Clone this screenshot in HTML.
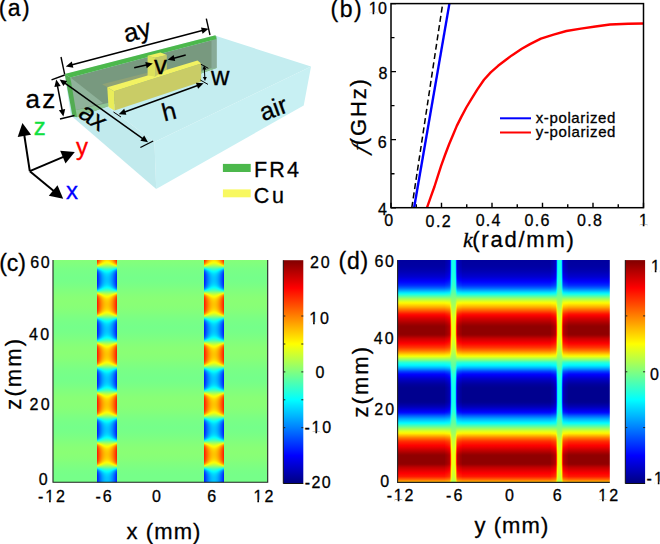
<!DOCTYPE html><html><head><meta charset="utf-8"><style>
html,body{margin:0;padding:0;background:#fff;}
svg{display:block;}
text{font-family:"Liberation Sans",sans-serif;stroke-width:0.3px;}
</style></head><body>
<svg width="660" height="544" viewBox="0 0 660 544">
<defs>
<linearGradient id="cb" x1="0" y1="0" x2="0" y2="1"><stop offset="0.000" stop-color="#800000"/><stop offset="0.025" stop-color="#990000"/><stop offset="0.050" stop-color="#b30000"/><stop offset="0.075" stop-color="#cc0000"/><stop offset="0.100" stop-color="#e50000"/><stop offset="0.125" stop-color="#ff0000"/><stop offset="0.150" stop-color="#ff1a00"/><stop offset="0.175" stop-color="#ff3300"/><stop offset="0.200" stop-color="#ff4c00"/><stop offset="0.225" stop-color="#ff6600"/><stop offset="0.250" stop-color="#ff8000"/><stop offset="0.275" stop-color="#ff9900"/><stop offset="0.300" stop-color="#ffb300"/><stop offset="0.325" stop-color="#ffcc00"/><stop offset="0.350" stop-color="#ffe500"/><stop offset="0.375" stop-color="#ffff00"/><stop offset="0.400" stop-color="#e5ff1a"/><stop offset="0.425" stop-color="#ccff33"/><stop offset="0.450" stop-color="#b3ff4c"/><stop offset="0.475" stop-color="#99ff66"/><stop offset="0.500" stop-color="#80ff80"/><stop offset="0.525" stop-color="#66ff99"/><stop offset="0.550" stop-color="#4cffb3"/><stop offset="0.575" stop-color="#33ffcc"/><stop offset="0.600" stop-color="#1affe5"/><stop offset="0.625" stop-color="#00ffff"/><stop offset="0.650" stop-color="#00e5ff"/><stop offset="0.675" stop-color="#00ccff"/><stop offset="0.700" stop-color="#00b3ff"/><stop offset="0.725" stop-color="#0099ff"/><stop offset="0.750" stop-color="#0080ff"/><stop offset="0.775" stop-color="#0066ff"/><stop offset="0.800" stop-color="#004cff"/><stop offset="0.825" stop-color="#0033ff"/><stop offset="0.850" stop-color="#001aff"/><stop offset="0.875" stop-color="#0000ff"/><stop offset="0.900" stop-color="#0000e5"/><stop offset="0.925" stop-color="#0000cc"/><stop offset="0.950" stop-color="#0000b3"/><stop offset="0.975" stop-color="#000099"/><stop offset="1.000" stop-color="#000080"/></linearGradient>
<linearGradient id="dband" x1="0" y1="0" x2="0" y2="1"><stop offset="0.0000" stop-color="#00009e"/><stop offset="0.0067" stop-color="#00009f"/><stop offset="0.0133" stop-color="#0000a1"/><stop offset="0.0200" stop-color="#0000a2"/><stop offset="0.0267" stop-color="#0000a3"/><stop offset="0.0333" stop-color="#0000a7"/><stop offset="0.0400" stop-color="#0000ab"/><stop offset="0.0467" stop-color="#0000af"/><stop offset="0.0533" stop-color="#0000b5"/><stop offset="0.0600" stop-color="#0000bd"/><stop offset="0.0667" stop-color="#0000c5"/><stop offset="0.0733" stop-color="#0000cd"/><stop offset="0.0800" stop-color="#0000d9"/><stop offset="0.0867" stop-color="#0000e8"/><stop offset="0.0933" stop-color="#0000f7"/><stop offset="0.1000" stop-color="#0007ff"/><stop offset="0.1067" stop-color="#0018ff"/><stop offset="0.1133" stop-color="#0029ff"/><stop offset="0.1200" stop-color="#0046ff"/><stop offset="0.1267" stop-color="#0066ff"/><stop offset="0.1333" stop-color="#008fff"/><stop offset="0.1400" stop-color="#00b9ff"/><stop offset="0.1467" stop-color="#00e4ff"/><stop offset="0.1533" stop-color="#11ffee"/><stop offset="0.1600" stop-color="#3fffc0"/><stop offset="0.1667" stop-color="#6eff91"/><stop offset="0.1733" stop-color="#99ff66"/><stop offset="0.1800" stop-color="#c0ff3f"/><stop offset="0.1867" stop-color="#e2ff1d"/><stop offset="0.1933" stop-color="#fffa00"/><stop offset="0.2000" stop-color="#ffde00"/><stop offset="0.2067" stop-color="#ffc200"/><stop offset="0.2133" stop-color="#ffa400"/><stop offset="0.2200" stop-color="#ff8200"/><stop offset="0.2267" stop-color="#ff6100"/><stop offset="0.2333" stop-color="#ff4000"/><stop offset="0.2400" stop-color="#ff1f00"/><stop offset="0.2467" stop-color="#ff0500"/><stop offset="0.2533" stop-color="#f10000"/><stop offset="0.2600" stop-color="#de0000"/><stop offset="0.2667" stop-color="#ce0000"/><stop offset="0.2733" stop-color="#bf0000"/><stop offset="0.2800" stop-color="#b00000"/><stop offset="0.2867" stop-color="#a30000"/><stop offset="0.2933" stop-color="#960000"/><stop offset="0.3000" stop-color="#8f0000"/><stop offset="0.3067" stop-color="#8f0000"/><stop offset="0.3133" stop-color="#8f0000"/><stop offset="0.3200" stop-color="#8f0000"/><stop offset="0.3267" stop-color="#8f0000"/><stop offset="0.3333" stop-color="#8f0000"/><stop offset="0.3400" stop-color="#9d0000"/><stop offset="0.3467" stop-color="#b30000"/><stop offset="0.3533" stop-color="#c90000"/><stop offset="0.3600" stop-color="#d90000"/><stop offset="0.3667" stop-color="#ea0000"/><stop offset="0.3733" stop-color="#fa0000"/><stop offset="0.3800" stop-color="#ff0e00"/><stop offset="0.3867" stop-color="#ff2200"/><stop offset="0.3933" stop-color="#ff3600"/><stop offset="0.4000" stop-color="#ff5200"/><stop offset="0.4067" stop-color="#ff6f00"/><stop offset="0.4133" stop-color="#ff9300"/><stop offset="0.4200" stop-color="#ffb800"/><stop offset="0.4267" stop-color="#ffe100"/><stop offset="0.4333" stop-color="#f2ff0d"/><stop offset="0.4400" stop-color="#c6ff39"/><stop offset="0.4467" stop-color="#99ff66"/><stop offset="0.4533" stop-color="#64ff9b"/><stop offset="0.4600" stop-color="#2effd1"/><stop offset="0.4667" stop-color="#11ffee"/><stop offset="0.4733" stop-color="#00f4ff"/><stop offset="0.4800" stop-color="#00d2ff"/><stop offset="0.4867" stop-color="#00aaff"/><stop offset="0.4933" stop-color="#007cff"/><stop offset="0.5000" stop-color="#0049ff"/><stop offset="0.5067" stop-color="#0026ff"/><stop offset="0.5133" stop-color="#0006ff"/><stop offset="0.5200" stop-color="#0000f2"/><stop offset="0.5267" stop-color="#0000df"/><stop offset="0.5333" stop-color="#0000cc"/><stop offset="0.5400" stop-color="#0000be"/><stop offset="0.5467" stop-color="#0000b2"/><stop offset="0.5533" stop-color="#0000a6"/><stop offset="0.5600" stop-color="#00009c"/><stop offset="0.5667" stop-color="#000096"/><stop offset="0.5733" stop-color="#000091"/><stop offset="0.5800" stop-color="#00008f"/><stop offset="0.5867" stop-color="#00008f"/><stop offset="0.5933" stop-color="#00008f"/><stop offset="0.6000" stop-color="#00008f"/><stop offset="0.6067" stop-color="#00008f"/><stop offset="0.6133" stop-color="#00008f"/><stop offset="0.6200" stop-color="#00008f"/><stop offset="0.6267" stop-color="#00008f"/><stop offset="0.6333" stop-color="#00008f"/><stop offset="0.6400" stop-color="#000093"/><stop offset="0.6467" stop-color="#00009e"/><stop offset="0.6533" stop-color="#0000aa"/><stop offset="0.6600" stop-color="#0000b8"/><stop offset="0.6667" stop-color="#0000cb"/><stop offset="0.6733" stop-color="#0000df"/><stop offset="0.6800" stop-color="#0000f3"/><stop offset="0.6867" stop-color="#000bff"/><stop offset="0.6933" stop-color="#0031ff"/><stop offset="0.7000" stop-color="#005bff"/><stop offset="0.7067" stop-color="#0080ff"/><stop offset="0.7133" stop-color="#00a5ff"/><stop offset="0.7200" stop-color="#00c4ff"/><stop offset="0.7267" stop-color="#00e1ff"/><stop offset="0.7333" stop-color="#00ffff"/><stop offset="0.7400" stop-color="#2affd5"/><stop offset="0.7467" stop-color="#54ffab"/><stop offset="0.7533" stop-color="#7eff81"/><stop offset="0.7600" stop-color="#a6ff59"/><stop offset="0.7667" stop-color="#ceff31"/><stop offset="0.7733" stop-color="#eeff11"/><stop offset="0.7800" stop-color="#ffef00"/><stop offset="0.7867" stop-color="#ffc800"/><stop offset="0.7933" stop-color="#ffa000"/><stop offset="0.8000" stop-color="#ff7800"/><stop offset="0.8067" stop-color="#ff5800"/><stop offset="0.8133" stop-color="#ff3700"/><stop offset="0.8200" stop-color="#ff2200"/><stop offset="0.8267" stop-color="#ff1200"/><stop offset="0.8333" stop-color="#ff0100"/><stop offset="0.8400" stop-color="#f00000"/><stop offset="0.8467" stop-color="#de0000"/><stop offset="0.8533" stop-color="#cb0000"/><stop offset="0.8600" stop-color="#ba0000"/><stop offset="0.8667" stop-color="#a90000"/><stop offset="0.8733" stop-color="#980000"/><stop offset="0.8800" stop-color="#8f0000"/><stop offset="0.8867" stop-color="#8f0000"/><stop offset="0.8933" stop-color="#8f0000"/><stop offset="0.9000" stop-color="#8f0000"/><stop offset="0.9067" stop-color="#8f0000"/><stop offset="0.9133" stop-color="#8f0000"/><stop offset="0.9200" stop-color="#980000"/><stop offset="0.9267" stop-color="#af0000"/><stop offset="0.9333" stop-color="#c30000"/><stop offset="0.9400" stop-color="#d20000"/><stop offset="0.9467" stop-color="#e20000"/><stop offset="0.9533" stop-color="#f10000"/><stop offset="0.9600" stop-color="#fe0000"/><stop offset="0.9667" stop-color="#ff0c00"/><stop offset="0.9733" stop-color="#ff1900"/><stop offset="0.9800" stop-color="#ff3c00"/><stop offset="0.9867" stop-color="#ff6300"/><stop offset="0.9933" stop-color="#ff9800"/><stop offset="1.0000" stop-color="#ffc700"/></linearGradient>
<linearGradient id="ds0" x1="0" y1="0" x2="0" y2="1"><stop offset="0.0000" stop-color="#0000a8"/><stop offset="0.0067" stop-color="#0000a9"/><stop offset="0.0133" stop-color="#0000aa"/><stop offset="0.0200" stop-color="#0000ac"/><stop offset="0.0267" stop-color="#0000ad"/><stop offset="0.0333" stop-color="#0000b1"/><stop offset="0.0400" stop-color="#0000b5"/><stop offset="0.0467" stop-color="#0000b9"/><stop offset="0.0533" stop-color="#0000be"/><stop offset="0.0600" stop-color="#0000c6"/><stop offset="0.0667" stop-color="#0000ce"/><stop offset="0.0733" stop-color="#0000d6"/><stop offset="0.0800" stop-color="#0000e2"/><stop offset="0.0867" stop-color="#0000f0"/><stop offset="0.0933" stop-color="#0000ff"/><stop offset="0.1000" stop-color="#000eff"/><stop offset="0.1067" stop-color="#001fff"/><stop offset="0.1133" stop-color="#0030ff"/><stop offset="0.1200" stop-color="#004cff"/><stop offset="0.1267" stop-color="#006cff"/><stop offset="0.1333" stop-color="#0093ff"/><stop offset="0.1400" stop-color="#00bdff"/><stop offset="0.1467" stop-color="#00e7ff"/><stop offset="0.1533" stop-color="#13ffec"/><stop offset="0.1600" stop-color="#41ffbe"/><stop offset="0.1667" stop-color="#6fff90"/><stop offset="0.1733" stop-color="#98ff67"/><stop offset="0.1800" stop-color="#bfff40"/><stop offset="0.1867" stop-color="#e0ff1f"/><stop offset="0.1933" stop-color="#fffd00"/><stop offset="0.2000" stop-color="#ffe100"/><stop offset="0.2067" stop-color="#ffc600"/><stop offset="0.2133" stop-color="#ffa800"/><stop offset="0.2200" stop-color="#ff8700"/><stop offset="0.2267" stop-color="#ff6600"/><stop offset="0.2333" stop-color="#ff4600"/><stop offset="0.2400" stop-color="#ff2600"/><stop offset="0.2467" stop-color="#ff0d00"/><stop offset="0.2533" stop-color="#f90000"/><stop offset="0.2600" stop-color="#e60000"/><stop offset="0.2667" stop-color="#d70000"/><stop offset="0.2733" stop-color="#c80000"/><stop offset="0.2800" stop-color="#b90000"/><stop offset="0.2867" stop-color="#ac0000"/><stop offset="0.2933" stop-color="#a00000"/><stop offset="0.3000" stop-color="#990000"/><stop offset="0.3067" stop-color="#990000"/><stop offset="0.3133" stop-color="#990000"/><stop offset="0.3200" stop-color="#990000"/><stop offset="0.3267" stop-color="#990000"/><stop offset="0.3333" stop-color="#990000"/><stop offset="0.3400" stop-color="#a60000"/><stop offset="0.3467" stop-color="#bc0000"/><stop offset="0.3533" stop-color="#d20000"/><stop offset="0.3600" stop-color="#e20000"/><stop offset="0.3667" stop-color="#f20000"/><stop offset="0.3733" stop-color="#ff0300"/><stop offset="0.3800" stop-color="#ff1500"/><stop offset="0.3867" stop-color="#ff2900"/><stop offset="0.3933" stop-color="#ff3d00"/><stop offset="0.4000" stop-color="#ff5800"/><stop offset="0.4067" stop-color="#ff7400"/><stop offset="0.4133" stop-color="#ff9800"/><stop offset="0.4200" stop-color="#ffbc00"/><stop offset="0.4267" stop-color="#ffe400"/><stop offset="0.4333" stop-color="#f0ff0f"/><stop offset="0.4400" stop-color="#c4ff3b"/><stop offset="0.4467" stop-color="#98ff67"/><stop offset="0.4533" stop-color="#64ff9b"/><stop offset="0.4600" stop-color="#2fffd0"/><stop offset="0.4667" stop-color="#13ffec"/><stop offset="0.4733" stop-color="#00f6ff"/><stop offset="0.4800" stop-color="#00d5ff"/><stop offset="0.4867" stop-color="#00afff"/><stop offset="0.4933" stop-color="#0081ff"/><stop offset="0.5000" stop-color="#004fff"/><stop offset="0.5067" stop-color="#002dff"/><stop offset="0.5133" stop-color="#000dff"/><stop offset="0.5200" stop-color="#0000fa"/><stop offset="0.5267" stop-color="#0000e7"/><stop offset="0.5333" stop-color="#0000d5"/><stop offset="0.5400" stop-color="#0000c7"/><stop offset="0.5467" stop-color="#0000bb"/><stop offset="0.5533" stop-color="#0000af"/><stop offset="0.5600" stop-color="#0000a6"/><stop offset="0.5667" stop-color="#0000a0"/><stop offset="0.5733" stop-color="#00009b"/><stop offset="0.5800" stop-color="#000099"/><stop offset="0.5867" stop-color="#000099"/><stop offset="0.5933" stop-color="#000099"/><stop offset="0.6000" stop-color="#000099"/><stop offset="0.6067" stop-color="#000099"/><stop offset="0.6133" stop-color="#000099"/><stop offset="0.6200" stop-color="#000099"/><stop offset="0.6267" stop-color="#000099"/><stop offset="0.6333" stop-color="#000099"/><stop offset="0.6400" stop-color="#00009d"/><stop offset="0.6467" stop-color="#0000a8"/><stop offset="0.6533" stop-color="#0000b3"/><stop offset="0.6600" stop-color="#0000c1"/><stop offset="0.6667" stop-color="#0000d4"/><stop offset="0.6733" stop-color="#0000e7"/><stop offset="0.6800" stop-color="#0000fb"/><stop offset="0.6867" stop-color="#0012ff"/><stop offset="0.6933" stop-color="#0038ff"/><stop offset="0.7000" stop-color="#0061ff"/><stop offset="0.7067" stop-color="#0085ff"/><stop offset="0.7133" stop-color="#00a9ff"/><stop offset="0.7200" stop-color="#00c8ff"/><stop offset="0.7267" stop-color="#00e4ff"/><stop offset="0.7333" stop-color="#03fffc"/><stop offset="0.7400" stop-color="#2cffd3"/><stop offset="0.7467" stop-color="#55ffaa"/><stop offset="0.7533" stop-color="#7eff81"/><stop offset="0.7600" stop-color="#a6ff59"/><stop offset="0.7667" stop-color="#ccff33"/><stop offset="0.7733" stop-color="#ecff13"/><stop offset="0.7800" stop-color="#fff200"/><stop offset="0.7867" stop-color="#ffcc00"/><stop offset="0.7933" stop-color="#ffa400"/><stop offset="0.8000" stop-color="#ff7e00"/><stop offset="0.8067" stop-color="#ff5e00"/><stop offset="0.8133" stop-color="#ff3e00"/><stop offset="0.8200" stop-color="#ff2900"/><stop offset="0.8267" stop-color="#ff1900"/><stop offset="0.8333" stop-color="#ff0900"/><stop offset="0.8400" stop-color="#f80000"/><stop offset="0.8467" stop-color="#e60000"/><stop offset="0.8533" stop-color="#d40000"/><stop offset="0.8600" stop-color="#c30000"/><stop offset="0.8667" stop-color="#b20000"/><stop offset="0.8733" stop-color="#a10000"/><stop offset="0.8800" stop-color="#990000"/><stop offset="0.8867" stop-color="#990000"/><stop offset="0.8933" stop-color="#990000"/><stop offset="0.9000" stop-color="#990000"/><stop offset="0.9067" stop-color="#990000"/><stop offset="0.9133" stop-color="#990000"/><stop offset="0.9200" stop-color="#a20000"/><stop offset="0.9267" stop-color="#b80000"/><stop offset="0.9333" stop-color="#cc0000"/><stop offset="0.9400" stop-color="#db0000"/><stop offset="0.9467" stop-color="#ea0000"/><stop offset="0.9533" stop-color="#f90000"/><stop offset="0.9600" stop-color="#ff0700"/><stop offset="0.9667" stop-color="#ff1400"/><stop offset="0.9733" stop-color="#ff2000"/><stop offset="0.9800" stop-color="#ff4200"/><stop offset="0.9867" stop-color="#ff6800"/><stop offset="0.9933" stop-color="#ff9c00"/><stop offset="1.0000" stop-color="#ffcb00"/></linearGradient>
<linearGradient id="ds1" x1="0" y1="0" x2="0" y2="1"><stop offset="0.0000" stop-color="#0000ad"/><stop offset="0.0067" stop-color="#0000ae"/><stop offset="0.0133" stop-color="#0000af"/><stop offset="0.0200" stop-color="#0000b1"/><stop offset="0.0267" stop-color="#0000b2"/><stop offset="0.0333" stop-color="#0000b6"/><stop offset="0.0400" stop-color="#0000ba"/><stop offset="0.0467" stop-color="#0000be"/><stop offset="0.0533" stop-color="#0000c3"/><stop offset="0.0600" stop-color="#0000cb"/><stop offset="0.0667" stop-color="#0000d3"/><stop offset="0.0733" stop-color="#0000db"/><stop offset="0.0800" stop-color="#0000e6"/><stop offset="0.0867" stop-color="#0000f4"/><stop offset="0.0933" stop-color="#0004ff"/><stop offset="0.1000" stop-color="#0012ff"/><stop offset="0.1067" stop-color="#0023ff"/><stop offset="0.1133" stop-color="#0034ff"/><stop offset="0.1200" stop-color="#004fff"/><stop offset="0.1267" stop-color="#006fff"/><stop offset="0.1333" stop-color="#0096ff"/><stop offset="0.1400" stop-color="#00bfff"/><stop offset="0.1467" stop-color="#00e8ff"/><stop offset="0.1533" stop-color="#14ffeb"/><stop offset="0.1600" stop-color="#41ffbe"/><stop offset="0.1667" stop-color="#6fff90"/><stop offset="0.1733" stop-color="#98ff67"/><stop offset="0.1800" stop-color="#beff41"/><stop offset="0.1867" stop-color="#dfff20"/><stop offset="0.1933" stop-color="#fffe00"/><stop offset="0.2000" stop-color="#ffe300"/><stop offset="0.2067" stop-color="#ffc800"/><stop offset="0.2133" stop-color="#ffab00"/><stop offset="0.2200" stop-color="#ff8a00"/><stop offset="0.2267" stop-color="#ff6900"/><stop offset="0.2333" stop-color="#ff4a00"/><stop offset="0.2400" stop-color="#ff2a00"/><stop offset="0.2467" stop-color="#ff1100"/><stop offset="0.2533" stop-color="#fd0000"/><stop offset="0.2600" stop-color="#ea0000"/><stop offset="0.2667" stop-color="#db0000"/><stop offset="0.2733" stop-color="#cd0000"/><stop offset="0.2800" stop-color="#be0000"/><stop offset="0.2867" stop-color="#b10000"/><stop offset="0.2933" stop-color="#a50000"/><stop offset="0.3000" stop-color="#9e0000"/><stop offset="0.3067" stop-color="#9e0000"/><stop offset="0.3133" stop-color="#9e0000"/><stop offset="0.3200" stop-color="#9e0000"/><stop offset="0.3267" stop-color="#9e0000"/><stop offset="0.3333" stop-color="#9e0000"/><stop offset="0.3400" stop-color="#ab0000"/><stop offset="0.3467" stop-color="#c10000"/><stop offset="0.3533" stop-color="#d60000"/><stop offset="0.3600" stop-color="#e60000"/><stop offset="0.3667" stop-color="#f60000"/><stop offset="0.3733" stop-color="#ff0700"/><stop offset="0.3800" stop-color="#ff1900"/><stop offset="0.3867" stop-color="#ff2d00"/><stop offset="0.3933" stop-color="#ff4100"/><stop offset="0.4000" stop-color="#ff5b00"/><stop offset="0.4067" stop-color="#ff7700"/><stop offset="0.4133" stop-color="#ff9b00"/><stop offset="0.4200" stop-color="#ffbe00"/><stop offset="0.4267" stop-color="#ffe600"/><stop offset="0.4333" stop-color="#eeff11"/><stop offset="0.4400" stop-color="#c3ff3c"/><stop offset="0.4467" stop-color="#98ff67"/><stop offset="0.4533" stop-color="#65ff9a"/><stop offset="0.4600" stop-color="#30ffcf"/><stop offset="0.4667" stop-color="#15ffea"/><stop offset="0.4733" stop-color="#00f8ff"/><stop offset="0.4800" stop-color="#00d7ff"/><stop offset="0.4867" stop-color="#00b1ff"/><stop offset="0.4933" stop-color="#0083ff"/><stop offset="0.5000" stop-color="#0053ff"/><stop offset="0.5067" stop-color="#0031ff"/><stop offset="0.5133" stop-color="#0011ff"/><stop offset="0.5200" stop-color="#0000fe"/><stop offset="0.5267" stop-color="#0000eb"/><stop offset="0.5333" stop-color="#0000d9"/><stop offset="0.5400" stop-color="#0000cc"/><stop offset="0.5467" stop-color="#0000c0"/><stop offset="0.5533" stop-color="#0000b4"/><stop offset="0.5600" stop-color="#0000ab"/><stop offset="0.5667" stop-color="#0000a5"/><stop offset="0.5733" stop-color="#0000a0"/><stop offset="0.5800" stop-color="#00009e"/><stop offset="0.5867" stop-color="#00009e"/><stop offset="0.5933" stop-color="#00009e"/><stop offset="0.6000" stop-color="#00009e"/><stop offset="0.6067" stop-color="#00009e"/><stop offset="0.6133" stop-color="#00009e"/><stop offset="0.6200" stop-color="#00009e"/><stop offset="0.6267" stop-color="#00009e"/><stop offset="0.6333" stop-color="#00009e"/><stop offset="0.6400" stop-color="#0000a2"/><stop offset="0.6467" stop-color="#0000ad"/><stop offset="0.6533" stop-color="#0000b8"/><stop offset="0.6600" stop-color="#0000c6"/><stop offset="0.6667" stop-color="#0000d9"/><stop offset="0.6733" stop-color="#0000ec"/><stop offset="0.6800" stop-color="#0000ff"/><stop offset="0.6867" stop-color="#0016ff"/><stop offset="0.6933" stop-color="#003cff"/><stop offset="0.7000" stop-color="#0064ff"/><stop offset="0.7067" stop-color="#0088ff"/><stop offset="0.7133" stop-color="#00abff"/><stop offset="0.7200" stop-color="#00caff"/><stop offset="0.7267" stop-color="#00e6ff"/><stop offset="0.7333" stop-color="#04fffb"/><stop offset="0.7400" stop-color="#2dffd2"/><stop offset="0.7467" stop-color="#56ffa9"/><stop offset="0.7533" stop-color="#7eff81"/><stop offset="0.7600" stop-color="#a5ff5a"/><stop offset="0.7667" stop-color="#cbff34"/><stop offset="0.7733" stop-color="#ebff14"/><stop offset="0.7800" stop-color="#fff300"/><stop offset="0.7867" stop-color="#ffce00"/><stop offset="0.7933" stop-color="#ffa600"/><stop offset="0.8000" stop-color="#ff8100"/><stop offset="0.8067" stop-color="#ff6100"/><stop offset="0.8133" stop-color="#ff4100"/><stop offset="0.8200" stop-color="#ff2d00"/><stop offset="0.8267" stop-color="#ff1d00"/><stop offset="0.8333" stop-color="#ff0d00"/><stop offset="0.8400" stop-color="#fc0000"/><stop offset="0.8467" stop-color="#ea0000"/><stop offset="0.8533" stop-color="#d90000"/><stop offset="0.8600" stop-color="#c80000"/><stop offset="0.8667" stop-color="#b70000"/><stop offset="0.8733" stop-color="#a70000"/><stop offset="0.8800" stop-color="#9e0000"/><stop offset="0.8867" stop-color="#9e0000"/><stop offset="0.8933" stop-color="#9e0000"/><stop offset="0.9000" stop-color="#9e0000"/><stop offset="0.9067" stop-color="#9e0000"/><stop offset="0.9133" stop-color="#9e0000"/><stop offset="0.9200" stop-color="#a70000"/><stop offset="0.9267" stop-color="#bd0000"/><stop offset="0.9333" stop-color="#d00000"/><stop offset="0.9400" stop-color="#df0000"/><stop offset="0.9467" stop-color="#ee0000"/><stop offset="0.9533" stop-color="#fd0000"/><stop offset="0.9600" stop-color="#ff0b00"/><stop offset="0.9667" stop-color="#ff1700"/><stop offset="0.9733" stop-color="#ff2400"/><stop offset="0.9800" stop-color="#ff4600"/><stop offset="0.9867" stop-color="#ff6b00"/><stop offset="0.9933" stop-color="#ff9f00"/><stop offset="1.0000" stop-color="#ffcd00"/></linearGradient>
<linearGradient id="ds2" x1="0" y1="0" x2="0" y2="1"><stop offset="0.0000" stop-color="#0000b3"/><stop offset="0.0067" stop-color="#0000b4"/><stop offset="0.0133" stop-color="#0000b6"/><stop offset="0.0200" stop-color="#0000b7"/><stop offset="0.0267" stop-color="#0000b8"/><stop offset="0.0333" stop-color="#0000bc"/><stop offset="0.0400" stop-color="#0000c0"/><stop offset="0.0467" stop-color="#0000c4"/><stop offset="0.0533" stop-color="#0000c9"/><stop offset="0.0600" stop-color="#0000d1"/><stop offset="0.0667" stop-color="#0000d8"/><stop offset="0.0733" stop-color="#0000e0"/><stop offset="0.0800" stop-color="#0000ec"/><stop offset="0.0867" stop-color="#0000fa"/><stop offset="0.0933" stop-color="#0009ff"/><stop offset="0.1000" stop-color="#0017ff"/><stop offset="0.1067" stop-color="#0027ff"/><stop offset="0.1133" stop-color="#0038ff"/><stop offset="0.1200" stop-color="#0053ff"/><stop offset="0.1267" stop-color="#0072ff"/><stop offset="0.1333" stop-color="#0099ff"/><stop offset="0.1400" stop-color="#00c1ff"/><stop offset="0.1467" stop-color="#00eaff"/><stop offset="0.1533" stop-color="#16ffe9"/><stop offset="0.1600" stop-color="#42ffbd"/><stop offset="0.1667" stop-color="#6fff90"/><stop offset="0.1733" stop-color="#97ff68"/><stop offset="0.1800" stop-color="#bdff42"/><stop offset="0.1867" stop-color="#deff21"/><stop offset="0.1933" stop-color="#feff01"/><stop offset="0.2000" stop-color="#ffe500"/><stop offset="0.2067" stop-color="#ffcb00"/><stop offset="0.2133" stop-color="#ffae00"/><stop offset="0.2200" stop-color="#ff8d00"/><stop offset="0.2267" stop-color="#ff6d00"/><stop offset="0.2333" stop-color="#ff4e00"/><stop offset="0.2400" stop-color="#ff2f00"/><stop offset="0.2467" stop-color="#ff1600"/><stop offset="0.2533" stop-color="#ff0300"/><stop offset="0.2600" stop-color="#f00000"/><stop offset="0.2667" stop-color="#e10000"/><stop offset="0.2733" stop-color="#d30000"/><stop offset="0.2800" stop-color="#c40000"/><stop offset="0.2867" stop-color="#b80000"/><stop offset="0.2933" stop-color="#ab0000"/><stop offset="0.3000" stop-color="#a50000"/><stop offset="0.3067" stop-color="#a50000"/><stop offset="0.3133" stop-color="#a50000"/><stop offset="0.3200" stop-color="#a50000"/><stop offset="0.3267" stop-color="#a50000"/><stop offset="0.3333" stop-color="#a50000"/><stop offset="0.3400" stop-color="#b20000"/><stop offset="0.3467" stop-color="#c70000"/><stop offset="0.3533" stop-color="#dc0000"/><stop offset="0.3600" stop-color="#ec0000"/><stop offset="0.3667" stop-color="#fc0000"/><stop offset="0.3733" stop-color="#ff0d00"/><stop offset="0.3800" stop-color="#ff1e00"/><stop offset="0.3867" stop-color="#ff3100"/><stop offset="0.3933" stop-color="#ff4500"/><stop offset="0.4000" stop-color="#ff5f00"/><stop offset="0.4067" stop-color="#ff7b00"/><stop offset="0.4133" stop-color="#ff9e00"/><stop offset="0.4200" stop-color="#ffc100"/><stop offset="0.4267" stop-color="#ffe800"/><stop offset="0.4333" stop-color="#edff12"/><stop offset="0.4400" stop-color="#c2ff3d"/><stop offset="0.4467" stop-color="#98ff67"/><stop offset="0.4533" stop-color="#65ff9a"/><stop offset="0.4600" stop-color="#31ffce"/><stop offset="0.4667" stop-color="#16ffe9"/><stop offset="0.4733" stop-color="#00faff"/><stop offset="0.4800" stop-color="#00d9ff"/><stop offset="0.4867" stop-color="#00b4ff"/><stop offset="0.4933" stop-color="#0087ff"/><stop offset="0.5000" stop-color="#0057ff"/><stop offset="0.5067" stop-color="#0035ff"/><stop offset="0.5133" stop-color="#0016ff"/><stop offset="0.5200" stop-color="#0004ff"/><stop offset="0.5267" stop-color="#0000f1"/><stop offset="0.5333" stop-color="#0000df"/><stop offset="0.5400" stop-color="#0000d2"/><stop offset="0.5467" stop-color="#0000c6"/><stop offset="0.5533" stop-color="#0000bb"/><stop offset="0.5600" stop-color="#0000b1"/><stop offset="0.5667" stop-color="#0000ac"/><stop offset="0.5733" stop-color="#0000a6"/><stop offset="0.5800" stop-color="#0000a5"/><stop offset="0.5867" stop-color="#0000a5"/><stop offset="0.5933" stop-color="#0000a5"/><stop offset="0.6000" stop-color="#0000a5"/><stop offset="0.6067" stop-color="#0000a5"/><stop offset="0.6133" stop-color="#0000a5"/><stop offset="0.6200" stop-color="#0000a5"/><stop offset="0.6267" stop-color="#0000a5"/><stop offset="0.6333" stop-color="#0000a5"/><stop offset="0.6400" stop-color="#0000a9"/><stop offset="0.6467" stop-color="#0000b4"/><stop offset="0.6533" stop-color="#0000bf"/><stop offset="0.6600" stop-color="#0000cc"/><stop offset="0.6667" stop-color="#0000df"/><stop offset="0.6733" stop-color="#0000f1"/><stop offset="0.6800" stop-color="#0006ff"/><stop offset="0.6867" stop-color="#001bff"/><stop offset="0.6933" stop-color="#0040ff"/><stop offset="0.7000" stop-color="#0068ff"/><stop offset="0.7067" stop-color="#008bff"/><stop offset="0.7133" stop-color="#00aeff"/><stop offset="0.7200" stop-color="#00cdff"/><stop offset="0.7267" stop-color="#00e8ff"/><stop offset="0.7333" stop-color="#06fff9"/><stop offset="0.7400" stop-color="#2effd1"/><stop offset="0.7467" stop-color="#56ffa9"/><stop offset="0.7533" stop-color="#7eff81"/><stop offset="0.7600" stop-color="#a5ff5a"/><stop offset="0.7667" stop-color="#caff35"/><stop offset="0.7733" stop-color="#e9ff16"/><stop offset="0.7800" stop-color="#fff500"/><stop offset="0.7867" stop-color="#ffd000"/><stop offset="0.7933" stop-color="#ffa900"/><stop offset="0.8000" stop-color="#ff8400"/><stop offset="0.8067" stop-color="#ff6500"/><stop offset="0.8133" stop-color="#ff4600"/><stop offset="0.8200" stop-color="#ff3100"/><stop offset="0.8267" stop-color="#ff2200"/><stop offset="0.8333" stop-color="#ff1200"/><stop offset="0.8400" stop-color="#ff0200"/><stop offset="0.8467" stop-color="#f00000"/><stop offset="0.8533" stop-color="#df0000"/><stop offset="0.8600" stop-color="#ce0000"/><stop offset="0.8667" stop-color="#bd0000"/><stop offset="0.8733" stop-color="#ad0000"/><stop offset="0.8800" stop-color="#a50000"/><stop offset="0.8867" stop-color="#a50000"/><stop offset="0.8933" stop-color="#a50000"/><stop offset="0.9000" stop-color="#a50000"/><stop offset="0.9067" stop-color="#a50000"/><stop offset="0.9133" stop-color="#a50000"/><stop offset="0.9200" stop-color="#ae0000"/><stop offset="0.9267" stop-color="#c30000"/><stop offset="0.9333" stop-color="#d60000"/><stop offset="0.9400" stop-color="#e50000"/><stop offset="0.9467" stop-color="#f40000"/><stop offset="0.9533" stop-color="#ff0300"/><stop offset="0.9600" stop-color="#ff1000"/><stop offset="0.9667" stop-color="#ff1c00"/><stop offset="0.9733" stop-color="#ff2900"/><stop offset="0.9800" stop-color="#ff4a00"/><stop offset="0.9867" stop-color="#ff6f00"/><stop offset="0.9933" stop-color="#ffa200"/><stop offset="1.0000" stop-color="#ffcf00"/></linearGradient>
<linearGradient id="ds3" x1="0" y1="0" x2="0" y2="1"><stop offset="0.0000" stop-color="#0000bb"/><stop offset="0.0067" stop-color="#0000bc"/><stop offset="0.0133" stop-color="#0000bd"/><stop offset="0.0200" stop-color="#0000be"/><stop offset="0.0267" stop-color="#0000c0"/><stop offset="0.0333" stop-color="#0000c3"/><stop offset="0.0400" stop-color="#0000c7"/><stop offset="0.0467" stop-color="#0000cb"/><stop offset="0.0533" stop-color="#0000d0"/><stop offset="0.0600" stop-color="#0000d8"/><stop offset="0.0667" stop-color="#0000df"/><stop offset="0.0733" stop-color="#0000e7"/><stop offset="0.0800" stop-color="#0000f2"/><stop offset="0.0867" stop-color="#0001ff"/><stop offset="0.0933" stop-color="#000fff"/><stop offset="0.1000" stop-color="#001dff"/><stop offset="0.1067" stop-color="#002dff"/><stop offset="0.1133" stop-color="#003eff"/><stop offset="0.1200" stop-color="#0058ff"/><stop offset="0.1267" stop-color="#0077ff"/><stop offset="0.1333" stop-color="#009dff"/><stop offset="0.1400" stop-color="#00c4ff"/><stop offset="0.1467" stop-color="#00edff"/><stop offset="0.1533" stop-color="#17ffe8"/><stop offset="0.1600" stop-color="#43ffbc"/><stop offset="0.1667" stop-color="#70ff8f"/><stop offset="0.1733" stop-color="#97ff68"/><stop offset="0.1800" stop-color="#bcff43"/><stop offset="0.1867" stop-color="#ddff22"/><stop offset="0.1933" stop-color="#fcff03"/><stop offset="0.2000" stop-color="#ffe800"/><stop offset="0.2067" stop-color="#ffce00"/><stop offset="0.2133" stop-color="#ffb100"/><stop offset="0.2200" stop-color="#ff9100"/><stop offset="0.2267" stop-color="#ff7200"/><stop offset="0.2333" stop-color="#ff5300"/><stop offset="0.2400" stop-color="#ff3400"/><stop offset="0.2467" stop-color="#ff1c00"/><stop offset="0.2533" stop-color="#ff0a00"/><stop offset="0.2600" stop-color="#f70000"/><stop offset="0.2667" stop-color="#e80000"/><stop offset="0.2733" stop-color="#da0000"/><stop offset="0.2800" stop-color="#cc0000"/><stop offset="0.2867" stop-color="#bf0000"/><stop offset="0.2933" stop-color="#b30000"/><stop offset="0.3000" stop-color="#ac0000"/><stop offset="0.3067" stop-color="#ac0000"/><stop offset="0.3133" stop-color="#ac0000"/><stop offset="0.3200" stop-color="#ac0000"/><stop offset="0.3267" stop-color="#ac0000"/><stop offset="0.3333" stop-color="#ac0000"/><stop offset="0.3400" stop-color="#b90000"/><stop offset="0.3467" stop-color="#cf0000"/><stop offset="0.3533" stop-color="#e30000"/><stop offset="0.3600" stop-color="#f30000"/><stop offset="0.3667" stop-color="#ff0300"/><stop offset="0.3733" stop-color="#ff1300"/><stop offset="0.3800" stop-color="#ff2400"/><stop offset="0.3867" stop-color="#ff3700"/><stop offset="0.3933" stop-color="#ff4a00"/><stop offset="0.4000" stop-color="#ff6400"/><stop offset="0.4067" stop-color="#ff7f00"/><stop offset="0.4133" stop-color="#ffa200"/><stop offset="0.4200" stop-color="#ffc400"/><stop offset="0.4267" stop-color="#ffea00"/><stop offset="0.4333" stop-color="#ebff14"/><stop offset="0.4400" stop-color="#c1ff3e"/><stop offset="0.4467" stop-color="#97ff68"/><stop offset="0.4533" stop-color="#65ff9a"/><stop offset="0.4600" stop-color="#33ffcc"/><stop offset="0.4667" stop-color="#18ffe7"/><stop offset="0.4733" stop-color="#00fcff"/><stop offset="0.4800" stop-color="#00dcff"/><stop offset="0.4867" stop-color="#00b7ff"/><stop offset="0.4933" stop-color="#008bff"/><stop offset="0.5000" stop-color="#005cff"/><stop offset="0.5067" stop-color="#003bff"/><stop offset="0.5133" stop-color="#001cff"/><stop offset="0.5200" stop-color="#000aff"/><stop offset="0.5267" stop-color="#0000f8"/><stop offset="0.5333" stop-color="#0000e6"/><stop offset="0.5400" stop-color="#0000d9"/><stop offset="0.5467" stop-color="#0000cd"/><stop offset="0.5533" stop-color="#0000c2"/><stop offset="0.5600" stop-color="#0000b9"/><stop offset="0.5667" stop-color="#0000b4"/><stop offset="0.5733" stop-color="#0000ae"/><stop offset="0.5800" stop-color="#0000ac"/><stop offset="0.5867" stop-color="#0000ac"/><stop offset="0.5933" stop-color="#0000ac"/><stop offset="0.6000" stop-color="#0000ac"/><stop offset="0.6067" stop-color="#0000ac"/><stop offset="0.6133" stop-color="#0000ac"/><stop offset="0.6200" stop-color="#0000ac"/><stop offset="0.6267" stop-color="#0000ac"/><stop offset="0.6333" stop-color="#0000ac"/><stop offset="0.6400" stop-color="#0000b0"/><stop offset="0.6467" stop-color="#0000bb"/><stop offset="0.6533" stop-color="#0000c6"/><stop offset="0.6600" stop-color="#0000d3"/><stop offset="0.6667" stop-color="#0000e5"/><stop offset="0.6733" stop-color="#0000f8"/><stop offset="0.6800" stop-color="#000cff"/><stop offset="0.6867" stop-color="#0021ff"/><stop offset="0.6933" stop-color="#0045ff"/><stop offset="0.7000" stop-color="#006dff"/><stop offset="0.7067" stop-color="#008fff"/><stop offset="0.7133" stop-color="#00b2ff"/><stop offset="0.7200" stop-color="#00d0ff"/><stop offset="0.7267" stop-color="#00eaff"/><stop offset="0.7333" stop-color="#08fff7"/><stop offset="0.7400" stop-color="#2fffd0"/><stop offset="0.7467" stop-color="#57ffa8"/><stop offset="0.7533" stop-color="#7eff81"/><stop offset="0.7600" stop-color="#a4ff5b"/><stop offset="0.7667" stop-color="#c9ff36"/><stop offset="0.7733" stop-color="#e8ff17"/><stop offset="0.7800" stop-color="#fff800"/><stop offset="0.7867" stop-color="#ffd300"/><stop offset="0.7933" stop-color="#ffad00"/><stop offset="0.8000" stop-color="#ff8800"/><stop offset="0.8067" stop-color="#ff6900"/><stop offset="0.8133" stop-color="#ff4b00"/><stop offset="0.8200" stop-color="#ff3700"/><stop offset="0.8267" stop-color="#ff2700"/><stop offset="0.8333" stop-color="#ff1800"/><stop offset="0.8400" stop-color="#ff0800"/><stop offset="0.8467" stop-color="#f60000"/><stop offset="0.8533" stop-color="#e60000"/><stop offset="0.8600" stop-color="#d50000"/><stop offset="0.8667" stop-color="#c50000"/><stop offset="0.8733" stop-color="#b50000"/><stop offset="0.8800" stop-color="#ac0000"/><stop offset="0.8867" stop-color="#ac0000"/><stop offset="0.8933" stop-color="#ac0000"/><stop offset="0.9000" stop-color="#ac0000"/><stop offset="0.9067" stop-color="#ac0000"/><stop offset="0.9133" stop-color="#ac0000"/><stop offset="0.9200" stop-color="#b50000"/><stop offset="0.9267" stop-color="#cb0000"/><stop offset="0.9333" stop-color="#dd0000"/><stop offset="0.9400" stop-color="#ec0000"/><stop offset="0.9467" stop-color="#fa0000"/><stop offset="0.9533" stop-color="#ff0a00"/><stop offset="0.9600" stop-color="#ff1600"/><stop offset="0.9667" stop-color="#ff2200"/><stop offset="0.9733" stop-color="#ff2f00"/><stop offset="0.9800" stop-color="#ff4f00"/><stop offset="0.9867" stop-color="#ff7400"/><stop offset="0.9933" stop-color="#ffa500"/><stop offset="1.0000" stop-color="#ffd200"/></linearGradient>
<linearGradient id="ds4" x1="0" y1="0" x2="0" y2="1"><stop offset="0.0000" stop-color="#0000c5"/><stop offset="0.0067" stop-color="#0000c6"/><stop offset="0.0133" stop-color="#0000c8"/><stop offset="0.0200" stop-color="#0000c9"/><stop offset="0.0267" stop-color="#0000ca"/><stop offset="0.0333" stop-color="#0000ce"/><stop offset="0.0400" stop-color="#0000d1"/><stop offset="0.0467" stop-color="#0000d5"/><stop offset="0.0533" stop-color="#0000da"/><stop offset="0.0600" stop-color="#0000e1"/><stop offset="0.0667" stop-color="#0000e9"/><stop offset="0.0733" stop-color="#0000f1"/><stop offset="0.0800" stop-color="#0000fb"/><stop offset="0.0867" stop-color="#000aff"/><stop offset="0.0933" stop-color="#0018ff"/><stop offset="0.1000" stop-color="#0025ff"/><stop offset="0.1067" stop-color="#0035ff"/><stop offset="0.1133" stop-color="#0045ff"/><stop offset="0.1200" stop-color="#005fff"/><stop offset="0.1267" stop-color="#007dff"/><stop offset="0.1333" stop-color="#00a2ff"/><stop offset="0.1400" stop-color="#00c9ff"/><stop offset="0.1467" stop-color="#00f0ff"/><stop offset="0.1533" stop-color="#1affe5"/><stop offset="0.1600" stop-color="#44ffbb"/><stop offset="0.1667" stop-color="#70ff8f"/><stop offset="0.1733" stop-color="#97ff68"/><stop offset="0.1800" stop-color="#bbff44"/><stop offset="0.1867" stop-color="#daff25"/><stop offset="0.1933" stop-color="#f9ff06"/><stop offset="0.2000" stop-color="#ffeb00"/><stop offset="0.2067" stop-color="#ffd200"/><stop offset="0.2133" stop-color="#ffb600"/><stop offset="0.2200" stop-color="#ff9700"/><stop offset="0.2267" stop-color="#ff7800"/><stop offset="0.2333" stop-color="#ff5a00"/><stop offset="0.2400" stop-color="#ff3c00"/><stop offset="0.2467" stop-color="#ff2400"/><stop offset="0.2533" stop-color="#ff1200"/><stop offset="0.2600" stop-color="#ff0100"/><stop offset="0.2667" stop-color="#f10000"/><stop offset="0.2733" stop-color="#e30000"/><stop offset="0.2800" stop-color="#d60000"/><stop offset="0.2867" stop-color="#ca0000"/><stop offset="0.2933" stop-color="#bd0000"/><stop offset="0.3000" stop-color="#b70000"/><stop offset="0.3067" stop-color="#b70000"/><stop offset="0.3133" stop-color="#b70000"/><stop offset="0.3200" stop-color="#b70000"/><stop offset="0.3267" stop-color="#b70000"/><stop offset="0.3333" stop-color="#b70000"/><stop offset="0.3400" stop-color="#c40000"/><stop offset="0.3467" stop-color="#d90000"/><stop offset="0.3533" stop-color="#ed0000"/><stop offset="0.3600" stop-color="#fc0000"/><stop offset="0.3667" stop-color="#ff0c00"/><stop offset="0.3733" stop-color="#ff1b00"/><stop offset="0.3800" stop-color="#ff2c00"/><stop offset="0.3867" stop-color="#ff3e00"/><stop offset="0.3933" stop-color="#ff5100"/><stop offset="0.4000" stop-color="#ff6a00"/><stop offset="0.4067" stop-color="#ff8500"/><stop offset="0.4133" stop-color="#ffa700"/><stop offset="0.4200" stop-color="#ffc800"/><stop offset="0.4267" stop-color="#ffee00"/><stop offset="0.4333" stop-color="#e9ff16"/><stop offset="0.4400" stop-color="#c0ff3f"/><stop offset="0.4467" stop-color="#97ff68"/><stop offset="0.4533" stop-color="#66ff99"/><stop offset="0.4600" stop-color="#34ffcb"/><stop offset="0.4667" stop-color="#1affe5"/><stop offset="0.4733" stop-color="#00ffff"/><stop offset="0.4800" stop-color="#00e0ff"/><stop offset="0.4867" stop-color="#00bcff"/><stop offset="0.4933" stop-color="#0091ff"/><stop offset="0.5000" stop-color="#0062ff"/><stop offset="0.5067" stop-color="#0042ff"/><stop offset="0.5133" stop-color="#0025ff"/><stop offset="0.5200" stop-color="#0013ff"/><stop offset="0.5267" stop-color="#0002ff"/><stop offset="0.5333" stop-color="#0000ef"/><stop offset="0.5400" stop-color="#0000e3"/><stop offset="0.5467" stop-color="#0000d7"/><stop offset="0.5533" stop-color="#0000cc"/><stop offset="0.5600" stop-color="#0000c3"/><stop offset="0.5667" stop-color="#0000be"/><stop offset="0.5733" stop-color="#0000b9"/><stop offset="0.5800" stop-color="#0000b7"/><stop offset="0.5867" stop-color="#0000b7"/><stop offset="0.5933" stop-color="#0000b7"/><stop offset="0.6000" stop-color="#0000b7"/><stop offset="0.6067" stop-color="#0000b7"/><stop offset="0.6133" stop-color="#0000b7"/><stop offset="0.6200" stop-color="#0000b7"/><stop offset="0.6267" stop-color="#0000b7"/><stop offset="0.6333" stop-color="#0000b7"/><stop offset="0.6400" stop-color="#0000bb"/><stop offset="0.6467" stop-color="#0000c6"/><stop offset="0.6533" stop-color="#0000d0"/><stop offset="0.6600" stop-color="#0000dd"/><stop offset="0.6667" stop-color="#0000ef"/><stop offset="0.6733" stop-color="#0002ff"/><stop offset="0.6800" stop-color="#0014ff"/><stop offset="0.6867" stop-color="#0029ff"/><stop offset="0.6933" stop-color="#004dff"/><stop offset="0.7000" stop-color="#0073ff"/><stop offset="0.7067" stop-color="#0095ff"/><stop offset="0.7133" stop-color="#00b7ff"/><stop offset="0.7200" stop-color="#00d4ff"/><stop offset="0.7267" stop-color="#00eeff"/><stop offset="0.7333" stop-color="#0bfff4"/><stop offset="0.7400" stop-color="#31ffce"/><stop offset="0.7467" stop-color="#58ffa7"/><stop offset="0.7533" stop-color="#7eff81"/><stop offset="0.7600" stop-color="#a3ff5c"/><stop offset="0.7667" stop-color="#c7ff38"/><stop offset="0.7733" stop-color="#e5ff1a"/><stop offset="0.7800" stop-color="#fffb00"/><stop offset="0.7867" stop-color="#ffd700"/><stop offset="0.7933" stop-color="#ffb200"/><stop offset="0.8000" stop-color="#ff8e00"/><stop offset="0.8067" stop-color="#ff7000"/><stop offset="0.8133" stop-color="#ff5200"/><stop offset="0.8200" stop-color="#ff3e00"/><stop offset="0.8267" stop-color="#ff2f00"/><stop offset="0.8333" stop-color="#ff2000"/><stop offset="0.8400" stop-color="#ff1100"/><stop offset="0.8467" stop-color="#ff0000"/><stop offset="0.8533" stop-color="#ef0000"/><stop offset="0.8600" stop-color="#df0000"/><stop offset="0.8667" stop-color="#cf0000"/><stop offset="0.8733" stop-color="#bf0000"/><stop offset="0.8800" stop-color="#b70000"/><stop offset="0.8867" stop-color="#b70000"/><stop offset="0.8933" stop-color="#b70000"/><stop offset="0.9000" stop-color="#b70000"/><stop offset="0.9067" stop-color="#b70000"/><stop offset="0.9133" stop-color="#b70000"/><stop offset="0.9200" stop-color="#c00000"/><stop offset="0.9267" stop-color="#d50000"/><stop offset="0.9333" stop-color="#e70000"/><stop offset="0.9400" stop-color="#f50000"/><stop offset="0.9467" stop-color="#ff0400"/><stop offset="0.9533" stop-color="#ff1200"/><stop offset="0.9600" stop-color="#ff1e00"/><stop offset="0.9667" stop-color="#ff2a00"/><stop offset="0.9733" stop-color="#ff3600"/><stop offset="0.9800" stop-color="#ff5600"/><stop offset="0.9867" stop-color="#ff7a00"/><stop offset="0.9933" stop-color="#ffaa00"/><stop offset="1.0000" stop-color="#ffd600"/></linearGradient>
<linearGradient id="ds5" x1="0" y1="0" x2="0" y2="1"><stop offset="0.0000" stop-color="#0031ff"/><stop offset="0.0067" stop-color="#0031ff"/><stop offset="0.0133" stop-color="#0032ff"/><stop offset="0.0200" stop-color="#0033ff"/><stop offset="0.0267" stop-color="#0034ff"/><stop offset="0.0333" stop-color="#0037ff"/><stop offset="0.0400" stop-color="#003aff"/><stop offset="0.0467" stop-color="#003dff"/><stop offset="0.0533" stop-color="#0040ff"/><stop offset="0.0600" stop-color="#0046ff"/><stop offset="0.0667" stop-color="#004cff"/><stop offset="0.0733" stop-color="#0051ff"/><stop offset="0.0800" stop-color="#005aff"/><stop offset="0.0867" stop-color="#0064ff"/><stop offset="0.0933" stop-color="#006eff"/><stop offset="0.1000" stop-color="#0079ff"/><stop offset="0.1067" stop-color="#0084ff"/><stop offset="0.1133" stop-color="#0091ff"/><stop offset="0.1200" stop-color="#00a5ff"/><stop offset="0.1267" stop-color="#00bbff"/><stop offset="0.1333" stop-color="#00d7ff"/><stop offset="0.1400" stop-color="#00f5ff"/><stop offset="0.1467" stop-color="#14ffeb"/><stop offset="0.1533" stop-color="#32ffcd"/><stop offset="0.1600" stop-color="#53ffac"/><stop offset="0.1667" stop-color="#74ff8b"/><stop offset="0.1733" stop-color="#91ff6e"/><stop offset="0.1800" stop-color="#acff53"/><stop offset="0.1867" stop-color="#c4ff3b"/><stop offset="0.1933" stop-color="#dcff23"/><stop offset="0.2000" stop-color="#efff10"/><stop offset="0.2067" stop-color="#fffb00"/><stop offset="0.2133" stop-color="#ffe600"/><stop offset="0.2200" stop-color="#ffcf00"/><stop offset="0.2267" stop-color="#ffb700"/><stop offset="0.2333" stop-color="#ffa100"/><stop offset="0.2400" stop-color="#ff8a00"/><stop offset="0.2467" stop-color="#ff7800"/><stop offset="0.2533" stop-color="#ff6a00"/><stop offset="0.2600" stop-color="#ff5d00"/><stop offset="0.2667" stop-color="#ff5200"/><stop offset="0.2733" stop-color="#ff4700"/><stop offset="0.2800" stop-color="#ff3d00"/><stop offset="0.2867" stop-color="#ff3400"/><stop offset="0.2933" stop-color="#ff2b00"/><stop offset="0.3000" stop-color="#ff2600"/><stop offset="0.3067" stop-color="#ff2600"/><stop offset="0.3133" stop-color="#ff2600"/><stop offset="0.3200" stop-color="#ff2600"/><stop offset="0.3267" stop-color="#ff2600"/><stop offset="0.3333" stop-color="#ff2600"/><stop offset="0.3400" stop-color="#ff3000"/><stop offset="0.3467" stop-color="#ff3f00"/><stop offset="0.3533" stop-color="#ff4e00"/><stop offset="0.3600" stop-color="#ff5a00"/><stop offset="0.3667" stop-color="#ff6500"/><stop offset="0.3733" stop-color="#ff7100"/><stop offset="0.3800" stop-color="#ff7d00"/><stop offset="0.3867" stop-color="#ff8c00"/><stop offset="0.3933" stop-color="#ff9a00"/><stop offset="0.4000" stop-color="#ffad00"/><stop offset="0.4067" stop-color="#ffc100"/><stop offset="0.4133" stop-color="#ffdb00"/><stop offset="0.4200" stop-color="#fff400"/><stop offset="0.4267" stop-color="#edff12"/><stop offset="0.4333" stop-color="#cfff30"/><stop offset="0.4400" stop-color="#b0ff4f"/><stop offset="0.4467" stop-color="#91ff6e"/><stop offset="0.4533" stop-color="#6cff93"/><stop offset="0.4600" stop-color="#47ffb8"/><stop offset="0.4667" stop-color="#33ffcc"/><stop offset="0.4733" stop-color="#1fffe0"/><stop offset="0.4800" stop-color="#07fff8"/><stop offset="0.4867" stop-color="#00ebff"/><stop offset="0.4933" stop-color="#00caff"/><stop offset="0.5000" stop-color="#00a7ff"/><stop offset="0.5067" stop-color="#008fff"/><stop offset="0.5133" stop-color="#0078ff"/><stop offset="0.5200" stop-color="#006bff"/><stop offset="0.5267" stop-color="#005eff"/><stop offset="0.5333" stop-color="#0050ff"/><stop offset="0.5400" stop-color="#0047ff"/><stop offset="0.5467" stop-color="#003eff"/><stop offset="0.5533" stop-color="#0036ff"/><stop offset="0.5600" stop-color="#002fff"/><stop offset="0.5667" stop-color="#002bff"/><stop offset="0.5733" stop-color="#0027ff"/><stop offset="0.5800" stop-color="#0026ff"/><stop offset="0.5867" stop-color="#0026ff"/><stop offset="0.5933" stop-color="#0026ff"/><stop offset="0.6000" stop-color="#0026ff"/><stop offset="0.6067" stop-color="#0026ff"/><stop offset="0.6133" stop-color="#0026ff"/><stop offset="0.6200" stop-color="#0026ff"/><stop offset="0.6267" stop-color="#0026ff"/><stop offset="0.6333" stop-color="#0026ff"/><stop offset="0.6400" stop-color="#0029ff"/><stop offset="0.6467" stop-color="#0031ff"/><stop offset="0.6533" stop-color="#0039ff"/><stop offset="0.6600" stop-color="#0042ff"/><stop offset="0.6667" stop-color="#0050ff"/><stop offset="0.6733" stop-color="#005eff"/><stop offset="0.6800" stop-color="#006cff"/><stop offset="0.6867" stop-color="#007cff"/><stop offset="0.6933" stop-color="#0097ff"/><stop offset="0.7000" stop-color="#00b4ff"/><stop offset="0.7067" stop-color="#00cdff"/><stop offset="0.7133" stop-color="#00e7ff"/><stop offset="0.7200" stop-color="#00fdff"/><stop offset="0.7267" stop-color="#12ffed"/><stop offset="0.7333" stop-color="#27ffd8"/><stop offset="0.7400" stop-color="#44ffbb"/><stop offset="0.7467" stop-color="#61ff9e"/><stop offset="0.7533" stop-color="#7eff81"/><stop offset="0.7600" stop-color="#9bff64"/><stop offset="0.7667" stop-color="#b6ff49"/><stop offset="0.7733" stop-color="#cdff32"/><stop offset="0.7800" stop-color="#e4ff1b"/><stop offset="0.7867" stop-color="#feff01"/><stop offset="0.7933" stop-color="#ffe300"/><stop offset="0.8000" stop-color="#ffc800"/><stop offset="0.8067" stop-color="#ffb100"/><stop offset="0.8133" stop-color="#ff9a00"/><stop offset="0.8200" stop-color="#ff8c00"/><stop offset="0.8267" stop-color="#ff8000"/><stop offset="0.8333" stop-color="#ff7500"/><stop offset="0.8400" stop-color="#ff6900"/><stop offset="0.8467" stop-color="#ff5d00"/><stop offset="0.8533" stop-color="#ff5000"/><stop offset="0.8600" stop-color="#ff4400"/><stop offset="0.8667" stop-color="#ff3800"/><stop offset="0.8733" stop-color="#ff2c00"/><stop offset="0.8800" stop-color="#ff2600"/><stop offset="0.8867" stop-color="#ff2600"/><stop offset="0.8933" stop-color="#ff2600"/><stop offset="0.9000" stop-color="#ff2600"/><stop offset="0.9067" stop-color="#ff2600"/><stop offset="0.9133" stop-color="#ff2600"/><stop offset="0.9200" stop-color="#ff2c00"/><stop offset="0.9267" stop-color="#ff3c00"/><stop offset="0.9333" stop-color="#ff4a00"/><stop offset="0.9400" stop-color="#ff5500"/><stop offset="0.9467" stop-color="#ff6000"/><stop offset="0.9533" stop-color="#ff6a00"/><stop offset="0.9600" stop-color="#ff7300"/><stop offset="0.9667" stop-color="#ff7c00"/><stop offset="0.9733" stop-color="#ff8600"/><stop offset="0.9800" stop-color="#ff9e00"/><stop offset="0.9867" stop-color="#ffb900"/><stop offset="0.9933" stop-color="#ffde00"/><stop offset="1.0000" stop-color="#ffff00"/></linearGradient>
<linearGradient id="ds6" x1="0" y1="0" x2="0" y2="1"><stop offset="0.0000" stop-color="#00e6ff"/><stop offset="0.0067" stop-color="#00e7ff"/><stop offset="0.0133" stop-color="#00e7ff"/><stop offset="0.0200" stop-color="#00e8ff"/><stop offset="0.0267" stop-color="#00e8ff"/><stop offset="0.0333" stop-color="#00e9ff"/><stop offset="0.0400" stop-color="#00ebff"/><stop offset="0.0467" stop-color="#00ecff"/><stop offset="0.0533" stop-color="#00eeff"/><stop offset="0.0600" stop-color="#00f0ff"/><stop offset="0.0667" stop-color="#00f3ff"/><stop offset="0.0733" stop-color="#00f5ff"/><stop offset="0.0800" stop-color="#00f9ff"/><stop offset="0.0867" stop-color="#00feff"/><stop offset="0.0933" stop-color="#04fffb"/><stop offset="0.1000" stop-color="#08fff7"/><stop offset="0.1067" stop-color="#0efff1"/><stop offset="0.1133" stop-color="#13ffec"/><stop offset="0.1200" stop-color="#1cffe3"/><stop offset="0.1267" stop-color="#27ffd8"/><stop offset="0.1333" stop-color="#33ffcc"/><stop offset="0.1400" stop-color="#41ffbe"/><stop offset="0.1467" stop-color="#4effb1"/><stop offset="0.1533" stop-color="#5cffa3"/><stop offset="0.1600" stop-color="#6bff94"/><stop offset="0.1667" stop-color="#7aff85"/><stop offset="0.1733" stop-color="#87ff78"/><stop offset="0.1800" stop-color="#94ff6b"/><stop offset="0.1867" stop-color="#9fff60"/><stop offset="0.1933" stop-color="#aaff55"/><stop offset="0.2000" stop-color="#b2ff4d"/><stop offset="0.2067" stop-color="#bbff44"/><stop offset="0.2133" stop-color="#c5ff3a"/><stop offset="0.2200" stop-color="#cfff30"/><stop offset="0.2267" stop-color="#daff25"/><stop offset="0.2333" stop-color="#e5ff1a"/><stop offset="0.2400" stop-color="#efff10"/><stop offset="0.2467" stop-color="#f7ff08"/><stop offset="0.2533" stop-color="#fdff02"/><stop offset="0.2600" stop-color="#fffb00"/><stop offset="0.2667" stop-color="#fff600"/><stop offset="0.2733" stop-color="#fff100"/><stop offset="0.2800" stop-color="#ffec00"/><stop offset="0.2867" stop-color="#ffe800"/><stop offset="0.2933" stop-color="#ffe400"/><stop offset="0.3000" stop-color="#ffe200"/><stop offset="0.3067" stop-color="#ffe200"/><stop offset="0.3133" stop-color="#ffe200"/><stop offset="0.3200" stop-color="#ffe200"/><stop offset="0.3267" stop-color="#ffe200"/><stop offset="0.3333" stop-color="#ffe200"/><stop offset="0.3400" stop-color="#ffe600"/><stop offset="0.3467" stop-color="#ffed00"/><stop offset="0.3533" stop-color="#fff400"/><stop offset="0.3600" stop-color="#fff900"/><stop offset="0.3667" stop-color="#fffe00"/><stop offset="0.3733" stop-color="#faff05"/><stop offset="0.3800" stop-color="#f5ff0a"/><stop offset="0.3867" stop-color="#eeff11"/><stop offset="0.3933" stop-color="#e8ff17"/><stop offset="0.4000" stop-color="#dfff20"/><stop offset="0.4067" stop-color="#d6ff29"/><stop offset="0.4133" stop-color="#caff35"/><stop offset="0.4200" stop-color="#beff41"/><stop offset="0.4267" stop-color="#b1ff4e"/><stop offset="0.4333" stop-color="#a4ff5b"/><stop offset="0.4400" stop-color="#96ff69"/><stop offset="0.4467" stop-color="#88ff77"/><stop offset="0.4533" stop-color="#77ff88"/><stop offset="0.4600" stop-color="#66ff99"/><stop offset="0.4667" stop-color="#5dffa2"/><stop offset="0.4733" stop-color="#53ffac"/><stop offset="0.4800" stop-color="#49ffb6"/><stop offset="0.4867" stop-color="#3cffc3"/><stop offset="0.4933" stop-color="#2dffd2"/><stop offset="0.5000" stop-color="#1dffe2"/><stop offset="0.5067" stop-color="#12ffed"/><stop offset="0.5133" stop-color="#08fff7"/><stop offset="0.5200" stop-color="#02fffd"/><stop offset="0.5267" stop-color="#00fbff"/><stop offset="0.5333" stop-color="#00f5ff"/><stop offset="0.5400" stop-color="#00f1ff"/><stop offset="0.5467" stop-color="#00edff"/><stop offset="0.5533" stop-color="#00e9ff"/><stop offset="0.5600" stop-color="#00e6ff"/><stop offset="0.5667" stop-color="#00e4ff"/><stop offset="0.5733" stop-color="#00e2ff"/><stop offset="0.5800" stop-color="#00e2ff"/><stop offset="0.5867" stop-color="#00e2ff"/><stop offset="0.5933" stop-color="#00e2ff"/><stop offset="0.6000" stop-color="#00e2ff"/><stop offset="0.6067" stop-color="#00e2ff"/><stop offset="0.6133" stop-color="#00e2ff"/><stop offset="0.6200" stop-color="#00e2ff"/><stop offset="0.6267" stop-color="#00e2ff"/><stop offset="0.6333" stop-color="#00e2ff"/><stop offset="0.6400" stop-color="#00e3ff"/><stop offset="0.6467" stop-color="#00e7ff"/><stop offset="0.6533" stop-color="#00eaff"/><stop offset="0.6600" stop-color="#00efff"/><stop offset="0.6667" stop-color="#00f5ff"/><stop offset="0.6733" stop-color="#00fbff"/><stop offset="0.6800" stop-color="#02fffd"/><stop offset="0.6867" stop-color="#0afff5"/><stop offset="0.6933" stop-color="#16ffe9"/><stop offset="0.7000" stop-color="#23ffdc"/><stop offset="0.7067" stop-color="#2fffd0"/><stop offset="0.7133" stop-color="#3affc5"/><stop offset="0.7200" stop-color="#44ffbb"/><stop offset="0.7267" stop-color="#4effb1"/><stop offset="0.7333" stop-color="#57ffa8"/><stop offset="0.7400" stop-color="#65ff9a"/><stop offset="0.7467" stop-color="#72ff8d"/><stop offset="0.7533" stop-color="#7fff80"/><stop offset="0.7600" stop-color="#8cff73"/><stop offset="0.7667" stop-color="#98ff67"/><stop offset="0.7733" stop-color="#a3ff5c"/><stop offset="0.7800" stop-color="#adff52"/><stop offset="0.7867" stop-color="#b9ff46"/><stop offset="0.7933" stop-color="#c6ff39"/><stop offset="0.8000" stop-color="#d3ff2c"/><stop offset="0.8067" stop-color="#ddff22"/><stop offset="0.8133" stop-color="#e7ff18"/><stop offset="0.8200" stop-color="#eeff11"/><stop offset="0.8267" stop-color="#f3ff0c"/><stop offset="0.8333" stop-color="#f8ff07"/><stop offset="0.8400" stop-color="#feff01"/><stop offset="0.8467" stop-color="#fffb00"/><stop offset="0.8533" stop-color="#fff500"/><stop offset="0.8600" stop-color="#ffef00"/><stop offset="0.8667" stop-color="#ffea00"/><stop offset="0.8733" stop-color="#ffe400"/><stop offset="0.8800" stop-color="#ffe200"/><stop offset="0.8867" stop-color="#ffe200"/><stop offset="0.8933" stop-color="#ffe200"/><stop offset="0.9000" stop-color="#ffe200"/><stop offset="0.9067" stop-color="#ffe200"/><stop offset="0.9133" stop-color="#ffe200"/><stop offset="0.9200" stop-color="#ffe500"/><stop offset="0.9267" stop-color="#ffec00"/><stop offset="0.9333" stop-color="#fff200"/><stop offset="0.9400" stop-color="#fff700"/><stop offset="0.9467" stop-color="#fffc00"/><stop offset="0.9533" stop-color="#fdff02"/><stop offset="0.9600" stop-color="#f9ff06"/><stop offset="0.9667" stop-color="#f5ff0a"/><stop offset="0.9733" stop-color="#f1ff0e"/><stop offset="0.9800" stop-color="#e6ff19"/><stop offset="0.9867" stop-color="#daff25"/><stop offset="0.9933" stop-color="#c9ff36"/><stop offset="1.0000" stop-color="#baff45"/></linearGradient>
<linearGradient id="ds7" x1="0" y1="0" x2="0" y2="1"><stop offset="0.0000" stop-color="#14ffeb"/><stop offset="0.0067" stop-color="#15ffea"/><stop offset="0.0133" stop-color="#15ffea"/><stop offset="0.0200" stop-color="#15ffea"/><stop offset="0.0267" stop-color="#16ffe9"/><stop offset="0.0333" stop-color="#17ffe8"/><stop offset="0.0400" stop-color="#17ffe8"/><stop offset="0.0467" stop-color="#18ffe7"/><stop offset="0.0533" stop-color="#19ffe6"/><stop offset="0.0600" stop-color="#1bffe4"/><stop offset="0.0667" stop-color="#1dffe2"/><stop offset="0.0733" stop-color="#1fffe0"/><stop offset="0.0800" stop-color="#22ffdd"/><stop offset="0.0867" stop-color="#25ffda"/><stop offset="0.0933" stop-color="#28ffd7"/><stop offset="0.1000" stop-color="#2cffd3"/><stop offset="0.1067" stop-color="#2fffd0"/><stop offset="0.1133" stop-color="#33ffcc"/><stop offset="0.1200" stop-color="#3affc5"/><stop offset="0.1267" stop-color="#41ffbe"/><stop offset="0.1333" stop-color="#4affb5"/><stop offset="0.1400" stop-color="#53ffac"/><stop offset="0.1467" stop-color="#5dffa2"/><stop offset="0.1533" stop-color="#67ff98"/><stop offset="0.1600" stop-color="#71ff8e"/><stop offset="0.1667" stop-color="#7cff83"/><stop offset="0.1733" stop-color="#85ff7a"/><stop offset="0.1800" stop-color="#8eff71"/><stop offset="0.1867" stop-color="#96ff69"/><stop offset="0.1933" stop-color="#9dff62"/><stop offset="0.2000" stop-color="#a3ff5c"/><stop offset="0.2067" stop-color="#aaff55"/><stop offset="0.2133" stop-color="#b0ff4f"/><stop offset="0.2200" stop-color="#b8ff47"/><stop offset="0.2267" stop-color="#bfff40"/><stop offset="0.2333" stop-color="#c7ff38"/><stop offset="0.2400" stop-color="#ceff31"/><stop offset="0.2467" stop-color="#d4ff2b"/><stop offset="0.2533" stop-color="#d8ff27"/><stop offset="0.2600" stop-color="#dcff23"/><stop offset="0.2667" stop-color="#e0ff1f"/><stop offset="0.2733" stop-color="#e3ff1c"/><stop offset="0.2800" stop-color="#e7ff18"/><stop offset="0.2867" stop-color="#e9ff16"/><stop offset="0.2933" stop-color="#ecff13"/><stop offset="0.3000" stop-color="#eeff11"/><stop offset="0.3067" stop-color="#eeff11"/><stop offset="0.3133" stop-color="#eeff11"/><stop offset="0.3200" stop-color="#eeff11"/><stop offset="0.3267" stop-color="#eeff11"/><stop offset="0.3333" stop-color="#eeff11"/><stop offset="0.3400" stop-color="#ebff14"/><stop offset="0.3467" stop-color="#e6ff19"/><stop offset="0.3533" stop-color="#e1ff1e"/><stop offset="0.3600" stop-color="#ddff22"/><stop offset="0.3667" stop-color="#daff25"/><stop offset="0.3733" stop-color="#d6ff29"/><stop offset="0.3800" stop-color="#d2ff2d"/><stop offset="0.3867" stop-color="#cdff32"/><stop offset="0.3933" stop-color="#c9ff36"/><stop offset="0.4000" stop-color="#c3ff3c"/><stop offset="0.4067" stop-color="#bcff43"/><stop offset="0.4133" stop-color="#b4ff4b"/><stop offset="0.4200" stop-color="#acff53"/><stop offset="0.4267" stop-color="#a3ff5c"/><stop offset="0.4333" stop-color="#99ff66"/><stop offset="0.4400" stop-color="#8fff70"/><stop offset="0.4467" stop-color="#85ff7a"/><stop offset="0.4533" stop-color="#79ff86"/><stop offset="0.4600" stop-color="#6dff92"/><stop offset="0.4667" stop-color="#67ff98"/><stop offset="0.4733" stop-color="#60ff9f"/><stop offset="0.4800" stop-color="#59ffa6"/><stop offset="0.4867" stop-color="#50ffaf"/><stop offset="0.4933" stop-color="#46ffb9"/><stop offset="0.5000" stop-color="#3affc5"/><stop offset="0.5067" stop-color="#33ffcc"/><stop offset="0.5133" stop-color="#2bffd4"/><stop offset="0.5200" stop-color="#27ffd8"/><stop offset="0.5267" stop-color="#23ffdc"/><stop offset="0.5333" stop-color="#1fffe0"/><stop offset="0.5400" stop-color="#1cffe3"/><stop offset="0.5467" stop-color="#19ffe6"/><stop offset="0.5533" stop-color="#16ffe9"/><stop offset="0.5600" stop-color="#14ffeb"/><stop offset="0.5667" stop-color="#13ffec"/><stop offset="0.5733" stop-color="#11ffee"/><stop offset="0.5800" stop-color="#11ffee"/><stop offset="0.5867" stop-color="#11ffee"/><stop offset="0.5933" stop-color="#11ffee"/><stop offset="0.6000" stop-color="#11ffee"/><stop offset="0.6067" stop-color="#11ffee"/><stop offset="0.6133" stop-color="#11ffee"/><stop offset="0.6200" stop-color="#11ffee"/><stop offset="0.6267" stop-color="#11ffee"/><stop offset="0.6333" stop-color="#11ffee"/><stop offset="0.6400" stop-color="#12ffed"/><stop offset="0.6467" stop-color="#15ffea"/><stop offset="0.6533" stop-color="#17ffe8"/><stop offset="0.6600" stop-color="#1affe5"/><stop offset="0.6667" stop-color="#1fffe0"/><stop offset="0.6733" stop-color="#23ffdc"/><stop offset="0.6800" stop-color="#27ffd8"/><stop offset="0.6867" stop-color="#2dffd2"/><stop offset="0.6933" stop-color="#35ffca"/><stop offset="0.7000" stop-color="#3effc1"/><stop offset="0.7067" stop-color="#47ffb8"/><stop offset="0.7133" stop-color="#4fffb0"/><stop offset="0.7200" stop-color="#56ffa9"/><stop offset="0.7267" stop-color="#5cffa3"/><stop offset="0.7333" stop-color="#63ff9c"/><stop offset="0.7400" stop-color="#6dff92"/><stop offset="0.7467" stop-color="#76ff89"/><stop offset="0.7533" stop-color="#7fff80"/><stop offset="0.7600" stop-color="#88ff77"/><stop offset="0.7667" stop-color="#91ff6e"/><stop offset="0.7733" stop-color="#98ff67"/><stop offset="0.7800" stop-color="#a0ff5f"/><stop offset="0.7867" stop-color="#a8ff57"/><stop offset="0.7933" stop-color="#b1ff4e"/><stop offset="0.8000" stop-color="#baff45"/><stop offset="0.8067" stop-color="#c1ff3e"/><stop offset="0.8133" stop-color="#c9ff36"/><stop offset="0.8200" stop-color="#cdff32"/><stop offset="0.8267" stop-color="#d1ff2e"/><stop offset="0.8333" stop-color="#d5ff2a"/><stop offset="0.8400" stop-color="#d8ff27"/><stop offset="0.8467" stop-color="#dcff23"/><stop offset="0.8533" stop-color="#e0ff1f"/><stop offset="0.8600" stop-color="#e4ff1b"/><stop offset="0.8667" stop-color="#e8ff17"/><stop offset="0.8733" stop-color="#ecff13"/><stop offset="0.8800" stop-color="#eeff11"/><stop offset="0.8867" stop-color="#eeff11"/><stop offset="0.8933" stop-color="#eeff11"/><stop offset="0.9000" stop-color="#eeff11"/><stop offset="0.9067" stop-color="#eeff11"/><stop offset="0.9133" stop-color="#eeff11"/><stop offset="0.9200" stop-color="#ecff13"/><stop offset="0.9267" stop-color="#e7ff18"/><stop offset="0.9333" stop-color="#e2ff1d"/><stop offset="0.9400" stop-color="#dfff20"/><stop offset="0.9467" stop-color="#dbff24"/><stop offset="0.9533" stop-color="#d8ff27"/><stop offset="0.9600" stop-color="#d5ff2a"/><stop offset="0.9667" stop-color="#d2ff2d"/><stop offset="0.9733" stop-color="#cfff30"/><stop offset="0.9800" stop-color="#c8ff37"/><stop offset="0.9867" stop-color="#bfff40"/><stop offset="0.9933" stop-color="#b3ff4c"/><stop offset="1.0000" stop-color="#a8ff57"/></linearGradient>
<linearGradient id="ds8" x1="0" y1="0" x2="0" y2="1"><stop offset="0.0000" stop-color="#16ffe9"/><stop offset="0.0067" stop-color="#16ffe9"/><stop offset="0.0133" stop-color="#17ffe8"/><stop offset="0.0200" stop-color="#17ffe8"/><stop offset="0.0267" stop-color="#17ffe8"/><stop offset="0.0333" stop-color="#18ffe7"/><stop offset="0.0400" stop-color="#19ffe6"/><stop offset="0.0467" stop-color="#1affe5"/><stop offset="0.0533" stop-color="#1bffe4"/><stop offset="0.0600" stop-color="#1dffe2"/><stop offset="0.0667" stop-color="#1fffe0"/><stop offset="0.0733" stop-color="#20ffdf"/><stop offset="0.0800" stop-color="#23ffdc"/><stop offset="0.0867" stop-color="#26ffd9"/><stop offset="0.0933" stop-color="#2affd5"/><stop offset="0.1000" stop-color="#2dffd2"/><stop offset="0.1067" stop-color="#31ffce"/><stop offset="0.1133" stop-color="#34ffcb"/><stop offset="0.1200" stop-color="#3bffc4"/><stop offset="0.1267" stop-color="#42ffbd"/><stop offset="0.1333" stop-color="#4bffb4"/><stop offset="0.1400" stop-color="#54ffab"/><stop offset="0.1467" stop-color="#5dffa2"/><stop offset="0.1533" stop-color="#67ff98"/><stop offset="0.1600" stop-color="#71ff8e"/><stop offset="0.1667" stop-color="#7cff83"/><stop offset="0.1733" stop-color="#85ff7a"/><stop offset="0.1800" stop-color="#8eff71"/><stop offset="0.1867" stop-color="#95ff6a"/><stop offset="0.1933" stop-color="#9dff62"/><stop offset="0.2000" stop-color="#a3ff5c"/><stop offset="0.2067" stop-color="#a9ff56"/><stop offset="0.2133" stop-color="#b0ff4f"/><stop offset="0.2200" stop-color="#b7ff48"/><stop offset="0.2267" stop-color="#beff41"/><stop offset="0.2333" stop-color="#c6ff39"/><stop offset="0.2400" stop-color="#cdff32"/><stop offset="0.2467" stop-color="#d2ff2d"/><stop offset="0.2533" stop-color="#d7ff28"/><stop offset="0.2600" stop-color="#dbff24"/><stop offset="0.2667" stop-color="#deff21"/><stop offset="0.2733" stop-color="#e2ff1d"/><stop offset="0.2800" stop-color="#e5ff1a"/><stop offset="0.2867" stop-color="#e8ff17"/><stop offset="0.2933" stop-color="#ebff14"/><stop offset="0.3000" stop-color="#ecff13"/><stop offset="0.3067" stop-color="#ecff13"/><stop offset="0.3133" stop-color="#ecff13"/><stop offset="0.3200" stop-color="#ecff13"/><stop offset="0.3267" stop-color="#ecff13"/><stop offset="0.3333" stop-color="#ecff13"/><stop offset="0.3400" stop-color="#e9ff16"/><stop offset="0.3467" stop-color="#e4ff1b"/><stop offset="0.3533" stop-color="#e0ff1f"/><stop offset="0.3600" stop-color="#dcff23"/><stop offset="0.3667" stop-color="#d8ff27"/><stop offset="0.3733" stop-color="#d5ff2a"/><stop offset="0.3800" stop-color="#d1ff2e"/><stop offset="0.3867" stop-color="#ccff33"/><stop offset="0.3933" stop-color="#c8ff37"/><stop offset="0.4000" stop-color="#c2ff3d"/><stop offset="0.4067" stop-color="#bbff44"/><stop offset="0.4133" stop-color="#b3ff4c"/><stop offset="0.4200" stop-color="#abff54"/><stop offset="0.4267" stop-color="#a2ff5d"/><stop offset="0.4333" stop-color="#99ff66"/><stop offset="0.4400" stop-color="#8fff70"/><stop offset="0.4467" stop-color="#85ff7a"/><stop offset="0.4533" stop-color="#79ff86"/><stop offset="0.4600" stop-color="#6eff91"/><stop offset="0.4667" stop-color="#67ff98"/><stop offset="0.4733" stop-color="#61ff9e"/><stop offset="0.4800" stop-color="#59ffa6"/><stop offset="0.4867" stop-color="#51ffae"/><stop offset="0.4933" stop-color="#47ffb8"/><stop offset="0.5000" stop-color="#3bffc4"/><stop offset="0.5067" stop-color="#34ffcb"/><stop offset="0.5133" stop-color="#2dffd2"/><stop offset="0.5200" stop-color="#28ffd7"/><stop offset="0.5267" stop-color="#24ffdb"/><stop offset="0.5333" stop-color="#20ffdf"/><stop offset="0.5400" stop-color="#1dffe2"/><stop offset="0.5467" stop-color="#1affe5"/><stop offset="0.5533" stop-color="#18ffe7"/><stop offset="0.5600" stop-color="#16ffe9"/><stop offset="0.5667" stop-color="#14ffeb"/><stop offset="0.5733" stop-color="#13ffec"/><stop offset="0.5800" stop-color="#13ffec"/><stop offset="0.5867" stop-color="#13ffec"/><stop offset="0.5933" stop-color="#13ffec"/><stop offset="0.6000" stop-color="#13ffec"/><stop offset="0.6067" stop-color="#13ffec"/><stop offset="0.6133" stop-color="#13ffec"/><stop offset="0.6200" stop-color="#13ffec"/><stop offset="0.6267" stop-color="#13ffec"/><stop offset="0.6333" stop-color="#13ffec"/><stop offset="0.6400" stop-color="#14ffeb"/><stop offset="0.6467" stop-color="#16ffe9"/><stop offset="0.6533" stop-color="#19ffe6"/><stop offset="0.6600" stop-color="#1cffe3"/><stop offset="0.6667" stop-color="#20ffdf"/><stop offset="0.6733" stop-color="#24ffdb"/><stop offset="0.6800" stop-color="#29ffd6"/><stop offset="0.6867" stop-color="#2effd1"/><stop offset="0.6933" stop-color="#36ffc9"/><stop offset="0.7000" stop-color="#3fffc0"/><stop offset="0.7067" stop-color="#47ffb8"/><stop offset="0.7133" stop-color="#50ffaf"/><stop offset="0.7200" stop-color="#57ffa8"/><stop offset="0.7267" stop-color="#5dffa2"/><stop offset="0.7333" stop-color="#64ff9b"/><stop offset="0.7400" stop-color="#6dff92"/><stop offset="0.7467" stop-color="#76ff89"/><stop offset="0.7533" stop-color="#7fff80"/><stop offset="0.7600" stop-color="#88ff77"/><stop offset="0.7667" stop-color="#91ff6e"/><stop offset="0.7733" stop-color="#98ff67"/><stop offset="0.7800" stop-color="#9fff60"/><stop offset="0.7867" stop-color="#a8ff57"/><stop offset="0.7933" stop-color="#b1ff4e"/><stop offset="0.8000" stop-color="#b9ff46"/><stop offset="0.8067" stop-color="#c0ff3f"/><stop offset="0.8133" stop-color="#c8ff37"/><stop offset="0.8200" stop-color="#ccff33"/><stop offset="0.8267" stop-color="#d0ff2f"/><stop offset="0.8333" stop-color="#d3ff2c"/><stop offset="0.8400" stop-color="#d7ff28"/><stop offset="0.8467" stop-color="#dbff24"/><stop offset="0.8533" stop-color="#dfff20"/><stop offset="0.8600" stop-color="#e3ff1c"/><stop offset="0.8667" stop-color="#e7ff18"/><stop offset="0.8733" stop-color="#eaff15"/><stop offset="0.8800" stop-color="#ecff13"/><stop offset="0.8867" stop-color="#ecff13"/><stop offset="0.8933" stop-color="#ecff13"/><stop offset="0.9000" stop-color="#ecff13"/><stop offset="0.9067" stop-color="#ecff13"/><stop offset="0.9133" stop-color="#ecff13"/><stop offset="0.9200" stop-color="#eaff15"/><stop offset="0.9267" stop-color="#e5ff1a"/><stop offset="0.9333" stop-color="#e1ff1e"/><stop offset="0.9400" stop-color="#deff21"/><stop offset="0.9467" stop-color="#daff25"/><stop offset="0.9533" stop-color="#d7ff28"/><stop offset="0.9600" stop-color="#d4ff2b"/><stop offset="0.9667" stop-color="#d1ff2e"/><stop offset="0.9733" stop-color="#ceff31"/><stop offset="0.9800" stop-color="#c7ff38"/><stop offset="0.9867" stop-color="#beff41"/><stop offset="0.9933" stop-color="#b2ff4d"/><stop offset="1.0000" stop-color="#a8ff57"/></linearGradient>
<linearGradient id="ds9" x1="0" y1="0" x2="0" y2="1"><stop offset="0.0000" stop-color="#14ffeb"/><stop offset="0.0067" stop-color="#15ffea"/><stop offset="0.0133" stop-color="#15ffea"/><stop offset="0.0200" stop-color="#15ffea"/><stop offset="0.0267" stop-color="#16ffe9"/><stop offset="0.0333" stop-color="#17ffe8"/><stop offset="0.0400" stop-color="#17ffe8"/><stop offset="0.0467" stop-color="#18ffe7"/><stop offset="0.0533" stop-color="#19ffe6"/><stop offset="0.0600" stop-color="#1bffe4"/><stop offset="0.0667" stop-color="#1dffe2"/><stop offset="0.0733" stop-color="#1fffe0"/><stop offset="0.0800" stop-color="#22ffdd"/><stop offset="0.0867" stop-color="#25ffda"/><stop offset="0.0933" stop-color="#28ffd7"/><stop offset="0.1000" stop-color="#2cffd3"/><stop offset="0.1067" stop-color="#2fffd0"/><stop offset="0.1133" stop-color="#33ffcc"/><stop offset="0.1200" stop-color="#3affc5"/><stop offset="0.1267" stop-color="#41ffbe"/><stop offset="0.1333" stop-color="#4affb5"/><stop offset="0.1400" stop-color="#53ffac"/><stop offset="0.1467" stop-color="#5dffa2"/><stop offset="0.1533" stop-color="#67ff98"/><stop offset="0.1600" stop-color="#71ff8e"/><stop offset="0.1667" stop-color="#7cff83"/><stop offset="0.1733" stop-color="#85ff7a"/><stop offset="0.1800" stop-color="#8eff71"/><stop offset="0.1867" stop-color="#96ff69"/><stop offset="0.1933" stop-color="#9dff62"/><stop offset="0.2000" stop-color="#a3ff5c"/><stop offset="0.2067" stop-color="#aaff55"/><stop offset="0.2133" stop-color="#b0ff4f"/><stop offset="0.2200" stop-color="#b8ff47"/><stop offset="0.2267" stop-color="#bfff40"/><stop offset="0.2333" stop-color="#c7ff38"/><stop offset="0.2400" stop-color="#ceff31"/><stop offset="0.2467" stop-color="#d4ff2b"/><stop offset="0.2533" stop-color="#d8ff27"/><stop offset="0.2600" stop-color="#dcff23"/><stop offset="0.2667" stop-color="#e0ff1f"/><stop offset="0.2733" stop-color="#e3ff1c"/><stop offset="0.2800" stop-color="#e7ff18"/><stop offset="0.2867" stop-color="#e9ff16"/><stop offset="0.2933" stop-color="#ecff13"/><stop offset="0.3000" stop-color="#eeff11"/><stop offset="0.3067" stop-color="#eeff11"/><stop offset="0.3133" stop-color="#eeff11"/><stop offset="0.3200" stop-color="#eeff11"/><stop offset="0.3267" stop-color="#eeff11"/><stop offset="0.3333" stop-color="#eeff11"/><stop offset="0.3400" stop-color="#ebff14"/><stop offset="0.3467" stop-color="#e6ff19"/><stop offset="0.3533" stop-color="#e1ff1e"/><stop offset="0.3600" stop-color="#ddff22"/><stop offset="0.3667" stop-color="#daff25"/><stop offset="0.3733" stop-color="#d6ff29"/><stop offset="0.3800" stop-color="#d2ff2d"/><stop offset="0.3867" stop-color="#cdff32"/><stop offset="0.3933" stop-color="#c9ff36"/><stop offset="0.4000" stop-color="#c3ff3c"/><stop offset="0.4067" stop-color="#bcff43"/><stop offset="0.4133" stop-color="#b4ff4b"/><stop offset="0.4200" stop-color="#acff53"/><stop offset="0.4267" stop-color="#a3ff5c"/><stop offset="0.4333" stop-color="#99ff66"/><stop offset="0.4400" stop-color="#8fff70"/><stop offset="0.4467" stop-color="#85ff7a"/><stop offset="0.4533" stop-color="#79ff86"/><stop offset="0.4600" stop-color="#6dff92"/><stop offset="0.4667" stop-color="#67ff98"/><stop offset="0.4733" stop-color="#60ff9f"/><stop offset="0.4800" stop-color="#59ffa6"/><stop offset="0.4867" stop-color="#50ffaf"/><stop offset="0.4933" stop-color="#46ffb9"/><stop offset="0.5000" stop-color="#3affc5"/><stop offset="0.5067" stop-color="#33ffcc"/><stop offset="0.5133" stop-color="#2bffd4"/><stop offset="0.5200" stop-color="#27ffd8"/><stop offset="0.5267" stop-color="#23ffdc"/><stop offset="0.5333" stop-color="#1fffe0"/><stop offset="0.5400" stop-color="#1cffe3"/><stop offset="0.5467" stop-color="#19ffe6"/><stop offset="0.5533" stop-color="#16ffe9"/><stop offset="0.5600" stop-color="#14ffeb"/><stop offset="0.5667" stop-color="#13ffec"/><stop offset="0.5733" stop-color="#11ffee"/><stop offset="0.5800" stop-color="#11ffee"/><stop offset="0.5867" stop-color="#11ffee"/><stop offset="0.5933" stop-color="#11ffee"/><stop offset="0.6000" stop-color="#11ffee"/><stop offset="0.6067" stop-color="#11ffee"/><stop offset="0.6133" stop-color="#11ffee"/><stop offset="0.6200" stop-color="#11ffee"/><stop offset="0.6267" stop-color="#11ffee"/><stop offset="0.6333" stop-color="#11ffee"/><stop offset="0.6400" stop-color="#12ffed"/><stop offset="0.6467" stop-color="#15ffea"/><stop offset="0.6533" stop-color="#17ffe8"/><stop offset="0.6600" stop-color="#1affe5"/><stop offset="0.6667" stop-color="#1fffe0"/><stop offset="0.6733" stop-color="#23ffdc"/><stop offset="0.6800" stop-color="#27ffd8"/><stop offset="0.6867" stop-color="#2dffd2"/><stop offset="0.6933" stop-color="#35ffca"/><stop offset="0.7000" stop-color="#3effc1"/><stop offset="0.7067" stop-color="#47ffb8"/><stop offset="0.7133" stop-color="#4fffb0"/><stop offset="0.7200" stop-color="#56ffa9"/><stop offset="0.7267" stop-color="#5cffa3"/><stop offset="0.7333" stop-color="#63ff9c"/><stop offset="0.7400" stop-color="#6dff92"/><stop offset="0.7467" stop-color="#76ff89"/><stop offset="0.7533" stop-color="#7fff80"/><stop offset="0.7600" stop-color="#88ff77"/><stop offset="0.7667" stop-color="#91ff6e"/><stop offset="0.7733" stop-color="#98ff67"/><stop offset="0.7800" stop-color="#a0ff5f"/><stop offset="0.7867" stop-color="#a8ff57"/><stop offset="0.7933" stop-color="#b1ff4e"/><stop offset="0.8000" stop-color="#baff45"/><stop offset="0.8067" stop-color="#c1ff3e"/><stop offset="0.8133" stop-color="#c9ff36"/><stop offset="0.8200" stop-color="#cdff32"/><stop offset="0.8267" stop-color="#d1ff2e"/><stop offset="0.8333" stop-color="#d5ff2a"/><stop offset="0.8400" stop-color="#d8ff27"/><stop offset="0.8467" stop-color="#dcff23"/><stop offset="0.8533" stop-color="#e0ff1f"/><stop offset="0.8600" stop-color="#e4ff1b"/><stop offset="0.8667" stop-color="#e8ff17"/><stop offset="0.8733" stop-color="#ecff13"/><stop offset="0.8800" stop-color="#eeff11"/><stop offset="0.8867" stop-color="#eeff11"/><stop offset="0.8933" stop-color="#eeff11"/><stop offset="0.9000" stop-color="#eeff11"/><stop offset="0.9067" stop-color="#eeff11"/><stop offset="0.9133" stop-color="#eeff11"/><stop offset="0.9200" stop-color="#ecff13"/><stop offset="0.9267" stop-color="#e7ff18"/><stop offset="0.9333" stop-color="#e2ff1d"/><stop offset="0.9400" stop-color="#dfff20"/><stop offset="0.9467" stop-color="#dbff24"/><stop offset="0.9533" stop-color="#d8ff27"/><stop offset="0.9600" stop-color="#d5ff2a"/><stop offset="0.9667" stop-color="#d2ff2d"/><stop offset="0.9733" stop-color="#cfff30"/><stop offset="0.9800" stop-color="#c8ff37"/><stop offset="0.9867" stop-color="#bfff40"/><stop offset="0.9933" stop-color="#b3ff4c"/><stop offset="1.0000" stop-color="#a8ff57"/></linearGradient>
<linearGradient id="ds10" x1="0" y1="0" x2="0" y2="1"><stop offset="0.0000" stop-color="#00e6ff"/><stop offset="0.0067" stop-color="#00e7ff"/><stop offset="0.0133" stop-color="#00e7ff"/><stop offset="0.0200" stop-color="#00e8ff"/><stop offset="0.0267" stop-color="#00e8ff"/><stop offset="0.0333" stop-color="#00e9ff"/><stop offset="0.0400" stop-color="#00ebff"/><stop offset="0.0467" stop-color="#00ecff"/><stop offset="0.0533" stop-color="#00eeff"/><stop offset="0.0600" stop-color="#00f0ff"/><stop offset="0.0667" stop-color="#00f3ff"/><stop offset="0.0733" stop-color="#00f5ff"/><stop offset="0.0800" stop-color="#00f9ff"/><stop offset="0.0867" stop-color="#00feff"/><stop offset="0.0933" stop-color="#04fffb"/><stop offset="0.1000" stop-color="#08fff7"/><stop offset="0.1067" stop-color="#0efff1"/><stop offset="0.1133" stop-color="#13ffec"/><stop offset="0.1200" stop-color="#1cffe3"/><stop offset="0.1267" stop-color="#27ffd8"/><stop offset="0.1333" stop-color="#33ffcc"/><stop offset="0.1400" stop-color="#41ffbe"/><stop offset="0.1467" stop-color="#4effb1"/><stop offset="0.1533" stop-color="#5cffa3"/><stop offset="0.1600" stop-color="#6bff94"/><stop offset="0.1667" stop-color="#7aff85"/><stop offset="0.1733" stop-color="#87ff78"/><stop offset="0.1800" stop-color="#94ff6b"/><stop offset="0.1867" stop-color="#9fff60"/><stop offset="0.1933" stop-color="#aaff55"/><stop offset="0.2000" stop-color="#b2ff4d"/><stop offset="0.2067" stop-color="#bbff44"/><stop offset="0.2133" stop-color="#c5ff3a"/><stop offset="0.2200" stop-color="#cfff30"/><stop offset="0.2267" stop-color="#daff25"/><stop offset="0.2333" stop-color="#e5ff1a"/><stop offset="0.2400" stop-color="#efff10"/><stop offset="0.2467" stop-color="#f7ff08"/><stop offset="0.2533" stop-color="#fdff02"/><stop offset="0.2600" stop-color="#fffb00"/><stop offset="0.2667" stop-color="#fff600"/><stop offset="0.2733" stop-color="#fff100"/><stop offset="0.2800" stop-color="#ffec00"/><stop offset="0.2867" stop-color="#ffe800"/><stop offset="0.2933" stop-color="#ffe400"/><stop offset="0.3000" stop-color="#ffe200"/><stop offset="0.3067" stop-color="#ffe200"/><stop offset="0.3133" stop-color="#ffe200"/><stop offset="0.3200" stop-color="#ffe200"/><stop offset="0.3267" stop-color="#ffe200"/><stop offset="0.3333" stop-color="#ffe200"/><stop offset="0.3400" stop-color="#ffe600"/><stop offset="0.3467" stop-color="#ffed00"/><stop offset="0.3533" stop-color="#fff400"/><stop offset="0.3600" stop-color="#fff900"/><stop offset="0.3667" stop-color="#fffe00"/><stop offset="0.3733" stop-color="#faff05"/><stop offset="0.3800" stop-color="#f5ff0a"/><stop offset="0.3867" stop-color="#eeff11"/><stop offset="0.3933" stop-color="#e8ff17"/><stop offset="0.4000" stop-color="#dfff20"/><stop offset="0.4067" stop-color="#d6ff29"/><stop offset="0.4133" stop-color="#caff35"/><stop offset="0.4200" stop-color="#beff41"/><stop offset="0.4267" stop-color="#b1ff4e"/><stop offset="0.4333" stop-color="#a4ff5b"/><stop offset="0.4400" stop-color="#96ff69"/><stop offset="0.4467" stop-color="#88ff77"/><stop offset="0.4533" stop-color="#77ff88"/><stop offset="0.4600" stop-color="#66ff99"/><stop offset="0.4667" stop-color="#5dffa2"/><stop offset="0.4733" stop-color="#53ffac"/><stop offset="0.4800" stop-color="#49ffb6"/><stop offset="0.4867" stop-color="#3cffc3"/><stop offset="0.4933" stop-color="#2dffd2"/><stop offset="0.5000" stop-color="#1dffe2"/><stop offset="0.5067" stop-color="#12ffed"/><stop offset="0.5133" stop-color="#08fff7"/><stop offset="0.5200" stop-color="#02fffd"/><stop offset="0.5267" stop-color="#00fbff"/><stop offset="0.5333" stop-color="#00f5ff"/><stop offset="0.5400" stop-color="#00f1ff"/><stop offset="0.5467" stop-color="#00edff"/><stop offset="0.5533" stop-color="#00e9ff"/><stop offset="0.5600" stop-color="#00e6ff"/><stop offset="0.5667" stop-color="#00e4ff"/><stop offset="0.5733" stop-color="#00e2ff"/><stop offset="0.5800" stop-color="#00e2ff"/><stop offset="0.5867" stop-color="#00e2ff"/><stop offset="0.5933" stop-color="#00e2ff"/><stop offset="0.6000" stop-color="#00e2ff"/><stop offset="0.6067" stop-color="#00e2ff"/><stop offset="0.6133" stop-color="#00e2ff"/><stop offset="0.6200" stop-color="#00e2ff"/><stop offset="0.6267" stop-color="#00e2ff"/><stop offset="0.6333" stop-color="#00e2ff"/><stop offset="0.6400" stop-color="#00e3ff"/><stop offset="0.6467" stop-color="#00e7ff"/><stop offset="0.6533" stop-color="#00eaff"/><stop offset="0.6600" stop-color="#00efff"/><stop offset="0.6667" stop-color="#00f5ff"/><stop offset="0.6733" stop-color="#00fbff"/><stop offset="0.6800" stop-color="#02fffd"/><stop offset="0.6867" stop-color="#0afff5"/><stop offset="0.6933" stop-color="#16ffe9"/><stop offset="0.7000" stop-color="#23ffdc"/><stop offset="0.7067" stop-color="#2fffd0"/><stop offset="0.7133" stop-color="#3affc5"/><stop offset="0.7200" stop-color="#44ffbb"/><stop offset="0.7267" stop-color="#4effb1"/><stop offset="0.7333" stop-color="#57ffa8"/><stop offset="0.7400" stop-color="#65ff9a"/><stop offset="0.7467" stop-color="#72ff8d"/><stop offset="0.7533" stop-color="#7fff80"/><stop offset="0.7600" stop-color="#8cff73"/><stop offset="0.7667" stop-color="#98ff67"/><stop offset="0.7733" stop-color="#a3ff5c"/><stop offset="0.7800" stop-color="#adff52"/><stop offset="0.7867" stop-color="#b9ff46"/><stop offset="0.7933" stop-color="#c6ff39"/><stop offset="0.8000" stop-color="#d3ff2c"/><stop offset="0.8067" stop-color="#ddff22"/><stop offset="0.8133" stop-color="#e7ff18"/><stop offset="0.8200" stop-color="#eeff11"/><stop offset="0.8267" stop-color="#f3ff0c"/><stop offset="0.8333" stop-color="#f8ff07"/><stop offset="0.8400" stop-color="#feff01"/><stop offset="0.8467" stop-color="#fffb00"/><stop offset="0.8533" stop-color="#fff500"/><stop offset="0.8600" stop-color="#ffef00"/><stop offset="0.8667" stop-color="#ffea00"/><stop offset="0.8733" stop-color="#ffe400"/><stop offset="0.8800" stop-color="#ffe200"/><stop offset="0.8867" stop-color="#ffe200"/><stop offset="0.8933" stop-color="#ffe200"/><stop offset="0.9000" stop-color="#ffe200"/><stop offset="0.9067" stop-color="#ffe200"/><stop offset="0.9133" stop-color="#ffe200"/><stop offset="0.9200" stop-color="#ffe500"/><stop offset="0.9267" stop-color="#ffec00"/><stop offset="0.9333" stop-color="#fff200"/><stop offset="0.9400" stop-color="#fff700"/><stop offset="0.9467" stop-color="#fffc00"/><stop offset="0.9533" stop-color="#fdff02"/><stop offset="0.9600" stop-color="#f9ff06"/><stop offset="0.9667" stop-color="#f5ff0a"/><stop offset="0.9733" stop-color="#f1ff0e"/><stop offset="0.9800" stop-color="#e6ff19"/><stop offset="0.9867" stop-color="#daff25"/><stop offset="0.9933" stop-color="#c9ff36"/><stop offset="1.0000" stop-color="#baff45"/></linearGradient>
<linearGradient id="ds11" x1="0" y1="0" x2="0" y2="1"><stop offset="0.0000" stop-color="#0031ff"/><stop offset="0.0067" stop-color="#0031ff"/><stop offset="0.0133" stop-color="#0032ff"/><stop offset="0.0200" stop-color="#0033ff"/><stop offset="0.0267" stop-color="#0034ff"/><stop offset="0.0333" stop-color="#0037ff"/><stop offset="0.0400" stop-color="#003aff"/><stop offset="0.0467" stop-color="#003dff"/><stop offset="0.0533" stop-color="#0040ff"/><stop offset="0.0600" stop-color="#0046ff"/><stop offset="0.0667" stop-color="#004cff"/><stop offset="0.0733" stop-color="#0051ff"/><stop offset="0.0800" stop-color="#005aff"/><stop offset="0.0867" stop-color="#0064ff"/><stop offset="0.0933" stop-color="#006eff"/><stop offset="0.1000" stop-color="#0079ff"/><stop offset="0.1067" stop-color="#0084ff"/><stop offset="0.1133" stop-color="#0091ff"/><stop offset="0.1200" stop-color="#00a5ff"/><stop offset="0.1267" stop-color="#00bbff"/><stop offset="0.1333" stop-color="#00d7ff"/><stop offset="0.1400" stop-color="#00f5ff"/><stop offset="0.1467" stop-color="#14ffeb"/><stop offset="0.1533" stop-color="#32ffcd"/><stop offset="0.1600" stop-color="#53ffac"/><stop offset="0.1667" stop-color="#74ff8b"/><stop offset="0.1733" stop-color="#91ff6e"/><stop offset="0.1800" stop-color="#acff53"/><stop offset="0.1867" stop-color="#c4ff3b"/><stop offset="0.1933" stop-color="#dcff23"/><stop offset="0.2000" stop-color="#efff10"/><stop offset="0.2067" stop-color="#fffb00"/><stop offset="0.2133" stop-color="#ffe600"/><stop offset="0.2200" stop-color="#ffcf00"/><stop offset="0.2267" stop-color="#ffb700"/><stop offset="0.2333" stop-color="#ffa100"/><stop offset="0.2400" stop-color="#ff8a00"/><stop offset="0.2467" stop-color="#ff7800"/><stop offset="0.2533" stop-color="#ff6a00"/><stop offset="0.2600" stop-color="#ff5d00"/><stop offset="0.2667" stop-color="#ff5200"/><stop offset="0.2733" stop-color="#ff4700"/><stop offset="0.2800" stop-color="#ff3d00"/><stop offset="0.2867" stop-color="#ff3400"/><stop offset="0.2933" stop-color="#ff2b00"/><stop offset="0.3000" stop-color="#ff2600"/><stop offset="0.3067" stop-color="#ff2600"/><stop offset="0.3133" stop-color="#ff2600"/><stop offset="0.3200" stop-color="#ff2600"/><stop offset="0.3267" stop-color="#ff2600"/><stop offset="0.3333" stop-color="#ff2600"/><stop offset="0.3400" stop-color="#ff3000"/><stop offset="0.3467" stop-color="#ff3f00"/><stop offset="0.3533" stop-color="#ff4e00"/><stop offset="0.3600" stop-color="#ff5a00"/><stop offset="0.3667" stop-color="#ff6500"/><stop offset="0.3733" stop-color="#ff7100"/><stop offset="0.3800" stop-color="#ff7d00"/><stop offset="0.3867" stop-color="#ff8c00"/><stop offset="0.3933" stop-color="#ff9a00"/><stop offset="0.4000" stop-color="#ffad00"/><stop offset="0.4067" stop-color="#ffc100"/><stop offset="0.4133" stop-color="#ffdb00"/><stop offset="0.4200" stop-color="#fff400"/><stop offset="0.4267" stop-color="#edff12"/><stop offset="0.4333" stop-color="#cfff30"/><stop offset="0.4400" stop-color="#b0ff4f"/><stop offset="0.4467" stop-color="#91ff6e"/><stop offset="0.4533" stop-color="#6cff93"/><stop offset="0.4600" stop-color="#47ffb8"/><stop offset="0.4667" stop-color="#33ffcc"/><stop offset="0.4733" stop-color="#1fffe0"/><stop offset="0.4800" stop-color="#07fff8"/><stop offset="0.4867" stop-color="#00ebff"/><stop offset="0.4933" stop-color="#00caff"/><stop offset="0.5000" stop-color="#00a7ff"/><stop offset="0.5067" stop-color="#008fff"/><stop offset="0.5133" stop-color="#0078ff"/><stop offset="0.5200" stop-color="#006bff"/><stop offset="0.5267" stop-color="#005eff"/><stop offset="0.5333" stop-color="#0050ff"/><stop offset="0.5400" stop-color="#0047ff"/><stop offset="0.5467" stop-color="#003eff"/><stop offset="0.5533" stop-color="#0036ff"/><stop offset="0.5600" stop-color="#002fff"/><stop offset="0.5667" stop-color="#002bff"/><stop offset="0.5733" stop-color="#0027ff"/><stop offset="0.5800" stop-color="#0026ff"/><stop offset="0.5867" stop-color="#0026ff"/><stop offset="0.5933" stop-color="#0026ff"/><stop offset="0.6000" stop-color="#0026ff"/><stop offset="0.6067" stop-color="#0026ff"/><stop offset="0.6133" stop-color="#0026ff"/><stop offset="0.6200" stop-color="#0026ff"/><stop offset="0.6267" stop-color="#0026ff"/><stop offset="0.6333" stop-color="#0026ff"/><stop offset="0.6400" stop-color="#0029ff"/><stop offset="0.6467" stop-color="#0031ff"/><stop offset="0.6533" stop-color="#0039ff"/><stop offset="0.6600" stop-color="#0042ff"/><stop offset="0.6667" stop-color="#0050ff"/><stop offset="0.6733" stop-color="#005eff"/><stop offset="0.6800" stop-color="#006cff"/><stop offset="0.6867" stop-color="#007cff"/><stop offset="0.6933" stop-color="#0097ff"/><stop offset="0.7000" stop-color="#00b4ff"/><stop offset="0.7067" stop-color="#00cdff"/><stop offset="0.7133" stop-color="#00e7ff"/><stop offset="0.7200" stop-color="#00fdff"/><stop offset="0.7267" stop-color="#12ffed"/><stop offset="0.7333" stop-color="#27ffd8"/><stop offset="0.7400" stop-color="#44ffbb"/><stop offset="0.7467" stop-color="#61ff9e"/><stop offset="0.7533" stop-color="#7eff81"/><stop offset="0.7600" stop-color="#9bff64"/><stop offset="0.7667" stop-color="#b6ff49"/><stop offset="0.7733" stop-color="#cdff32"/><stop offset="0.7800" stop-color="#e4ff1b"/><stop offset="0.7867" stop-color="#feff01"/><stop offset="0.7933" stop-color="#ffe300"/><stop offset="0.8000" stop-color="#ffc800"/><stop offset="0.8067" stop-color="#ffb100"/><stop offset="0.8133" stop-color="#ff9a00"/><stop offset="0.8200" stop-color="#ff8c00"/><stop offset="0.8267" stop-color="#ff8000"/><stop offset="0.8333" stop-color="#ff7500"/><stop offset="0.8400" stop-color="#ff6900"/><stop offset="0.8467" stop-color="#ff5d00"/><stop offset="0.8533" stop-color="#ff5000"/><stop offset="0.8600" stop-color="#ff4400"/><stop offset="0.8667" stop-color="#ff3800"/><stop offset="0.8733" stop-color="#ff2c00"/><stop offset="0.8800" stop-color="#ff2600"/><stop offset="0.8867" stop-color="#ff2600"/><stop offset="0.8933" stop-color="#ff2600"/><stop offset="0.9000" stop-color="#ff2600"/><stop offset="0.9067" stop-color="#ff2600"/><stop offset="0.9133" stop-color="#ff2600"/><stop offset="0.9200" stop-color="#ff2c00"/><stop offset="0.9267" stop-color="#ff3c00"/><stop offset="0.9333" stop-color="#ff4a00"/><stop offset="0.9400" stop-color="#ff5500"/><stop offset="0.9467" stop-color="#ff6000"/><stop offset="0.9533" stop-color="#ff6a00"/><stop offset="0.9600" stop-color="#ff7300"/><stop offset="0.9667" stop-color="#ff7c00"/><stop offset="0.9733" stop-color="#ff8600"/><stop offset="0.9800" stop-color="#ff9e00"/><stop offset="0.9867" stop-color="#ffb900"/><stop offset="0.9933" stop-color="#ffde00"/><stop offset="1.0000" stop-color="#ffff00"/></linearGradient>
<linearGradient id="ds12" x1="0" y1="0" x2="0" y2="1"><stop offset="0.0000" stop-color="#0000c5"/><stop offset="0.0067" stop-color="#0000c6"/><stop offset="0.0133" stop-color="#0000c8"/><stop offset="0.0200" stop-color="#0000c9"/><stop offset="0.0267" stop-color="#0000ca"/><stop offset="0.0333" stop-color="#0000ce"/><stop offset="0.0400" stop-color="#0000d1"/><stop offset="0.0467" stop-color="#0000d5"/><stop offset="0.0533" stop-color="#0000da"/><stop offset="0.0600" stop-color="#0000e1"/><stop offset="0.0667" stop-color="#0000e9"/><stop offset="0.0733" stop-color="#0000f1"/><stop offset="0.0800" stop-color="#0000fb"/><stop offset="0.0867" stop-color="#000aff"/><stop offset="0.0933" stop-color="#0018ff"/><stop offset="0.1000" stop-color="#0025ff"/><stop offset="0.1067" stop-color="#0035ff"/><stop offset="0.1133" stop-color="#0045ff"/><stop offset="0.1200" stop-color="#005fff"/><stop offset="0.1267" stop-color="#007dff"/><stop offset="0.1333" stop-color="#00a2ff"/><stop offset="0.1400" stop-color="#00c9ff"/><stop offset="0.1467" stop-color="#00f0ff"/><stop offset="0.1533" stop-color="#1affe5"/><stop offset="0.1600" stop-color="#44ffbb"/><stop offset="0.1667" stop-color="#70ff8f"/><stop offset="0.1733" stop-color="#97ff68"/><stop offset="0.1800" stop-color="#bbff44"/><stop offset="0.1867" stop-color="#daff25"/><stop offset="0.1933" stop-color="#f9ff06"/><stop offset="0.2000" stop-color="#ffeb00"/><stop offset="0.2067" stop-color="#ffd200"/><stop offset="0.2133" stop-color="#ffb600"/><stop offset="0.2200" stop-color="#ff9700"/><stop offset="0.2267" stop-color="#ff7800"/><stop offset="0.2333" stop-color="#ff5a00"/><stop offset="0.2400" stop-color="#ff3c00"/><stop offset="0.2467" stop-color="#ff2400"/><stop offset="0.2533" stop-color="#ff1200"/><stop offset="0.2600" stop-color="#ff0100"/><stop offset="0.2667" stop-color="#f10000"/><stop offset="0.2733" stop-color="#e30000"/><stop offset="0.2800" stop-color="#d60000"/><stop offset="0.2867" stop-color="#ca0000"/><stop offset="0.2933" stop-color="#bd0000"/><stop offset="0.3000" stop-color="#b70000"/><stop offset="0.3067" stop-color="#b70000"/><stop offset="0.3133" stop-color="#b70000"/><stop offset="0.3200" stop-color="#b70000"/><stop offset="0.3267" stop-color="#b70000"/><stop offset="0.3333" stop-color="#b70000"/><stop offset="0.3400" stop-color="#c40000"/><stop offset="0.3467" stop-color="#d90000"/><stop offset="0.3533" stop-color="#ed0000"/><stop offset="0.3600" stop-color="#fc0000"/><stop offset="0.3667" stop-color="#ff0c00"/><stop offset="0.3733" stop-color="#ff1b00"/><stop offset="0.3800" stop-color="#ff2c00"/><stop offset="0.3867" stop-color="#ff3e00"/><stop offset="0.3933" stop-color="#ff5100"/><stop offset="0.4000" stop-color="#ff6a00"/><stop offset="0.4067" stop-color="#ff8500"/><stop offset="0.4133" stop-color="#ffa700"/><stop offset="0.4200" stop-color="#ffc800"/><stop offset="0.4267" stop-color="#ffee00"/><stop offset="0.4333" stop-color="#e9ff16"/><stop offset="0.4400" stop-color="#c0ff3f"/><stop offset="0.4467" stop-color="#97ff68"/><stop offset="0.4533" stop-color="#66ff99"/><stop offset="0.4600" stop-color="#34ffcb"/><stop offset="0.4667" stop-color="#1affe5"/><stop offset="0.4733" stop-color="#00ffff"/><stop offset="0.4800" stop-color="#00e0ff"/><stop offset="0.4867" stop-color="#00bcff"/><stop offset="0.4933" stop-color="#0091ff"/><stop offset="0.5000" stop-color="#0062ff"/><stop offset="0.5067" stop-color="#0042ff"/><stop offset="0.5133" stop-color="#0025ff"/><stop offset="0.5200" stop-color="#0013ff"/><stop offset="0.5267" stop-color="#0002ff"/><stop offset="0.5333" stop-color="#0000ef"/><stop offset="0.5400" stop-color="#0000e3"/><stop offset="0.5467" stop-color="#0000d7"/><stop offset="0.5533" stop-color="#0000cc"/><stop offset="0.5600" stop-color="#0000c3"/><stop offset="0.5667" stop-color="#0000be"/><stop offset="0.5733" stop-color="#0000b9"/><stop offset="0.5800" stop-color="#0000b7"/><stop offset="0.5867" stop-color="#0000b7"/><stop offset="0.5933" stop-color="#0000b7"/><stop offset="0.6000" stop-color="#0000b7"/><stop offset="0.6067" stop-color="#0000b7"/><stop offset="0.6133" stop-color="#0000b7"/><stop offset="0.6200" stop-color="#0000b7"/><stop offset="0.6267" stop-color="#0000b7"/><stop offset="0.6333" stop-color="#0000b7"/><stop offset="0.6400" stop-color="#0000bb"/><stop offset="0.6467" stop-color="#0000c6"/><stop offset="0.6533" stop-color="#0000d0"/><stop offset="0.6600" stop-color="#0000dd"/><stop offset="0.6667" stop-color="#0000ef"/><stop offset="0.6733" stop-color="#0002ff"/><stop offset="0.6800" stop-color="#0014ff"/><stop offset="0.6867" stop-color="#0029ff"/><stop offset="0.6933" stop-color="#004dff"/><stop offset="0.7000" stop-color="#0073ff"/><stop offset="0.7067" stop-color="#0095ff"/><stop offset="0.7133" stop-color="#00b7ff"/><stop offset="0.7200" stop-color="#00d4ff"/><stop offset="0.7267" stop-color="#00eeff"/><stop offset="0.7333" stop-color="#0bfff4"/><stop offset="0.7400" stop-color="#31ffce"/><stop offset="0.7467" stop-color="#58ffa7"/><stop offset="0.7533" stop-color="#7eff81"/><stop offset="0.7600" stop-color="#a3ff5c"/><stop offset="0.7667" stop-color="#c7ff38"/><stop offset="0.7733" stop-color="#e5ff1a"/><stop offset="0.7800" stop-color="#fffb00"/><stop offset="0.7867" stop-color="#ffd700"/><stop offset="0.7933" stop-color="#ffb200"/><stop offset="0.8000" stop-color="#ff8e00"/><stop offset="0.8067" stop-color="#ff7000"/><stop offset="0.8133" stop-color="#ff5200"/><stop offset="0.8200" stop-color="#ff3e00"/><stop offset="0.8267" stop-color="#ff2f00"/><stop offset="0.8333" stop-color="#ff2000"/><stop offset="0.8400" stop-color="#ff1100"/><stop offset="0.8467" stop-color="#ff0000"/><stop offset="0.8533" stop-color="#ef0000"/><stop offset="0.8600" stop-color="#df0000"/><stop offset="0.8667" stop-color="#cf0000"/><stop offset="0.8733" stop-color="#bf0000"/><stop offset="0.8800" stop-color="#b70000"/><stop offset="0.8867" stop-color="#b70000"/><stop offset="0.8933" stop-color="#b70000"/><stop offset="0.9000" stop-color="#b70000"/><stop offset="0.9067" stop-color="#b70000"/><stop offset="0.9133" stop-color="#b70000"/><stop offset="0.9200" stop-color="#c00000"/><stop offset="0.9267" stop-color="#d50000"/><stop offset="0.9333" stop-color="#e70000"/><stop offset="0.9400" stop-color="#f50000"/><stop offset="0.9467" stop-color="#ff0400"/><stop offset="0.9533" stop-color="#ff1200"/><stop offset="0.9600" stop-color="#ff1e00"/><stop offset="0.9667" stop-color="#ff2a00"/><stop offset="0.9733" stop-color="#ff3600"/><stop offset="0.9800" stop-color="#ff5600"/><stop offset="0.9867" stop-color="#ff7a00"/><stop offset="0.9933" stop-color="#ffaa00"/><stop offset="1.0000" stop-color="#ffd600"/></linearGradient>
<linearGradient id="ds13" x1="0" y1="0" x2="0" y2="1"><stop offset="0.0000" stop-color="#0000bb"/><stop offset="0.0067" stop-color="#0000bc"/><stop offset="0.0133" stop-color="#0000bd"/><stop offset="0.0200" stop-color="#0000be"/><stop offset="0.0267" stop-color="#0000c0"/><stop offset="0.0333" stop-color="#0000c3"/><stop offset="0.0400" stop-color="#0000c7"/><stop offset="0.0467" stop-color="#0000cb"/><stop offset="0.0533" stop-color="#0000d0"/><stop offset="0.0600" stop-color="#0000d8"/><stop offset="0.0667" stop-color="#0000df"/><stop offset="0.0733" stop-color="#0000e7"/><stop offset="0.0800" stop-color="#0000f2"/><stop offset="0.0867" stop-color="#0001ff"/><stop offset="0.0933" stop-color="#000fff"/><stop offset="0.1000" stop-color="#001dff"/><stop offset="0.1067" stop-color="#002dff"/><stop offset="0.1133" stop-color="#003eff"/><stop offset="0.1200" stop-color="#0058ff"/><stop offset="0.1267" stop-color="#0077ff"/><stop offset="0.1333" stop-color="#009dff"/><stop offset="0.1400" stop-color="#00c4ff"/><stop offset="0.1467" stop-color="#00edff"/><stop offset="0.1533" stop-color="#17ffe8"/><stop offset="0.1600" stop-color="#43ffbc"/><stop offset="0.1667" stop-color="#70ff8f"/><stop offset="0.1733" stop-color="#97ff68"/><stop offset="0.1800" stop-color="#bcff43"/><stop offset="0.1867" stop-color="#ddff22"/><stop offset="0.1933" stop-color="#fcff03"/><stop offset="0.2000" stop-color="#ffe800"/><stop offset="0.2067" stop-color="#ffce00"/><stop offset="0.2133" stop-color="#ffb100"/><stop offset="0.2200" stop-color="#ff9100"/><stop offset="0.2267" stop-color="#ff7200"/><stop offset="0.2333" stop-color="#ff5300"/><stop offset="0.2400" stop-color="#ff3400"/><stop offset="0.2467" stop-color="#ff1c00"/><stop offset="0.2533" stop-color="#ff0a00"/><stop offset="0.2600" stop-color="#f70000"/><stop offset="0.2667" stop-color="#e80000"/><stop offset="0.2733" stop-color="#da0000"/><stop offset="0.2800" stop-color="#cc0000"/><stop offset="0.2867" stop-color="#bf0000"/><stop offset="0.2933" stop-color="#b30000"/><stop offset="0.3000" stop-color="#ac0000"/><stop offset="0.3067" stop-color="#ac0000"/><stop offset="0.3133" stop-color="#ac0000"/><stop offset="0.3200" stop-color="#ac0000"/><stop offset="0.3267" stop-color="#ac0000"/><stop offset="0.3333" stop-color="#ac0000"/><stop offset="0.3400" stop-color="#b90000"/><stop offset="0.3467" stop-color="#cf0000"/><stop offset="0.3533" stop-color="#e30000"/><stop offset="0.3600" stop-color="#f30000"/><stop offset="0.3667" stop-color="#ff0300"/><stop offset="0.3733" stop-color="#ff1300"/><stop offset="0.3800" stop-color="#ff2400"/><stop offset="0.3867" stop-color="#ff3700"/><stop offset="0.3933" stop-color="#ff4a00"/><stop offset="0.4000" stop-color="#ff6400"/><stop offset="0.4067" stop-color="#ff7f00"/><stop offset="0.4133" stop-color="#ffa200"/><stop offset="0.4200" stop-color="#ffc400"/><stop offset="0.4267" stop-color="#ffea00"/><stop offset="0.4333" stop-color="#ebff14"/><stop offset="0.4400" stop-color="#c1ff3e"/><stop offset="0.4467" stop-color="#97ff68"/><stop offset="0.4533" stop-color="#65ff9a"/><stop offset="0.4600" stop-color="#33ffcc"/><stop offset="0.4667" stop-color="#18ffe7"/><stop offset="0.4733" stop-color="#00fcff"/><stop offset="0.4800" stop-color="#00dcff"/><stop offset="0.4867" stop-color="#00b7ff"/><stop offset="0.4933" stop-color="#008bff"/><stop offset="0.5000" stop-color="#005cff"/><stop offset="0.5067" stop-color="#003bff"/><stop offset="0.5133" stop-color="#001cff"/><stop offset="0.5200" stop-color="#000aff"/><stop offset="0.5267" stop-color="#0000f8"/><stop offset="0.5333" stop-color="#0000e6"/><stop offset="0.5400" stop-color="#0000d9"/><stop offset="0.5467" stop-color="#0000cd"/><stop offset="0.5533" stop-color="#0000c2"/><stop offset="0.5600" stop-color="#0000b9"/><stop offset="0.5667" stop-color="#0000b4"/><stop offset="0.5733" stop-color="#0000ae"/><stop offset="0.5800" stop-color="#0000ac"/><stop offset="0.5867" stop-color="#0000ac"/><stop offset="0.5933" stop-color="#0000ac"/><stop offset="0.6000" stop-color="#0000ac"/><stop offset="0.6067" stop-color="#0000ac"/><stop offset="0.6133" stop-color="#0000ac"/><stop offset="0.6200" stop-color="#0000ac"/><stop offset="0.6267" stop-color="#0000ac"/><stop offset="0.6333" stop-color="#0000ac"/><stop offset="0.6400" stop-color="#0000b0"/><stop offset="0.6467" stop-color="#0000bb"/><stop offset="0.6533" stop-color="#0000c6"/><stop offset="0.6600" stop-color="#0000d3"/><stop offset="0.6667" stop-color="#0000e5"/><stop offset="0.6733" stop-color="#0000f8"/><stop offset="0.6800" stop-color="#000cff"/><stop offset="0.6867" stop-color="#0021ff"/><stop offset="0.6933" stop-color="#0045ff"/><stop offset="0.7000" stop-color="#006dff"/><stop offset="0.7067" stop-color="#008fff"/><stop offset="0.7133" stop-color="#00b2ff"/><stop offset="0.7200" stop-color="#00d0ff"/><stop offset="0.7267" stop-color="#00eaff"/><stop offset="0.7333" stop-color="#08fff7"/><stop offset="0.7400" stop-color="#2fffd0"/><stop offset="0.7467" stop-color="#57ffa8"/><stop offset="0.7533" stop-color="#7eff81"/><stop offset="0.7600" stop-color="#a4ff5b"/><stop offset="0.7667" stop-color="#c9ff36"/><stop offset="0.7733" stop-color="#e8ff17"/><stop offset="0.7800" stop-color="#fff800"/><stop offset="0.7867" stop-color="#ffd300"/><stop offset="0.7933" stop-color="#ffad00"/><stop offset="0.8000" stop-color="#ff8800"/><stop offset="0.8067" stop-color="#ff6900"/><stop offset="0.8133" stop-color="#ff4b00"/><stop offset="0.8200" stop-color="#ff3700"/><stop offset="0.8267" stop-color="#ff2700"/><stop offset="0.8333" stop-color="#ff1800"/><stop offset="0.8400" stop-color="#ff0800"/><stop offset="0.8467" stop-color="#f60000"/><stop offset="0.8533" stop-color="#e60000"/><stop offset="0.8600" stop-color="#d50000"/><stop offset="0.8667" stop-color="#c50000"/><stop offset="0.8733" stop-color="#b50000"/><stop offset="0.8800" stop-color="#ac0000"/><stop offset="0.8867" stop-color="#ac0000"/><stop offset="0.8933" stop-color="#ac0000"/><stop offset="0.9000" stop-color="#ac0000"/><stop offset="0.9067" stop-color="#ac0000"/><stop offset="0.9133" stop-color="#ac0000"/><stop offset="0.9200" stop-color="#b50000"/><stop offset="0.9267" stop-color="#cb0000"/><stop offset="0.9333" stop-color="#dd0000"/><stop offset="0.9400" stop-color="#ec0000"/><stop offset="0.9467" stop-color="#fa0000"/><stop offset="0.9533" stop-color="#ff0a00"/><stop offset="0.9600" stop-color="#ff1600"/><stop offset="0.9667" stop-color="#ff2200"/><stop offset="0.9733" stop-color="#ff2f00"/><stop offset="0.9800" stop-color="#ff4f00"/><stop offset="0.9867" stop-color="#ff7400"/><stop offset="0.9933" stop-color="#ffa500"/><stop offset="1.0000" stop-color="#ffd200"/></linearGradient>
<linearGradient id="ds14" x1="0" y1="0" x2="0" y2="1"><stop offset="0.0000" stop-color="#0000b3"/><stop offset="0.0067" stop-color="#0000b4"/><stop offset="0.0133" stop-color="#0000b6"/><stop offset="0.0200" stop-color="#0000b7"/><stop offset="0.0267" stop-color="#0000b8"/><stop offset="0.0333" stop-color="#0000bc"/><stop offset="0.0400" stop-color="#0000c0"/><stop offset="0.0467" stop-color="#0000c4"/><stop offset="0.0533" stop-color="#0000c9"/><stop offset="0.0600" stop-color="#0000d1"/><stop offset="0.0667" stop-color="#0000d8"/><stop offset="0.0733" stop-color="#0000e0"/><stop offset="0.0800" stop-color="#0000ec"/><stop offset="0.0867" stop-color="#0000fa"/><stop offset="0.0933" stop-color="#0009ff"/><stop offset="0.1000" stop-color="#0017ff"/><stop offset="0.1067" stop-color="#0027ff"/><stop offset="0.1133" stop-color="#0038ff"/><stop offset="0.1200" stop-color="#0053ff"/><stop offset="0.1267" stop-color="#0072ff"/><stop offset="0.1333" stop-color="#0099ff"/><stop offset="0.1400" stop-color="#00c1ff"/><stop offset="0.1467" stop-color="#00eaff"/><stop offset="0.1533" stop-color="#16ffe9"/><stop offset="0.1600" stop-color="#42ffbd"/><stop offset="0.1667" stop-color="#6fff90"/><stop offset="0.1733" stop-color="#97ff68"/><stop offset="0.1800" stop-color="#bdff42"/><stop offset="0.1867" stop-color="#deff21"/><stop offset="0.1933" stop-color="#feff01"/><stop offset="0.2000" stop-color="#ffe500"/><stop offset="0.2067" stop-color="#ffcb00"/><stop offset="0.2133" stop-color="#ffae00"/><stop offset="0.2200" stop-color="#ff8d00"/><stop offset="0.2267" stop-color="#ff6d00"/><stop offset="0.2333" stop-color="#ff4e00"/><stop offset="0.2400" stop-color="#ff2f00"/><stop offset="0.2467" stop-color="#ff1600"/><stop offset="0.2533" stop-color="#ff0300"/><stop offset="0.2600" stop-color="#f00000"/><stop offset="0.2667" stop-color="#e10000"/><stop offset="0.2733" stop-color="#d30000"/><stop offset="0.2800" stop-color="#c40000"/><stop offset="0.2867" stop-color="#b80000"/><stop offset="0.2933" stop-color="#ab0000"/><stop offset="0.3000" stop-color="#a50000"/><stop offset="0.3067" stop-color="#a50000"/><stop offset="0.3133" stop-color="#a50000"/><stop offset="0.3200" stop-color="#a50000"/><stop offset="0.3267" stop-color="#a50000"/><stop offset="0.3333" stop-color="#a50000"/><stop offset="0.3400" stop-color="#b20000"/><stop offset="0.3467" stop-color="#c70000"/><stop offset="0.3533" stop-color="#dc0000"/><stop offset="0.3600" stop-color="#ec0000"/><stop offset="0.3667" stop-color="#fc0000"/><stop offset="0.3733" stop-color="#ff0d00"/><stop offset="0.3800" stop-color="#ff1e00"/><stop offset="0.3867" stop-color="#ff3100"/><stop offset="0.3933" stop-color="#ff4500"/><stop offset="0.4000" stop-color="#ff5f00"/><stop offset="0.4067" stop-color="#ff7b00"/><stop offset="0.4133" stop-color="#ff9e00"/><stop offset="0.4200" stop-color="#ffc100"/><stop offset="0.4267" stop-color="#ffe800"/><stop offset="0.4333" stop-color="#edff12"/><stop offset="0.4400" stop-color="#c2ff3d"/><stop offset="0.4467" stop-color="#98ff67"/><stop offset="0.4533" stop-color="#65ff9a"/><stop offset="0.4600" stop-color="#31ffce"/><stop offset="0.4667" stop-color="#16ffe9"/><stop offset="0.4733" stop-color="#00faff"/><stop offset="0.4800" stop-color="#00d9ff"/><stop offset="0.4867" stop-color="#00b4ff"/><stop offset="0.4933" stop-color="#0087ff"/><stop offset="0.5000" stop-color="#0057ff"/><stop offset="0.5067" stop-color="#0035ff"/><stop offset="0.5133" stop-color="#0016ff"/><stop offset="0.5200" stop-color="#0004ff"/><stop offset="0.5267" stop-color="#0000f1"/><stop offset="0.5333" stop-color="#0000df"/><stop offset="0.5400" stop-color="#0000d2"/><stop offset="0.5467" stop-color="#0000c6"/><stop offset="0.5533" stop-color="#0000bb"/><stop offset="0.5600" stop-color="#0000b1"/><stop offset="0.5667" stop-color="#0000ac"/><stop offset="0.5733" stop-color="#0000a6"/><stop offset="0.5800" stop-color="#0000a5"/><stop offset="0.5867" stop-color="#0000a5"/><stop offset="0.5933" stop-color="#0000a5"/><stop offset="0.6000" stop-color="#0000a5"/><stop offset="0.6067" stop-color="#0000a5"/><stop offset="0.6133" stop-color="#0000a5"/><stop offset="0.6200" stop-color="#0000a5"/><stop offset="0.6267" stop-color="#0000a5"/><stop offset="0.6333" stop-color="#0000a5"/><stop offset="0.6400" stop-color="#0000a9"/><stop offset="0.6467" stop-color="#0000b4"/><stop offset="0.6533" stop-color="#0000bf"/><stop offset="0.6600" stop-color="#0000cc"/><stop offset="0.6667" stop-color="#0000df"/><stop offset="0.6733" stop-color="#0000f1"/><stop offset="0.6800" stop-color="#0006ff"/><stop offset="0.6867" stop-color="#001bff"/><stop offset="0.6933" stop-color="#0040ff"/><stop offset="0.7000" stop-color="#0068ff"/><stop offset="0.7067" stop-color="#008bff"/><stop offset="0.7133" stop-color="#00aeff"/><stop offset="0.7200" stop-color="#00cdff"/><stop offset="0.7267" stop-color="#00e8ff"/><stop offset="0.7333" stop-color="#06fff9"/><stop offset="0.7400" stop-color="#2effd1"/><stop offset="0.7467" stop-color="#56ffa9"/><stop offset="0.7533" stop-color="#7eff81"/><stop offset="0.7600" stop-color="#a5ff5a"/><stop offset="0.7667" stop-color="#caff35"/><stop offset="0.7733" stop-color="#e9ff16"/><stop offset="0.7800" stop-color="#fff500"/><stop offset="0.7867" stop-color="#ffd000"/><stop offset="0.7933" stop-color="#ffa900"/><stop offset="0.8000" stop-color="#ff8400"/><stop offset="0.8067" stop-color="#ff6500"/><stop offset="0.8133" stop-color="#ff4600"/><stop offset="0.8200" stop-color="#ff3100"/><stop offset="0.8267" stop-color="#ff2200"/><stop offset="0.8333" stop-color="#ff1200"/><stop offset="0.8400" stop-color="#ff0200"/><stop offset="0.8467" stop-color="#f00000"/><stop offset="0.8533" stop-color="#df0000"/><stop offset="0.8600" stop-color="#ce0000"/><stop offset="0.8667" stop-color="#bd0000"/><stop offset="0.8733" stop-color="#ad0000"/><stop offset="0.8800" stop-color="#a50000"/><stop offset="0.8867" stop-color="#a50000"/><stop offset="0.8933" stop-color="#a50000"/><stop offset="0.9000" stop-color="#a50000"/><stop offset="0.9067" stop-color="#a50000"/><stop offset="0.9133" stop-color="#a50000"/><stop offset="0.9200" stop-color="#ae0000"/><stop offset="0.9267" stop-color="#c30000"/><stop offset="0.9333" stop-color="#d60000"/><stop offset="0.9400" stop-color="#e50000"/><stop offset="0.9467" stop-color="#f40000"/><stop offset="0.9533" stop-color="#ff0300"/><stop offset="0.9600" stop-color="#ff1000"/><stop offset="0.9667" stop-color="#ff1c00"/><stop offset="0.9733" stop-color="#ff2900"/><stop offset="0.9800" stop-color="#ff4a00"/><stop offset="0.9867" stop-color="#ff6f00"/><stop offset="0.9933" stop-color="#ffa200"/><stop offset="1.0000" stop-color="#ffcf00"/></linearGradient>
<linearGradient id="ds15" x1="0" y1="0" x2="0" y2="1"><stop offset="0.0000" stop-color="#0000ad"/><stop offset="0.0067" stop-color="#0000ae"/><stop offset="0.0133" stop-color="#0000af"/><stop offset="0.0200" stop-color="#0000b1"/><stop offset="0.0267" stop-color="#0000b2"/><stop offset="0.0333" stop-color="#0000b6"/><stop offset="0.0400" stop-color="#0000ba"/><stop offset="0.0467" stop-color="#0000be"/><stop offset="0.0533" stop-color="#0000c3"/><stop offset="0.0600" stop-color="#0000cb"/><stop offset="0.0667" stop-color="#0000d3"/><stop offset="0.0733" stop-color="#0000db"/><stop offset="0.0800" stop-color="#0000e6"/><stop offset="0.0867" stop-color="#0000f4"/><stop offset="0.0933" stop-color="#0004ff"/><stop offset="0.1000" stop-color="#0012ff"/><stop offset="0.1067" stop-color="#0023ff"/><stop offset="0.1133" stop-color="#0034ff"/><stop offset="0.1200" stop-color="#004fff"/><stop offset="0.1267" stop-color="#006fff"/><stop offset="0.1333" stop-color="#0096ff"/><stop offset="0.1400" stop-color="#00bfff"/><stop offset="0.1467" stop-color="#00e8ff"/><stop offset="0.1533" stop-color="#14ffeb"/><stop offset="0.1600" stop-color="#41ffbe"/><stop offset="0.1667" stop-color="#6fff90"/><stop offset="0.1733" stop-color="#98ff67"/><stop offset="0.1800" stop-color="#beff41"/><stop offset="0.1867" stop-color="#dfff20"/><stop offset="0.1933" stop-color="#fffe00"/><stop offset="0.2000" stop-color="#ffe300"/><stop offset="0.2067" stop-color="#ffc800"/><stop offset="0.2133" stop-color="#ffab00"/><stop offset="0.2200" stop-color="#ff8a00"/><stop offset="0.2267" stop-color="#ff6900"/><stop offset="0.2333" stop-color="#ff4a00"/><stop offset="0.2400" stop-color="#ff2a00"/><stop offset="0.2467" stop-color="#ff1100"/><stop offset="0.2533" stop-color="#fd0000"/><stop offset="0.2600" stop-color="#ea0000"/><stop offset="0.2667" stop-color="#db0000"/><stop offset="0.2733" stop-color="#cd0000"/><stop offset="0.2800" stop-color="#be0000"/><stop offset="0.2867" stop-color="#b10000"/><stop offset="0.2933" stop-color="#a50000"/><stop offset="0.3000" stop-color="#9e0000"/><stop offset="0.3067" stop-color="#9e0000"/><stop offset="0.3133" stop-color="#9e0000"/><stop offset="0.3200" stop-color="#9e0000"/><stop offset="0.3267" stop-color="#9e0000"/><stop offset="0.3333" stop-color="#9e0000"/><stop offset="0.3400" stop-color="#ab0000"/><stop offset="0.3467" stop-color="#c10000"/><stop offset="0.3533" stop-color="#d60000"/><stop offset="0.3600" stop-color="#e60000"/><stop offset="0.3667" stop-color="#f60000"/><stop offset="0.3733" stop-color="#ff0700"/><stop offset="0.3800" stop-color="#ff1900"/><stop offset="0.3867" stop-color="#ff2d00"/><stop offset="0.3933" stop-color="#ff4100"/><stop offset="0.4000" stop-color="#ff5b00"/><stop offset="0.4067" stop-color="#ff7700"/><stop offset="0.4133" stop-color="#ff9b00"/><stop offset="0.4200" stop-color="#ffbe00"/><stop offset="0.4267" stop-color="#ffe600"/><stop offset="0.4333" stop-color="#eeff11"/><stop offset="0.4400" stop-color="#c3ff3c"/><stop offset="0.4467" stop-color="#98ff67"/><stop offset="0.4533" stop-color="#65ff9a"/><stop offset="0.4600" stop-color="#30ffcf"/><stop offset="0.4667" stop-color="#15ffea"/><stop offset="0.4733" stop-color="#00f8ff"/><stop offset="0.4800" stop-color="#00d7ff"/><stop offset="0.4867" stop-color="#00b1ff"/><stop offset="0.4933" stop-color="#0083ff"/><stop offset="0.5000" stop-color="#0053ff"/><stop offset="0.5067" stop-color="#0031ff"/><stop offset="0.5133" stop-color="#0011ff"/><stop offset="0.5200" stop-color="#0000fe"/><stop offset="0.5267" stop-color="#0000eb"/><stop offset="0.5333" stop-color="#0000d9"/><stop offset="0.5400" stop-color="#0000cc"/><stop offset="0.5467" stop-color="#0000c0"/><stop offset="0.5533" stop-color="#0000b4"/><stop offset="0.5600" stop-color="#0000ab"/><stop offset="0.5667" stop-color="#0000a5"/><stop offset="0.5733" stop-color="#0000a0"/><stop offset="0.5800" stop-color="#00009e"/><stop offset="0.5867" stop-color="#00009e"/><stop offset="0.5933" stop-color="#00009e"/><stop offset="0.6000" stop-color="#00009e"/><stop offset="0.6067" stop-color="#00009e"/><stop offset="0.6133" stop-color="#00009e"/><stop offset="0.6200" stop-color="#00009e"/><stop offset="0.6267" stop-color="#00009e"/><stop offset="0.6333" stop-color="#00009e"/><stop offset="0.6400" stop-color="#0000a2"/><stop offset="0.6467" stop-color="#0000ad"/><stop offset="0.6533" stop-color="#0000b8"/><stop offset="0.6600" stop-color="#0000c6"/><stop offset="0.6667" stop-color="#0000d9"/><stop offset="0.6733" stop-color="#0000ec"/><stop offset="0.6800" stop-color="#0000ff"/><stop offset="0.6867" stop-color="#0016ff"/><stop offset="0.6933" stop-color="#003cff"/><stop offset="0.7000" stop-color="#0064ff"/><stop offset="0.7067" stop-color="#0088ff"/><stop offset="0.7133" stop-color="#00abff"/><stop offset="0.7200" stop-color="#00caff"/><stop offset="0.7267" stop-color="#00e6ff"/><stop offset="0.7333" stop-color="#04fffb"/><stop offset="0.7400" stop-color="#2dffd2"/><stop offset="0.7467" stop-color="#56ffa9"/><stop offset="0.7533" stop-color="#7eff81"/><stop offset="0.7600" stop-color="#a5ff5a"/><stop offset="0.7667" stop-color="#cbff34"/><stop offset="0.7733" stop-color="#ebff14"/><stop offset="0.7800" stop-color="#fff300"/><stop offset="0.7867" stop-color="#ffce00"/><stop offset="0.7933" stop-color="#ffa600"/><stop offset="0.8000" stop-color="#ff8100"/><stop offset="0.8067" stop-color="#ff6100"/><stop offset="0.8133" stop-color="#ff4100"/><stop offset="0.8200" stop-color="#ff2d00"/><stop offset="0.8267" stop-color="#ff1d00"/><stop offset="0.8333" stop-color="#ff0d00"/><stop offset="0.8400" stop-color="#fc0000"/><stop offset="0.8467" stop-color="#ea0000"/><stop offset="0.8533" stop-color="#d90000"/><stop offset="0.8600" stop-color="#c80000"/><stop offset="0.8667" stop-color="#b70000"/><stop offset="0.8733" stop-color="#a70000"/><stop offset="0.8800" stop-color="#9e0000"/><stop offset="0.8867" stop-color="#9e0000"/><stop offset="0.8933" stop-color="#9e0000"/><stop offset="0.9000" stop-color="#9e0000"/><stop offset="0.9067" stop-color="#9e0000"/><stop offset="0.9133" stop-color="#9e0000"/><stop offset="0.9200" stop-color="#a70000"/><stop offset="0.9267" stop-color="#bd0000"/><stop offset="0.9333" stop-color="#d00000"/><stop offset="0.9400" stop-color="#df0000"/><stop offset="0.9467" stop-color="#ee0000"/><stop offset="0.9533" stop-color="#fd0000"/><stop offset="0.9600" stop-color="#ff0b00"/><stop offset="0.9667" stop-color="#ff1700"/><stop offset="0.9733" stop-color="#ff2400"/><stop offset="0.9800" stop-color="#ff4600"/><stop offset="0.9867" stop-color="#ff6b00"/><stop offset="0.9933" stop-color="#ff9f00"/><stop offset="1.0000" stop-color="#ffcd00"/></linearGradient>
<linearGradient id="ds16" x1="0" y1="0" x2="0" y2="1"><stop offset="0.0000" stop-color="#0000a8"/><stop offset="0.0067" stop-color="#0000a9"/><stop offset="0.0133" stop-color="#0000aa"/><stop offset="0.0200" stop-color="#0000ac"/><stop offset="0.0267" stop-color="#0000ad"/><stop offset="0.0333" stop-color="#0000b1"/><stop offset="0.0400" stop-color="#0000b5"/><stop offset="0.0467" stop-color="#0000b9"/><stop offset="0.0533" stop-color="#0000be"/><stop offset="0.0600" stop-color="#0000c6"/><stop offset="0.0667" stop-color="#0000ce"/><stop offset="0.0733" stop-color="#0000d6"/><stop offset="0.0800" stop-color="#0000e2"/><stop offset="0.0867" stop-color="#0000f0"/><stop offset="0.0933" stop-color="#0000ff"/><stop offset="0.1000" stop-color="#000eff"/><stop offset="0.1067" stop-color="#001fff"/><stop offset="0.1133" stop-color="#0030ff"/><stop offset="0.1200" stop-color="#004cff"/><stop offset="0.1267" stop-color="#006cff"/><stop offset="0.1333" stop-color="#0093ff"/><stop offset="0.1400" stop-color="#00bdff"/><stop offset="0.1467" stop-color="#00e7ff"/><stop offset="0.1533" stop-color="#13ffec"/><stop offset="0.1600" stop-color="#41ffbe"/><stop offset="0.1667" stop-color="#6fff90"/><stop offset="0.1733" stop-color="#98ff67"/><stop offset="0.1800" stop-color="#bfff40"/><stop offset="0.1867" stop-color="#e0ff1f"/><stop offset="0.1933" stop-color="#fffd00"/><stop offset="0.2000" stop-color="#ffe100"/><stop offset="0.2067" stop-color="#ffc600"/><stop offset="0.2133" stop-color="#ffa800"/><stop offset="0.2200" stop-color="#ff8700"/><stop offset="0.2267" stop-color="#ff6600"/><stop offset="0.2333" stop-color="#ff4600"/><stop offset="0.2400" stop-color="#ff2600"/><stop offset="0.2467" stop-color="#ff0d00"/><stop offset="0.2533" stop-color="#f90000"/><stop offset="0.2600" stop-color="#e60000"/><stop offset="0.2667" stop-color="#d70000"/><stop offset="0.2733" stop-color="#c80000"/><stop offset="0.2800" stop-color="#b90000"/><stop offset="0.2867" stop-color="#ac0000"/><stop offset="0.2933" stop-color="#a00000"/><stop offset="0.3000" stop-color="#990000"/><stop offset="0.3067" stop-color="#990000"/><stop offset="0.3133" stop-color="#990000"/><stop offset="0.3200" stop-color="#990000"/><stop offset="0.3267" stop-color="#990000"/><stop offset="0.3333" stop-color="#990000"/><stop offset="0.3400" stop-color="#a60000"/><stop offset="0.3467" stop-color="#bc0000"/><stop offset="0.3533" stop-color="#d20000"/><stop offset="0.3600" stop-color="#e20000"/><stop offset="0.3667" stop-color="#f20000"/><stop offset="0.3733" stop-color="#ff0300"/><stop offset="0.3800" stop-color="#ff1500"/><stop offset="0.3867" stop-color="#ff2900"/><stop offset="0.3933" stop-color="#ff3d00"/><stop offset="0.4000" stop-color="#ff5800"/><stop offset="0.4067" stop-color="#ff7400"/><stop offset="0.4133" stop-color="#ff9800"/><stop offset="0.4200" stop-color="#ffbc00"/><stop offset="0.4267" stop-color="#ffe400"/><stop offset="0.4333" stop-color="#f0ff0f"/><stop offset="0.4400" stop-color="#c4ff3b"/><stop offset="0.4467" stop-color="#98ff67"/><stop offset="0.4533" stop-color="#64ff9b"/><stop offset="0.4600" stop-color="#2fffd0"/><stop offset="0.4667" stop-color="#13ffec"/><stop offset="0.4733" stop-color="#00f6ff"/><stop offset="0.4800" stop-color="#00d5ff"/><stop offset="0.4867" stop-color="#00afff"/><stop offset="0.4933" stop-color="#0081ff"/><stop offset="0.5000" stop-color="#004fff"/><stop offset="0.5067" stop-color="#002dff"/><stop offset="0.5133" stop-color="#000dff"/><stop offset="0.5200" stop-color="#0000fa"/><stop offset="0.5267" stop-color="#0000e7"/><stop offset="0.5333" stop-color="#0000d5"/><stop offset="0.5400" stop-color="#0000c7"/><stop offset="0.5467" stop-color="#0000bb"/><stop offset="0.5533" stop-color="#0000af"/><stop offset="0.5600" stop-color="#0000a6"/><stop offset="0.5667" stop-color="#0000a0"/><stop offset="0.5733" stop-color="#00009b"/><stop offset="0.5800" stop-color="#000099"/><stop offset="0.5867" stop-color="#000099"/><stop offset="0.5933" stop-color="#000099"/><stop offset="0.6000" stop-color="#000099"/><stop offset="0.6067" stop-color="#000099"/><stop offset="0.6133" stop-color="#000099"/><stop offset="0.6200" stop-color="#000099"/><stop offset="0.6267" stop-color="#000099"/><stop offset="0.6333" stop-color="#000099"/><stop offset="0.6400" stop-color="#00009d"/><stop offset="0.6467" stop-color="#0000a8"/><stop offset="0.6533" stop-color="#0000b3"/><stop offset="0.6600" stop-color="#0000c1"/><stop offset="0.6667" stop-color="#0000d4"/><stop offset="0.6733" stop-color="#0000e7"/><stop offset="0.6800" stop-color="#0000fb"/><stop offset="0.6867" stop-color="#0012ff"/><stop offset="0.6933" stop-color="#0038ff"/><stop offset="0.7000" stop-color="#0061ff"/><stop offset="0.7067" stop-color="#0085ff"/><stop offset="0.7133" stop-color="#00a9ff"/><stop offset="0.7200" stop-color="#00c8ff"/><stop offset="0.7267" stop-color="#00e4ff"/><stop offset="0.7333" stop-color="#03fffc"/><stop offset="0.7400" stop-color="#2cffd3"/><stop offset="0.7467" stop-color="#55ffaa"/><stop offset="0.7533" stop-color="#7eff81"/><stop offset="0.7600" stop-color="#a6ff59"/><stop offset="0.7667" stop-color="#ccff33"/><stop offset="0.7733" stop-color="#ecff13"/><stop offset="0.7800" stop-color="#fff200"/><stop offset="0.7867" stop-color="#ffcc00"/><stop offset="0.7933" stop-color="#ffa400"/><stop offset="0.8000" stop-color="#ff7e00"/><stop offset="0.8067" stop-color="#ff5e00"/><stop offset="0.8133" stop-color="#ff3e00"/><stop offset="0.8200" stop-color="#ff2900"/><stop offset="0.8267" stop-color="#ff1900"/><stop offset="0.8333" stop-color="#ff0900"/><stop offset="0.8400" stop-color="#f80000"/><stop offset="0.8467" stop-color="#e60000"/><stop offset="0.8533" stop-color="#d40000"/><stop offset="0.8600" stop-color="#c30000"/><stop offset="0.8667" stop-color="#b20000"/><stop offset="0.8733" stop-color="#a10000"/><stop offset="0.8800" stop-color="#990000"/><stop offset="0.8867" stop-color="#990000"/><stop offset="0.8933" stop-color="#990000"/><stop offset="0.9000" stop-color="#990000"/><stop offset="0.9067" stop-color="#990000"/><stop offset="0.9133" stop-color="#990000"/><stop offset="0.9200" stop-color="#a20000"/><stop offset="0.9267" stop-color="#b80000"/><stop offset="0.9333" stop-color="#cc0000"/><stop offset="0.9400" stop-color="#db0000"/><stop offset="0.9467" stop-color="#ea0000"/><stop offset="0.9533" stop-color="#f90000"/><stop offset="0.9600" stop-color="#ff0700"/><stop offset="0.9667" stop-color="#ff1400"/><stop offset="0.9733" stop-color="#ff2000"/><stop offset="0.9800" stop-color="#ff4200"/><stop offset="0.9867" stop-color="#ff6800"/><stop offset="0.9933" stop-color="#ff9c00"/><stop offset="1.0000" stop-color="#ffcb00"/></linearGradient>
<linearGradient id="cs0" x1="0" y1="0" x2="0" y2="1"><stop offset="0.000" stop-color="#80ff80"/><stop offset="0.017" stop-color="#cdff32"/><stop offset="0.033" stop-color="#ffe800"/><stop offset="0.050" stop-color="#ffaa00"/><stop offset="0.067" stop-color="#ff7b00"/><stop offset="0.083" stop-color="#ff5b00"/><stop offset="0.100" stop-color="#ff4700"/><stop offset="0.117" stop-color="#ff3900"/><stop offset="0.133" stop-color="#ff3100"/><stop offset="0.150" stop-color="#ff2b00"/><stop offset="0.167" stop-color="#ff2700"/><stop offset="0.183" stop-color="#ff2400"/><stop offset="0.200" stop-color="#ff2300"/><stop offset="0.217" stop-color="#ff2200"/><stop offset="0.233" stop-color="#ff2100"/><stop offset="0.250" stop-color="#ff2100"/><stop offset="0.267" stop-color="#ff2100"/><stop offset="0.283" stop-color="#ff2200"/><stop offset="0.300" stop-color="#ff2300"/><stop offset="0.317" stop-color="#ff2400"/><stop offset="0.333" stop-color="#ff2700"/><stop offset="0.350" stop-color="#ff2b00"/><stop offset="0.367" stop-color="#ff3100"/><stop offset="0.383" stop-color="#ff3900"/><stop offset="0.400" stop-color="#ff4700"/><stop offset="0.417" stop-color="#ff5b00"/><stop offset="0.433" stop-color="#ff7b00"/><stop offset="0.450" stop-color="#ffaa00"/><stop offset="0.467" stop-color="#ffe800"/><stop offset="0.483" stop-color="#cdff32"/><stop offset="0.500" stop-color="#80ff7f"/><stop offset="0.517" stop-color="#32ffcd"/><stop offset="0.533" stop-color="#00e8ff"/><stop offset="0.550" stop-color="#00aaff"/><stop offset="0.567" stop-color="#007bff"/><stop offset="0.583" stop-color="#005bff"/><stop offset="0.600" stop-color="#0047ff"/><stop offset="0.617" stop-color="#0039ff"/><stop offset="0.633" stop-color="#0031ff"/><stop offset="0.650" stop-color="#002bff"/><stop offset="0.667" stop-color="#0027ff"/><stop offset="0.683" stop-color="#0024ff"/><stop offset="0.700" stop-color="#0023ff"/><stop offset="0.717" stop-color="#0022ff"/><stop offset="0.733" stop-color="#0021ff"/><stop offset="0.750" stop-color="#0021ff"/><stop offset="0.767" stop-color="#0021ff"/><stop offset="0.783" stop-color="#0022ff"/><stop offset="0.800" stop-color="#0023ff"/><stop offset="0.817" stop-color="#0024ff"/><stop offset="0.833" stop-color="#0027ff"/><stop offset="0.850" stop-color="#002bff"/><stop offset="0.867" stop-color="#0031ff"/><stop offset="0.883" stop-color="#0039ff"/><stop offset="0.900" stop-color="#0047ff"/><stop offset="0.917" stop-color="#005bff"/><stop offset="0.933" stop-color="#007bff"/><stop offset="0.950" stop-color="#00aaff"/><stop offset="0.967" stop-color="#00e8ff"/><stop offset="0.983" stop-color="#32ffcd"/><stop offset="1.000" stop-color="#7fff80"/></linearGradient>
<linearGradient id="cs1" x1="0" y1="0" x2="0" y2="1"><stop offset="0.000" stop-color="#80ff80"/><stop offset="0.017" stop-color="#c0ff3f"/><stop offset="0.033" stop-color="#feff01"/><stop offset="0.050" stop-color="#ffc900"/><stop offset="0.067" stop-color="#ff9e00"/><stop offset="0.083" stop-color="#ff7f00"/><stop offset="0.100" stop-color="#ff6900"/><stop offset="0.117" stop-color="#ff5b00"/><stop offset="0.133" stop-color="#ff5100"/><stop offset="0.150" stop-color="#ff4a00"/><stop offset="0.167" stop-color="#ff4600"/><stop offset="0.183" stop-color="#ff4300"/><stop offset="0.200" stop-color="#ff4100"/><stop offset="0.217" stop-color="#ff3f00"/><stop offset="0.233" stop-color="#ff3f00"/><stop offset="0.250" stop-color="#ff3e00"/><stop offset="0.267" stop-color="#ff3f00"/><stop offset="0.283" stop-color="#ff3f00"/><stop offset="0.300" stop-color="#ff4100"/><stop offset="0.317" stop-color="#ff4300"/><stop offset="0.333" stop-color="#ff4600"/><stop offset="0.350" stop-color="#ff4a00"/><stop offset="0.367" stop-color="#ff5100"/><stop offset="0.383" stop-color="#ff5b00"/><stop offset="0.400" stop-color="#ff6900"/><stop offset="0.417" stop-color="#ff7f00"/><stop offset="0.433" stop-color="#ff9e00"/><stop offset="0.450" stop-color="#ffc900"/><stop offset="0.467" stop-color="#feff01"/><stop offset="0.483" stop-color="#c0ff3f"/><stop offset="0.500" stop-color="#80ff7f"/><stop offset="0.517" stop-color="#3fffc0"/><stop offset="0.533" stop-color="#01fffe"/><stop offset="0.550" stop-color="#00c9ff"/><stop offset="0.567" stop-color="#009eff"/><stop offset="0.583" stop-color="#007fff"/><stop offset="0.600" stop-color="#0069ff"/><stop offset="0.617" stop-color="#005bff"/><stop offset="0.633" stop-color="#0051ff"/><stop offset="0.650" stop-color="#004aff"/><stop offset="0.667" stop-color="#0046ff"/><stop offset="0.683" stop-color="#0043ff"/><stop offset="0.700" stop-color="#0041ff"/><stop offset="0.717" stop-color="#003fff"/><stop offset="0.733" stop-color="#003fff"/><stop offset="0.750" stop-color="#003eff"/><stop offset="0.767" stop-color="#003fff"/><stop offset="0.783" stop-color="#003fff"/><stop offset="0.800" stop-color="#0041ff"/><stop offset="0.817" stop-color="#0043ff"/><stop offset="0.833" stop-color="#0046ff"/><stop offset="0.850" stop-color="#004aff"/><stop offset="0.867" stop-color="#0051ff"/><stop offset="0.883" stop-color="#005bff"/><stop offset="0.900" stop-color="#0069ff"/><stop offset="0.917" stop-color="#007fff"/><stop offset="0.933" stop-color="#009eff"/><stop offset="0.950" stop-color="#00c9ff"/><stop offset="0.967" stop-color="#01fffe"/><stop offset="0.983" stop-color="#3fffc0"/><stop offset="1.000" stop-color="#7fff80"/></linearGradient>
<linearGradient id="cs2" x1="0" y1="0" x2="0" y2="1"><stop offset="0.000" stop-color="#80ff80"/><stop offset="0.017" stop-color="#b6ff49"/><stop offset="0.033" stop-color="#ebff14"/><stop offset="0.050" stop-color="#ffe400"/><stop offset="0.067" stop-color="#ffbd00"/><stop offset="0.083" stop-color="#ff9f00"/><stop offset="0.100" stop-color="#ff8900"/><stop offset="0.117" stop-color="#ff7900"/><stop offset="0.133" stop-color="#ff6f00"/><stop offset="0.150" stop-color="#ff6700"/><stop offset="0.167" stop-color="#ff6200"/><stop offset="0.183" stop-color="#ff5f00"/><stop offset="0.200" stop-color="#ff5c00"/><stop offset="0.217" stop-color="#ff5b00"/><stop offset="0.233" stop-color="#ff5a00"/><stop offset="0.250" stop-color="#ff5900"/><stop offset="0.267" stop-color="#ff5a00"/><stop offset="0.283" stop-color="#ff5b00"/><stop offset="0.300" stop-color="#ff5c00"/><stop offset="0.317" stop-color="#ff5f00"/><stop offset="0.333" stop-color="#ff6200"/><stop offset="0.350" stop-color="#ff6700"/><stop offset="0.367" stop-color="#ff6f00"/><stop offset="0.383" stop-color="#ff7900"/><stop offset="0.400" stop-color="#ff8900"/><stop offset="0.417" stop-color="#ff9f00"/><stop offset="0.433" stop-color="#ffbd00"/><stop offset="0.450" stop-color="#ffe400"/><stop offset="0.467" stop-color="#ebff14"/><stop offset="0.483" stop-color="#b6ff49"/><stop offset="0.500" stop-color="#80ff7f"/><stop offset="0.517" stop-color="#49ffb6"/><stop offset="0.533" stop-color="#14ffeb"/><stop offset="0.550" stop-color="#00e4ff"/><stop offset="0.567" stop-color="#00bdff"/><stop offset="0.583" stop-color="#009fff"/><stop offset="0.600" stop-color="#0089ff"/><stop offset="0.617" stop-color="#0079ff"/><stop offset="0.633" stop-color="#006fff"/><stop offset="0.650" stop-color="#0067ff"/><stop offset="0.667" stop-color="#0062ff"/><stop offset="0.683" stop-color="#005fff"/><stop offset="0.700" stop-color="#005cff"/><stop offset="0.717" stop-color="#005bff"/><stop offset="0.733" stop-color="#005aff"/><stop offset="0.750" stop-color="#0059ff"/><stop offset="0.767" stop-color="#005aff"/><stop offset="0.783" stop-color="#005bff"/><stop offset="0.800" stop-color="#005cff"/><stop offset="0.817" stop-color="#005fff"/><stop offset="0.833" stop-color="#0062ff"/><stop offset="0.850" stop-color="#0067ff"/><stop offset="0.867" stop-color="#006fff"/><stop offset="0.883" stop-color="#0079ff"/><stop offset="0.900" stop-color="#0089ff"/><stop offset="0.917" stop-color="#009fff"/><stop offset="0.933" stop-color="#00bdff"/><stop offset="0.950" stop-color="#00e4ff"/><stop offset="0.967" stop-color="#14ffeb"/><stop offset="0.983" stop-color="#49ffb6"/><stop offset="1.000" stop-color="#7fff80"/></linearGradient>
<linearGradient id="cs3" x1="0" y1="0" x2="0" y2="1"><stop offset="0.000" stop-color="#80ff80"/><stop offset="0.017" stop-color="#aeff51"/><stop offset="0.033" stop-color="#dbff24"/><stop offset="0.050" stop-color="#fffa00"/><stop offset="0.067" stop-color="#ffd700"/><stop offset="0.083" stop-color="#ffba00"/><stop offset="0.100" stop-color="#ffa500"/><stop offset="0.117" stop-color="#ff9500"/><stop offset="0.133" stop-color="#ff8a00"/><stop offset="0.150" stop-color="#ff8200"/><stop offset="0.167" stop-color="#ff7c00"/><stop offset="0.183" stop-color="#ff7800"/><stop offset="0.200" stop-color="#ff7500"/><stop offset="0.217" stop-color="#ff7300"/><stop offset="0.233" stop-color="#ff7200"/><stop offset="0.250" stop-color="#ff7200"/><stop offset="0.267" stop-color="#ff7200"/><stop offset="0.283" stop-color="#ff7300"/><stop offset="0.300" stop-color="#ff7500"/><stop offset="0.317" stop-color="#ff7800"/><stop offset="0.333" stop-color="#ff7c00"/><stop offset="0.350" stop-color="#ff8200"/><stop offset="0.367" stop-color="#ff8a00"/><stop offset="0.383" stop-color="#ff9500"/><stop offset="0.400" stop-color="#ffa500"/><stop offset="0.417" stop-color="#ffba00"/><stop offset="0.433" stop-color="#ffd700"/><stop offset="0.450" stop-color="#fffa00"/><stop offset="0.467" stop-color="#dbff24"/><stop offset="0.483" stop-color="#aeff51"/><stop offset="0.500" stop-color="#80ff80"/><stop offset="0.517" stop-color="#51ffae"/><stop offset="0.533" stop-color="#24ffdb"/><stop offset="0.550" stop-color="#00faff"/><stop offset="0.567" stop-color="#00d7ff"/><stop offset="0.583" stop-color="#00baff"/><stop offset="0.600" stop-color="#00a5ff"/><stop offset="0.617" stop-color="#0095ff"/><stop offset="0.633" stop-color="#008aff"/><stop offset="0.650" stop-color="#0082ff"/><stop offset="0.667" stop-color="#007cff"/><stop offset="0.683" stop-color="#0078ff"/><stop offset="0.700" stop-color="#0075ff"/><stop offset="0.717" stop-color="#0073ff"/><stop offset="0.733" stop-color="#0072ff"/><stop offset="0.750" stop-color="#0072ff"/><stop offset="0.767" stop-color="#0072ff"/><stop offset="0.783" stop-color="#0073ff"/><stop offset="0.800" stop-color="#0075ff"/><stop offset="0.817" stop-color="#0078ff"/><stop offset="0.833" stop-color="#007cff"/><stop offset="0.850" stop-color="#0082ff"/><stop offset="0.867" stop-color="#008aff"/><stop offset="0.883" stop-color="#0095ff"/><stop offset="0.900" stop-color="#00a5ff"/><stop offset="0.917" stop-color="#00baff"/><stop offset="0.933" stop-color="#00d7ff"/><stop offset="0.950" stop-color="#00faff"/><stop offset="0.967" stop-color="#24ffdb"/><stop offset="0.983" stop-color="#51ffae"/><stop offset="1.000" stop-color="#7fff80"/></linearGradient>
<linearGradient id="cs4" x1="0" y1="0" x2="0" y2="1"><stop offset="0.000" stop-color="#80ff80"/><stop offset="0.017" stop-color="#a7ff58"/><stop offset="0.033" stop-color="#ceff31"/><stop offset="0.050" stop-color="#f2ff0d"/><stop offset="0.067" stop-color="#ffec00"/><stop offset="0.083" stop-color="#ffd200"/><stop offset="0.100" stop-color="#ffbd00"/><stop offset="0.117" stop-color="#ffae00"/><stop offset="0.133" stop-color="#ffa200"/><stop offset="0.150" stop-color="#ff9900"/><stop offset="0.167" stop-color="#ff9300"/><stop offset="0.183" stop-color="#ff8f00"/><stop offset="0.200" stop-color="#ff8c00"/><stop offset="0.217" stop-color="#ff8a00"/><stop offset="0.233" stop-color="#ff8800"/><stop offset="0.250" stop-color="#ff8800"/><stop offset="0.267" stop-color="#ff8800"/><stop offset="0.283" stop-color="#ff8a00"/><stop offset="0.300" stop-color="#ff8c00"/><stop offset="0.317" stop-color="#ff8f00"/><stop offset="0.333" stop-color="#ff9300"/><stop offset="0.350" stop-color="#ff9900"/><stop offset="0.367" stop-color="#ffa200"/><stop offset="0.383" stop-color="#ffae00"/><stop offset="0.400" stop-color="#ffbd00"/><stop offset="0.417" stop-color="#ffd200"/><stop offset="0.433" stop-color="#ffec00"/><stop offset="0.450" stop-color="#f2ff0d"/><stop offset="0.467" stop-color="#ceff31"/><stop offset="0.483" stop-color="#a7ff58"/><stop offset="0.500" stop-color="#80ff80"/><stop offset="0.517" stop-color="#58ffa7"/><stop offset="0.533" stop-color="#31ffce"/><stop offset="0.550" stop-color="#0dfff2"/><stop offset="0.567" stop-color="#00ecff"/><stop offset="0.583" stop-color="#00d2ff"/><stop offset="0.600" stop-color="#00bdff"/><stop offset="0.617" stop-color="#00aeff"/><stop offset="0.633" stop-color="#00a2ff"/><stop offset="0.650" stop-color="#0099ff"/><stop offset="0.667" stop-color="#0093ff"/><stop offset="0.683" stop-color="#008fff"/><stop offset="0.700" stop-color="#008cff"/><stop offset="0.717" stop-color="#008aff"/><stop offset="0.733" stop-color="#0088ff"/><stop offset="0.750" stop-color="#0088ff"/><stop offset="0.767" stop-color="#0088ff"/><stop offset="0.783" stop-color="#008aff"/><stop offset="0.800" stop-color="#008cff"/><stop offset="0.817" stop-color="#008fff"/><stop offset="0.833" stop-color="#0093ff"/><stop offset="0.850" stop-color="#0099ff"/><stop offset="0.867" stop-color="#00a2ff"/><stop offset="0.883" stop-color="#00aeff"/><stop offset="0.900" stop-color="#00bdff"/><stop offset="0.917" stop-color="#00d2ff"/><stop offset="0.933" stop-color="#00ecff"/><stop offset="0.950" stop-color="#0dfff2"/><stop offset="0.967" stop-color="#31ffce"/><stop offset="0.983" stop-color="#58ffa7"/><stop offset="1.000" stop-color="#7fff80"/></linearGradient>
<linearGradient id="cs5" x1="0" y1="0" x2="0" y2="1"><stop offset="0.000" stop-color="#80ff80"/><stop offset="0.017" stop-color="#a2ff5d"/><stop offset="0.033" stop-color="#c4ff3b"/><stop offset="0.050" stop-color="#e4ff1b"/><stop offset="0.067" stop-color="#fffe00"/><stop offset="0.083" stop-color="#ffe600"/><stop offset="0.100" stop-color="#ffd200"/><stop offset="0.117" stop-color="#ffc200"/><stop offset="0.133" stop-color="#ffb600"/><stop offset="0.150" stop-color="#ffae00"/><stop offset="0.167" stop-color="#ffa700"/><stop offset="0.183" stop-color="#ffa200"/><stop offset="0.200" stop-color="#ff9f00"/><stop offset="0.217" stop-color="#ff9d00"/><stop offset="0.233" stop-color="#ff9c00"/><stop offset="0.250" stop-color="#ff9b00"/><stop offset="0.267" stop-color="#ff9c00"/><stop offset="0.283" stop-color="#ff9d00"/><stop offset="0.300" stop-color="#ff9f00"/><stop offset="0.317" stop-color="#ffa200"/><stop offset="0.333" stop-color="#ffa700"/><stop offset="0.350" stop-color="#ffae00"/><stop offset="0.367" stop-color="#ffb600"/><stop offset="0.383" stop-color="#ffc200"/><stop offset="0.400" stop-color="#ffd200"/><stop offset="0.417" stop-color="#ffe600"/><stop offset="0.433" stop-color="#fffe00"/><stop offset="0.450" stop-color="#e4ff1b"/><stop offset="0.467" stop-color="#c4ff3b"/><stop offset="0.483" stop-color="#a2ff5d"/><stop offset="0.500" stop-color="#80ff80"/><stop offset="0.517" stop-color="#5dffa2"/><stop offset="0.533" stop-color="#3bffc4"/><stop offset="0.550" stop-color="#1bffe4"/><stop offset="0.567" stop-color="#00feff"/><stop offset="0.583" stop-color="#00e6ff"/><stop offset="0.600" stop-color="#00d2ff"/><stop offset="0.617" stop-color="#00c2ff"/><stop offset="0.633" stop-color="#00b6ff"/><stop offset="0.650" stop-color="#00aeff"/><stop offset="0.667" stop-color="#00a7ff"/><stop offset="0.683" stop-color="#00a2ff"/><stop offset="0.700" stop-color="#009fff"/><stop offset="0.717" stop-color="#009dff"/><stop offset="0.733" stop-color="#009cff"/><stop offset="0.750" stop-color="#009bff"/><stop offset="0.767" stop-color="#009cff"/><stop offset="0.783" stop-color="#009dff"/><stop offset="0.800" stop-color="#009fff"/><stop offset="0.817" stop-color="#00a2ff"/><stop offset="0.833" stop-color="#00a7ff"/><stop offset="0.850" stop-color="#00aeff"/><stop offset="0.867" stop-color="#00b6ff"/><stop offset="0.883" stop-color="#00c2ff"/><stop offset="0.900" stop-color="#00d2ff"/><stop offset="0.917" stop-color="#00e6ff"/><stop offset="0.933" stop-color="#00feff"/><stop offset="0.950" stop-color="#1bffe4"/><stop offset="0.967" stop-color="#3bffc4"/><stop offset="0.983" stop-color="#5dffa2"/><stop offset="1.000" stop-color="#7fff80"/></linearGradient>
<linearGradient id="cs6" x1="0" y1="0" x2="0" y2="1"><stop offset="0.000" stop-color="#80ff80"/><stop offset="0.017" stop-color="#9eff61"/><stop offset="0.033" stop-color="#bcff43"/><stop offset="0.050" stop-color="#d9ff26"/><stop offset="0.067" stop-color="#f3ff0c"/><stop offset="0.083" stop-color="#fff500"/><stop offset="0.100" stop-color="#ffe200"/><stop offset="0.117" stop-color="#ffd300"/><stop offset="0.133" stop-color="#ffc700"/><stop offset="0.150" stop-color="#ffbe00"/><stop offset="0.167" stop-color="#ffb700"/><stop offset="0.183" stop-color="#ffb300"/><stop offset="0.200" stop-color="#ffaf00"/><stop offset="0.217" stop-color="#ffad00"/><stop offset="0.233" stop-color="#ffab00"/><stop offset="0.250" stop-color="#ffab00"/><stop offset="0.267" stop-color="#ffab00"/><stop offset="0.283" stop-color="#ffad00"/><stop offset="0.300" stop-color="#ffaf00"/><stop offset="0.317" stop-color="#ffb300"/><stop offset="0.333" stop-color="#ffb700"/><stop offset="0.350" stop-color="#ffbe00"/><stop offset="0.367" stop-color="#ffc700"/><stop offset="0.383" stop-color="#ffd300"/><stop offset="0.400" stop-color="#ffe200"/><stop offset="0.417" stop-color="#fff500"/><stop offset="0.433" stop-color="#f3ff0c"/><stop offset="0.450" stop-color="#d9ff26"/><stop offset="0.467" stop-color="#bcff43"/><stop offset="0.483" stop-color="#9eff61"/><stop offset="0.500" stop-color="#80ff80"/><stop offset="0.517" stop-color="#61ff9e"/><stop offset="0.533" stop-color="#43ffbc"/><stop offset="0.550" stop-color="#26ffd9"/><stop offset="0.567" stop-color="#0cfff3"/><stop offset="0.583" stop-color="#00f5ff"/><stop offset="0.600" stop-color="#00e2ff"/><stop offset="0.617" stop-color="#00d3ff"/><stop offset="0.633" stop-color="#00c7ff"/><stop offset="0.650" stop-color="#00beff"/><stop offset="0.667" stop-color="#00b7ff"/><stop offset="0.683" stop-color="#00b3ff"/><stop offset="0.700" stop-color="#00afff"/><stop offset="0.717" stop-color="#00adff"/><stop offset="0.733" stop-color="#00abff"/><stop offset="0.750" stop-color="#00abff"/><stop offset="0.767" stop-color="#00abff"/><stop offset="0.783" stop-color="#00adff"/><stop offset="0.800" stop-color="#00afff"/><stop offset="0.817" stop-color="#00b3ff"/><stop offset="0.833" stop-color="#00b7ff"/><stop offset="0.850" stop-color="#00beff"/><stop offset="0.867" stop-color="#00c7ff"/><stop offset="0.883" stop-color="#00d3ff"/><stop offset="0.900" stop-color="#00e2ff"/><stop offset="0.917" stop-color="#00f5ff"/><stop offset="0.933" stop-color="#0cfff3"/><stop offset="0.950" stop-color="#26ffd9"/><stop offset="0.967" stop-color="#43ffbc"/><stop offset="0.983" stop-color="#61ff9e"/><stop offset="1.000" stop-color="#7fff80"/></linearGradient>
<linearGradient id="cs7" x1="0" y1="0" x2="0" y2="1"><stop offset="0.000" stop-color="#80ff80"/><stop offset="0.017" stop-color="#9bff64"/><stop offset="0.033" stop-color="#b7ff48"/><stop offset="0.050" stop-color="#d1ff2e"/><stop offset="0.067" stop-color="#e9ff16"/><stop offset="0.083" stop-color="#feff01"/><stop offset="0.100" stop-color="#ffee00"/><stop offset="0.117" stop-color="#ffdf00"/><stop offset="0.133" stop-color="#ffd400"/><stop offset="0.150" stop-color="#ffcb00"/><stop offset="0.167" stop-color="#ffc400"/><stop offset="0.183" stop-color="#ffbf00"/><stop offset="0.200" stop-color="#ffbb00"/><stop offset="0.217" stop-color="#ffb900"/><stop offset="0.233" stop-color="#ffb700"/><stop offset="0.250" stop-color="#ffb700"/><stop offset="0.267" stop-color="#ffb700"/><stop offset="0.283" stop-color="#ffb900"/><stop offset="0.300" stop-color="#ffbb00"/><stop offset="0.317" stop-color="#ffbf00"/><stop offset="0.333" stop-color="#ffc400"/><stop offset="0.350" stop-color="#ffcb00"/><stop offset="0.367" stop-color="#ffd400"/><stop offset="0.383" stop-color="#ffdf00"/><stop offset="0.400" stop-color="#ffee00"/><stop offset="0.417" stop-color="#feff01"/><stop offset="0.433" stop-color="#e9ff16"/><stop offset="0.450" stop-color="#d1ff2e"/><stop offset="0.467" stop-color="#b7ff48"/><stop offset="0.483" stop-color="#9bff64"/><stop offset="0.500" stop-color="#80ff80"/><stop offset="0.517" stop-color="#64ff9b"/><stop offset="0.533" stop-color="#48ffb7"/><stop offset="0.550" stop-color="#2effd1"/><stop offset="0.567" stop-color="#16ffe9"/><stop offset="0.583" stop-color="#01fffe"/><stop offset="0.600" stop-color="#00eeff"/><stop offset="0.617" stop-color="#00dfff"/><stop offset="0.633" stop-color="#00d4ff"/><stop offset="0.650" stop-color="#00cbff"/><stop offset="0.667" stop-color="#00c4ff"/><stop offset="0.683" stop-color="#00bfff"/><stop offset="0.700" stop-color="#00bbff"/><stop offset="0.717" stop-color="#00b9ff"/><stop offset="0.733" stop-color="#00b7ff"/><stop offset="0.750" stop-color="#00b7ff"/><stop offset="0.767" stop-color="#00b7ff"/><stop offset="0.783" stop-color="#00b9ff"/><stop offset="0.800" stop-color="#00bbff"/><stop offset="0.817" stop-color="#00bfff"/><stop offset="0.833" stop-color="#00c4ff"/><stop offset="0.850" stop-color="#00cbff"/><stop offset="0.867" stop-color="#00d4ff"/><stop offset="0.883" stop-color="#00dfff"/><stop offset="0.900" stop-color="#00eeff"/><stop offset="0.917" stop-color="#01fffe"/><stop offset="0.933" stop-color="#16ffe9"/><stop offset="0.950" stop-color="#2effd1"/><stop offset="0.967" stop-color="#48ffb7"/><stop offset="0.983" stop-color="#64ff9b"/><stop offset="1.000" stop-color="#7fff80"/></linearGradient>
<linearGradient id="cs8" x1="0" y1="0" x2="0" y2="1"><stop offset="0.000" stop-color="#80ff80"/><stop offset="0.017" stop-color="#9aff65"/><stop offset="0.033" stop-color="#b3ff4c"/><stop offset="0.050" stop-color="#ccff33"/><stop offset="0.067" stop-color="#e3ff1c"/><stop offset="0.083" stop-color="#f7ff08"/><stop offset="0.100" stop-color="#fff600"/><stop offset="0.117" stop-color="#ffe800"/><stop offset="0.133" stop-color="#ffdc00"/><stop offset="0.150" stop-color="#ffd300"/><stop offset="0.167" stop-color="#ffcd00"/><stop offset="0.183" stop-color="#ffc700"/><stop offset="0.200" stop-color="#ffc400"/><stop offset="0.217" stop-color="#ffc100"/><stop offset="0.233" stop-color="#ffc000"/><stop offset="0.250" stop-color="#ffbf00"/><stop offset="0.267" stop-color="#ffc000"/><stop offset="0.283" stop-color="#ffc100"/><stop offset="0.300" stop-color="#ffc400"/><stop offset="0.317" stop-color="#ffc700"/><stop offset="0.333" stop-color="#ffcd00"/><stop offset="0.350" stop-color="#ffd300"/><stop offset="0.367" stop-color="#ffdc00"/><stop offset="0.383" stop-color="#ffe800"/><stop offset="0.400" stop-color="#fff600"/><stop offset="0.417" stop-color="#f7ff08"/><stop offset="0.433" stop-color="#e3ff1c"/><stop offset="0.450" stop-color="#ccff33"/><stop offset="0.467" stop-color="#b3ff4c"/><stop offset="0.483" stop-color="#9aff65"/><stop offset="0.500" stop-color="#80ff80"/><stop offset="0.517" stop-color="#65ff9a"/><stop offset="0.533" stop-color="#4cffb3"/><stop offset="0.550" stop-color="#33ffcc"/><stop offset="0.567" stop-color="#1cffe3"/><stop offset="0.583" stop-color="#08fff7"/><stop offset="0.600" stop-color="#00f6ff"/><stop offset="0.617" stop-color="#00e8ff"/><stop offset="0.633" stop-color="#00dcff"/><stop offset="0.650" stop-color="#00d3ff"/><stop offset="0.667" stop-color="#00cdff"/><stop offset="0.683" stop-color="#00c7ff"/><stop offset="0.700" stop-color="#00c4ff"/><stop offset="0.717" stop-color="#00c1ff"/><stop offset="0.733" stop-color="#00c0ff"/><stop offset="0.750" stop-color="#00bfff"/><stop offset="0.767" stop-color="#00c0ff"/><stop offset="0.783" stop-color="#00c1ff"/><stop offset="0.800" stop-color="#00c4ff"/><stop offset="0.817" stop-color="#00c7ff"/><stop offset="0.833" stop-color="#00cdff"/><stop offset="0.850" stop-color="#00d3ff"/><stop offset="0.867" stop-color="#00dcff"/><stop offset="0.883" stop-color="#00e8ff"/><stop offset="0.900" stop-color="#00f6ff"/><stop offset="0.917" stop-color="#08fff7"/><stop offset="0.933" stop-color="#1cffe3"/><stop offset="0.950" stop-color="#33ffcc"/><stop offset="0.967" stop-color="#4cffb3"/><stop offset="0.983" stop-color="#65ff9a"/><stop offset="1.000" stop-color="#7fff80"/></linearGradient>
<linearGradient id="cs9" x1="0" y1="0" x2="0" y2="1"><stop offset="0.000" stop-color="#80ff80"/><stop offset="0.017" stop-color="#99ff66"/><stop offset="0.033" stop-color="#b2ff4d"/><stop offset="0.050" stop-color="#c9ff36"/><stop offset="0.067" stop-color="#dfff20"/><stop offset="0.083" stop-color="#f3ff0c"/><stop offset="0.100" stop-color="#fffa00"/><stop offset="0.117" stop-color="#ffec00"/><stop offset="0.133" stop-color="#ffe100"/><stop offset="0.150" stop-color="#ffd800"/><stop offset="0.167" stop-color="#ffd100"/><stop offset="0.183" stop-color="#ffcc00"/><stop offset="0.200" stop-color="#ffc800"/><stop offset="0.217" stop-color="#ffc500"/><stop offset="0.233" stop-color="#ffc400"/><stop offset="0.250" stop-color="#ffc300"/><stop offset="0.267" stop-color="#ffc400"/><stop offset="0.283" stop-color="#ffc500"/><stop offset="0.300" stop-color="#ffc800"/><stop offset="0.317" stop-color="#ffcc00"/><stop offset="0.333" stop-color="#ffd100"/><stop offset="0.350" stop-color="#ffd800"/><stop offset="0.367" stop-color="#ffe100"/><stop offset="0.383" stop-color="#ffec00"/><stop offset="0.400" stop-color="#fffa00"/><stop offset="0.417" stop-color="#f3ff0c"/><stop offset="0.433" stop-color="#dfff20"/><stop offset="0.450" stop-color="#c9ff36"/><stop offset="0.467" stop-color="#b2ff4d"/><stop offset="0.483" stop-color="#99ff66"/><stop offset="0.500" stop-color="#80ff80"/><stop offset="0.517" stop-color="#66ff99"/><stop offset="0.533" stop-color="#4dffb2"/><stop offset="0.550" stop-color="#36ffc9"/><stop offset="0.567" stop-color="#20ffdf"/><stop offset="0.583" stop-color="#0cfff3"/><stop offset="0.600" stop-color="#00faff"/><stop offset="0.617" stop-color="#00ecff"/><stop offset="0.633" stop-color="#00e1ff"/><stop offset="0.650" stop-color="#00d8ff"/><stop offset="0.667" stop-color="#00d1ff"/><stop offset="0.683" stop-color="#00ccff"/><stop offset="0.700" stop-color="#00c8ff"/><stop offset="0.717" stop-color="#00c5ff"/><stop offset="0.733" stop-color="#00c4ff"/><stop offset="0.750" stop-color="#00c3ff"/><stop offset="0.767" stop-color="#00c4ff"/><stop offset="0.783" stop-color="#00c5ff"/><stop offset="0.800" stop-color="#00c8ff"/><stop offset="0.817" stop-color="#00ccff"/><stop offset="0.833" stop-color="#00d1ff"/><stop offset="0.850" stop-color="#00d8ff"/><stop offset="0.867" stop-color="#00e1ff"/><stop offset="0.883" stop-color="#00ecff"/><stop offset="0.900" stop-color="#00faff"/><stop offset="0.917" stop-color="#0cfff3"/><stop offset="0.933" stop-color="#20ffdf"/><stop offset="0.950" stop-color="#36ffc9"/><stop offset="0.967" stop-color="#4dffb2"/><stop offset="0.983" stop-color="#66ff99"/><stop offset="1.000" stop-color="#7fff80"/></linearGradient>
<linearGradient id="cs10" x1="0" y1="0" x2="0" y2="1"><stop offset="0.000" stop-color="#80ff80"/><stop offset="0.017" stop-color="#99ff66"/><stop offset="0.033" stop-color="#b2ff4d"/><stop offset="0.050" stop-color="#c9ff36"/><stop offset="0.067" stop-color="#dfff20"/><stop offset="0.083" stop-color="#f3ff0c"/><stop offset="0.100" stop-color="#fffa00"/><stop offset="0.117" stop-color="#ffec00"/><stop offset="0.133" stop-color="#ffe100"/><stop offset="0.150" stop-color="#ffd800"/><stop offset="0.167" stop-color="#ffd100"/><stop offset="0.183" stop-color="#ffcc00"/><stop offset="0.200" stop-color="#ffc800"/><stop offset="0.217" stop-color="#ffc500"/><stop offset="0.233" stop-color="#ffc400"/><stop offset="0.250" stop-color="#ffc300"/><stop offset="0.267" stop-color="#ffc400"/><stop offset="0.283" stop-color="#ffc500"/><stop offset="0.300" stop-color="#ffc800"/><stop offset="0.317" stop-color="#ffcc00"/><stop offset="0.333" stop-color="#ffd100"/><stop offset="0.350" stop-color="#ffd800"/><stop offset="0.367" stop-color="#ffe100"/><stop offset="0.383" stop-color="#ffec00"/><stop offset="0.400" stop-color="#fffa00"/><stop offset="0.417" stop-color="#f3ff0c"/><stop offset="0.433" stop-color="#dfff20"/><stop offset="0.450" stop-color="#c9ff36"/><stop offset="0.467" stop-color="#b2ff4d"/><stop offset="0.483" stop-color="#99ff66"/><stop offset="0.500" stop-color="#80ff80"/><stop offset="0.517" stop-color="#66ff99"/><stop offset="0.533" stop-color="#4dffb2"/><stop offset="0.550" stop-color="#36ffc9"/><stop offset="0.567" stop-color="#20ffdf"/><stop offset="0.583" stop-color="#0cfff3"/><stop offset="0.600" stop-color="#00faff"/><stop offset="0.617" stop-color="#00ecff"/><stop offset="0.633" stop-color="#00e1ff"/><stop offset="0.650" stop-color="#00d8ff"/><stop offset="0.667" stop-color="#00d1ff"/><stop offset="0.683" stop-color="#00ccff"/><stop offset="0.700" stop-color="#00c8ff"/><stop offset="0.717" stop-color="#00c5ff"/><stop offset="0.733" stop-color="#00c4ff"/><stop offset="0.750" stop-color="#00c3ff"/><stop offset="0.767" stop-color="#00c4ff"/><stop offset="0.783" stop-color="#00c5ff"/><stop offset="0.800" stop-color="#00c8ff"/><stop offset="0.817" stop-color="#00ccff"/><stop offset="0.833" stop-color="#00d1ff"/><stop offset="0.850" stop-color="#00d8ff"/><stop offset="0.867" stop-color="#00e1ff"/><stop offset="0.883" stop-color="#00ecff"/><stop offset="0.900" stop-color="#00faff"/><stop offset="0.917" stop-color="#0cfff3"/><stop offset="0.933" stop-color="#20ffdf"/><stop offset="0.950" stop-color="#36ffc9"/><stop offset="0.967" stop-color="#4dffb2"/><stop offset="0.983" stop-color="#66ff99"/><stop offset="1.000" stop-color="#7fff80"/></linearGradient>
<linearGradient id="cs11" x1="0" y1="0" x2="0" y2="1"><stop offset="0.000" stop-color="#80ff80"/><stop offset="0.017" stop-color="#9aff65"/><stop offset="0.033" stop-color="#b3ff4c"/><stop offset="0.050" stop-color="#ccff33"/><stop offset="0.067" stop-color="#e3ff1c"/><stop offset="0.083" stop-color="#f7ff08"/><stop offset="0.100" stop-color="#fff600"/><stop offset="0.117" stop-color="#ffe800"/><stop offset="0.133" stop-color="#ffdc00"/><stop offset="0.150" stop-color="#ffd300"/><stop offset="0.167" stop-color="#ffcd00"/><stop offset="0.183" stop-color="#ffc700"/><stop offset="0.200" stop-color="#ffc400"/><stop offset="0.217" stop-color="#ffc100"/><stop offset="0.233" stop-color="#ffc000"/><stop offset="0.250" stop-color="#ffbf00"/><stop offset="0.267" stop-color="#ffc000"/><stop offset="0.283" stop-color="#ffc100"/><stop offset="0.300" stop-color="#ffc400"/><stop offset="0.317" stop-color="#ffc700"/><stop offset="0.333" stop-color="#ffcd00"/><stop offset="0.350" stop-color="#ffd300"/><stop offset="0.367" stop-color="#ffdc00"/><stop offset="0.383" stop-color="#ffe800"/><stop offset="0.400" stop-color="#fff600"/><stop offset="0.417" stop-color="#f7ff08"/><stop offset="0.433" stop-color="#e3ff1c"/><stop offset="0.450" stop-color="#ccff33"/><stop offset="0.467" stop-color="#b3ff4c"/><stop offset="0.483" stop-color="#9aff65"/><stop offset="0.500" stop-color="#80ff80"/><stop offset="0.517" stop-color="#65ff9a"/><stop offset="0.533" stop-color="#4cffb3"/><stop offset="0.550" stop-color="#33ffcc"/><stop offset="0.567" stop-color="#1cffe3"/><stop offset="0.583" stop-color="#08fff7"/><stop offset="0.600" stop-color="#00f6ff"/><stop offset="0.617" stop-color="#00e8ff"/><stop offset="0.633" stop-color="#00dcff"/><stop offset="0.650" stop-color="#00d3ff"/><stop offset="0.667" stop-color="#00cdff"/><stop offset="0.683" stop-color="#00c7ff"/><stop offset="0.700" stop-color="#00c4ff"/><stop offset="0.717" stop-color="#00c1ff"/><stop offset="0.733" stop-color="#00c0ff"/><stop offset="0.750" stop-color="#00bfff"/><stop offset="0.767" stop-color="#00c0ff"/><stop offset="0.783" stop-color="#00c1ff"/><stop offset="0.800" stop-color="#00c4ff"/><stop offset="0.817" stop-color="#00c7ff"/><stop offset="0.833" stop-color="#00cdff"/><stop offset="0.850" stop-color="#00d3ff"/><stop offset="0.867" stop-color="#00dcff"/><stop offset="0.883" stop-color="#00e8ff"/><stop offset="0.900" stop-color="#00f6ff"/><stop offset="0.917" stop-color="#08fff7"/><stop offset="0.933" stop-color="#1cffe3"/><stop offset="0.950" stop-color="#33ffcc"/><stop offset="0.967" stop-color="#4cffb3"/><stop offset="0.983" stop-color="#65ff9a"/><stop offset="1.000" stop-color="#7fff80"/></linearGradient>
<linearGradient id="cs12" x1="0" y1="0" x2="0" y2="1"><stop offset="0.000" stop-color="#80ff80"/><stop offset="0.017" stop-color="#9bff64"/><stop offset="0.033" stop-color="#b7ff48"/><stop offset="0.050" stop-color="#d1ff2e"/><stop offset="0.067" stop-color="#e9ff16"/><stop offset="0.083" stop-color="#feff01"/><stop offset="0.100" stop-color="#ffee00"/><stop offset="0.117" stop-color="#ffdf00"/><stop offset="0.133" stop-color="#ffd400"/><stop offset="0.150" stop-color="#ffcb00"/><stop offset="0.167" stop-color="#ffc400"/><stop offset="0.183" stop-color="#ffbf00"/><stop offset="0.200" stop-color="#ffbb00"/><stop offset="0.217" stop-color="#ffb900"/><stop offset="0.233" stop-color="#ffb700"/><stop offset="0.250" stop-color="#ffb700"/><stop offset="0.267" stop-color="#ffb700"/><stop offset="0.283" stop-color="#ffb900"/><stop offset="0.300" stop-color="#ffbb00"/><stop offset="0.317" stop-color="#ffbf00"/><stop offset="0.333" stop-color="#ffc400"/><stop offset="0.350" stop-color="#ffcb00"/><stop offset="0.367" stop-color="#ffd400"/><stop offset="0.383" stop-color="#ffdf00"/><stop offset="0.400" stop-color="#ffee00"/><stop offset="0.417" stop-color="#feff01"/><stop offset="0.433" stop-color="#e9ff16"/><stop offset="0.450" stop-color="#d1ff2e"/><stop offset="0.467" stop-color="#b7ff48"/><stop offset="0.483" stop-color="#9bff64"/><stop offset="0.500" stop-color="#80ff80"/><stop offset="0.517" stop-color="#64ff9b"/><stop offset="0.533" stop-color="#48ffb7"/><stop offset="0.550" stop-color="#2effd1"/><stop offset="0.567" stop-color="#16ffe9"/><stop offset="0.583" stop-color="#01fffe"/><stop offset="0.600" stop-color="#00eeff"/><stop offset="0.617" stop-color="#00dfff"/><stop offset="0.633" stop-color="#00d4ff"/><stop offset="0.650" stop-color="#00cbff"/><stop offset="0.667" stop-color="#00c4ff"/><stop offset="0.683" stop-color="#00bfff"/><stop offset="0.700" stop-color="#00bbff"/><stop offset="0.717" stop-color="#00b9ff"/><stop offset="0.733" stop-color="#00b7ff"/><stop offset="0.750" stop-color="#00b7ff"/><stop offset="0.767" stop-color="#00b7ff"/><stop offset="0.783" stop-color="#00b9ff"/><stop offset="0.800" stop-color="#00bbff"/><stop offset="0.817" stop-color="#00bfff"/><stop offset="0.833" stop-color="#00c4ff"/><stop offset="0.850" stop-color="#00cbff"/><stop offset="0.867" stop-color="#00d4ff"/><stop offset="0.883" stop-color="#00dfff"/><stop offset="0.900" stop-color="#00eeff"/><stop offset="0.917" stop-color="#01fffe"/><stop offset="0.933" stop-color="#16ffe9"/><stop offset="0.950" stop-color="#2effd1"/><stop offset="0.967" stop-color="#48ffb7"/><stop offset="0.983" stop-color="#64ff9b"/><stop offset="1.000" stop-color="#7fff80"/></linearGradient>
<linearGradient id="cs13" x1="0" y1="0" x2="0" y2="1"><stop offset="0.000" stop-color="#80ff80"/><stop offset="0.017" stop-color="#9eff61"/><stop offset="0.033" stop-color="#bcff43"/><stop offset="0.050" stop-color="#d9ff26"/><stop offset="0.067" stop-color="#f3ff0c"/><stop offset="0.083" stop-color="#fff500"/><stop offset="0.100" stop-color="#ffe200"/><stop offset="0.117" stop-color="#ffd300"/><stop offset="0.133" stop-color="#ffc700"/><stop offset="0.150" stop-color="#ffbe00"/><stop offset="0.167" stop-color="#ffb700"/><stop offset="0.183" stop-color="#ffb300"/><stop offset="0.200" stop-color="#ffaf00"/><stop offset="0.217" stop-color="#ffad00"/><stop offset="0.233" stop-color="#ffab00"/><stop offset="0.250" stop-color="#ffab00"/><stop offset="0.267" stop-color="#ffab00"/><stop offset="0.283" stop-color="#ffad00"/><stop offset="0.300" stop-color="#ffaf00"/><stop offset="0.317" stop-color="#ffb300"/><stop offset="0.333" stop-color="#ffb700"/><stop offset="0.350" stop-color="#ffbe00"/><stop offset="0.367" stop-color="#ffc700"/><stop offset="0.383" stop-color="#ffd300"/><stop offset="0.400" stop-color="#ffe200"/><stop offset="0.417" stop-color="#fff500"/><stop offset="0.433" stop-color="#f3ff0c"/><stop offset="0.450" stop-color="#d9ff26"/><stop offset="0.467" stop-color="#bcff43"/><stop offset="0.483" stop-color="#9eff61"/><stop offset="0.500" stop-color="#80ff80"/><stop offset="0.517" stop-color="#61ff9e"/><stop offset="0.533" stop-color="#43ffbc"/><stop offset="0.550" stop-color="#26ffd9"/><stop offset="0.567" stop-color="#0cfff3"/><stop offset="0.583" stop-color="#00f5ff"/><stop offset="0.600" stop-color="#00e2ff"/><stop offset="0.617" stop-color="#00d3ff"/><stop offset="0.633" stop-color="#00c7ff"/><stop offset="0.650" stop-color="#00beff"/><stop offset="0.667" stop-color="#00b7ff"/><stop offset="0.683" stop-color="#00b3ff"/><stop offset="0.700" stop-color="#00afff"/><stop offset="0.717" stop-color="#00adff"/><stop offset="0.733" stop-color="#00abff"/><stop offset="0.750" stop-color="#00abff"/><stop offset="0.767" stop-color="#00abff"/><stop offset="0.783" stop-color="#00adff"/><stop offset="0.800" stop-color="#00afff"/><stop offset="0.817" stop-color="#00b3ff"/><stop offset="0.833" stop-color="#00b7ff"/><stop offset="0.850" stop-color="#00beff"/><stop offset="0.867" stop-color="#00c7ff"/><stop offset="0.883" stop-color="#00d3ff"/><stop offset="0.900" stop-color="#00e2ff"/><stop offset="0.917" stop-color="#00f5ff"/><stop offset="0.933" stop-color="#0cfff3"/><stop offset="0.950" stop-color="#26ffd9"/><stop offset="0.967" stop-color="#43ffbc"/><stop offset="0.983" stop-color="#61ff9e"/><stop offset="1.000" stop-color="#7fff80"/></linearGradient>
<linearGradient id="cs14" x1="0" y1="0" x2="0" y2="1"><stop offset="0.000" stop-color="#80ff80"/><stop offset="0.017" stop-color="#a2ff5d"/><stop offset="0.033" stop-color="#c4ff3b"/><stop offset="0.050" stop-color="#e4ff1b"/><stop offset="0.067" stop-color="#fffe00"/><stop offset="0.083" stop-color="#ffe600"/><stop offset="0.100" stop-color="#ffd200"/><stop offset="0.117" stop-color="#ffc200"/><stop offset="0.133" stop-color="#ffb600"/><stop offset="0.150" stop-color="#ffae00"/><stop offset="0.167" stop-color="#ffa700"/><stop offset="0.183" stop-color="#ffa200"/><stop offset="0.200" stop-color="#ff9f00"/><stop offset="0.217" stop-color="#ff9d00"/><stop offset="0.233" stop-color="#ff9c00"/><stop offset="0.250" stop-color="#ff9b00"/><stop offset="0.267" stop-color="#ff9c00"/><stop offset="0.283" stop-color="#ff9d00"/><stop offset="0.300" stop-color="#ff9f00"/><stop offset="0.317" stop-color="#ffa200"/><stop offset="0.333" stop-color="#ffa700"/><stop offset="0.350" stop-color="#ffae00"/><stop offset="0.367" stop-color="#ffb600"/><stop offset="0.383" stop-color="#ffc200"/><stop offset="0.400" stop-color="#ffd200"/><stop offset="0.417" stop-color="#ffe600"/><stop offset="0.433" stop-color="#fffe00"/><stop offset="0.450" stop-color="#e4ff1b"/><stop offset="0.467" stop-color="#c4ff3b"/><stop offset="0.483" stop-color="#a2ff5d"/><stop offset="0.500" stop-color="#80ff80"/><stop offset="0.517" stop-color="#5dffa2"/><stop offset="0.533" stop-color="#3bffc4"/><stop offset="0.550" stop-color="#1bffe4"/><stop offset="0.567" stop-color="#00feff"/><stop offset="0.583" stop-color="#00e6ff"/><stop offset="0.600" stop-color="#00d2ff"/><stop offset="0.617" stop-color="#00c2ff"/><stop offset="0.633" stop-color="#00b6ff"/><stop offset="0.650" stop-color="#00aeff"/><stop offset="0.667" stop-color="#00a7ff"/><stop offset="0.683" stop-color="#00a2ff"/><stop offset="0.700" stop-color="#009fff"/><stop offset="0.717" stop-color="#009dff"/><stop offset="0.733" stop-color="#009cff"/><stop offset="0.750" stop-color="#009bff"/><stop offset="0.767" stop-color="#009cff"/><stop offset="0.783" stop-color="#009dff"/><stop offset="0.800" stop-color="#009fff"/><stop offset="0.817" stop-color="#00a2ff"/><stop offset="0.833" stop-color="#00a7ff"/><stop offset="0.850" stop-color="#00aeff"/><stop offset="0.867" stop-color="#00b6ff"/><stop offset="0.883" stop-color="#00c2ff"/><stop offset="0.900" stop-color="#00d2ff"/><stop offset="0.917" stop-color="#00e6ff"/><stop offset="0.933" stop-color="#00feff"/><stop offset="0.950" stop-color="#1bffe4"/><stop offset="0.967" stop-color="#3bffc4"/><stop offset="0.983" stop-color="#5dffa2"/><stop offset="1.000" stop-color="#7fff80"/></linearGradient>
<linearGradient id="cs15" x1="0" y1="0" x2="0" y2="1"><stop offset="0.000" stop-color="#80ff80"/><stop offset="0.017" stop-color="#a7ff58"/><stop offset="0.033" stop-color="#ceff31"/><stop offset="0.050" stop-color="#f2ff0d"/><stop offset="0.067" stop-color="#ffec00"/><stop offset="0.083" stop-color="#ffd200"/><stop offset="0.100" stop-color="#ffbd00"/><stop offset="0.117" stop-color="#ffae00"/><stop offset="0.133" stop-color="#ffa200"/><stop offset="0.150" stop-color="#ff9900"/><stop offset="0.167" stop-color="#ff9300"/><stop offset="0.183" stop-color="#ff8f00"/><stop offset="0.200" stop-color="#ff8c00"/><stop offset="0.217" stop-color="#ff8a00"/><stop offset="0.233" stop-color="#ff8800"/><stop offset="0.250" stop-color="#ff8800"/><stop offset="0.267" stop-color="#ff8800"/><stop offset="0.283" stop-color="#ff8a00"/><stop offset="0.300" stop-color="#ff8c00"/><stop offset="0.317" stop-color="#ff8f00"/><stop offset="0.333" stop-color="#ff9300"/><stop offset="0.350" stop-color="#ff9900"/><stop offset="0.367" stop-color="#ffa200"/><stop offset="0.383" stop-color="#ffae00"/><stop offset="0.400" stop-color="#ffbd00"/><stop offset="0.417" stop-color="#ffd200"/><stop offset="0.433" stop-color="#ffec00"/><stop offset="0.450" stop-color="#f2ff0d"/><stop offset="0.467" stop-color="#ceff31"/><stop offset="0.483" stop-color="#a7ff58"/><stop offset="0.500" stop-color="#80ff80"/><stop offset="0.517" stop-color="#58ffa7"/><stop offset="0.533" stop-color="#31ffce"/><stop offset="0.550" stop-color="#0dfff2"/><stop offset="0.567" stop-color="#00ecff"/><stop offset="0.583" stop-color="#00d2ff"/><stop offset="0.600" stop-color="#00bdff"/><stop offset="0.617" stop-color="#00aeff"/><stop offset="0.633" stop-color="#00a2ff"/><stop offset="0.650" stop-color="#0099ff"/><stop offset="0.667" stop-color="#0093ff"/><stop offset="0.683" stop-color="#008fff"/><stop offset="0.700" stop-color="#008cff"/><stop offset="0.717" stop-color="#008aff"/><stop offset="0.733" stop-color="#0088ff"/><stop offset="0.750" stop-color="#0088ff"/><stop offset="0.767" stop-color="#0088ff"/><stop offset="0.783" stop-color="#008aff"/><stop offset="0.800" stop-color="#008cff"/><stop offset="0.817" stop-color="#008fff"/><stop offset="0.833" stop-color="#0093ff"/><stop offset="0.850" stop-color="#0099ff"/><stop offset="0.867" stop-color="#00a2ff"/><stop offset="0.883" stop-color="#00aeff"/><stop offset="0.900" stop-color="#00bdff"/><stop offset="0.917" stop-color="#00d2ff"/><stop offset="0.933" stop-color="#00ecff"/><stop offset="0.950" stop-color="#0dfff2"/><stop offset="0.967" stop-color="#31ffce"/><stop offset="0.983" stop-color="#58ffa7"/><stop offset="1.000" stop-color="#7fff80"/></linearGradient>
<linearGradient id="cs16" x1="0" y1="0" x2="0" y2="1"><stop offset="0.000" stop-color="#80ff80"/><stop offset="0.017" stop-color="#aeff51"/><stop offset="0.033" stop-color="#dbff24"/><stop offset="0.050" stop-color="#fffa00"/><stop offset="0.067" stop-color="#ffd700"/><stop offset="0.083" stop-color="#ffba00"/><stop offset="0.100" stop-color="#ffa500"/><stop offset="0.117" stop-color="#ff9500"/><stop offset="0.133" stop-color="#ff8a00"/><stop offset="0.150" stop-color="#ff8200"/><stop offset="0.167" stop-color="#ff7c00"/><stop offset="0.183" stop-color="#ff7800"/><stop offset="0.200" stop-color="#ff7500"/><stop offset="0.217" stop-color="#ff7300"/><stop offset="0.233" stop-color="#ff7200"/><stop offset="0.250" stop-color="#ff7200"/><stop offset="0.267" stop-color="#ff7200"/><stop offset="0.283" stop-color="#ff7300"/><stop offset="0.300" stop-color="#ff7500"/><stop offset="0.317" stop-color="#ff7800"/><stop offset="0.333" stop-color="#ff7c00"/><stop offset="0.350" stop-color="#ff8200"/><stop offset="0.367" stop-color="#ff8a00"/><stop offset="0.383" stop-color="#ff9500"/><stop offset="0.400" stop-color="#ffa500"/><stop offset="0.417" stop-color="#ffba00"/><stop offset="0.433" stop-color="#ffd700"/><stop offset="0.450" stop-color="#fffa00"/><stop offset="0.467" stop-color="#dbff24"/><stop offset="0.483" stop-color="#aeff51"/><stop offset="0.500" stop-color="#80ff80"/><stop offset="0.517" stop-color="#51ffae"/><stop offset="0.533" stop-color="#24ffdb"/><stop offset="0.550" stop-color="#00faff"/><stop offset="0.567" stop-color="#00d7ff"/><stop offset="0.583" stop-color="#00baff"/><stop offset="0.600" stop-color="#00a5ff"/><stop offset="0.617" stop-color="#0095ff"/><stop offset="0.633" stop-color="#008aff"/><stop offset="0.650" stop-color="#0082ff"/><stop offset="0.667" stop-color="#007cff"/><stop offset="0.683" stop-color="#0078ff"/><stop offset="0.700" stop-color="#0075ff"/><stop offset="0.717" stop-color="#0073ff"/><stop offset="0.733" stop-color="#0072ff"/><stop offset="0.750" stop-color="#0072ff"/><stop offset="0.767" stop-color="#0072ff"/><stop offset="0.783" stop-color="#0073ff"/><stop offset="0.800" stop-color="#0075ff"/><stop offset="0.817" stop-color="#0078ff"/><stop offset="0.833" stop-color="#007cff"/><stop offset="0.850" stop-color="#0082ff"/><stop offset="0.867" stop-color="#008aff"/><stop offset="0.883" stop-color="#0095ff"/><stop offset="0.900" stop-color="#00a5ff"/><stop offset="0.917" stop-color="#00baff"/><stop offset="0.933" stop-color="#00d7ff"/><stop offset="0.950" stop-color="#00faff"/><stop offset="0.967" stop-color="#24ffdb"/><stop offset="0.983" stop-color="#51ffae"/><stop offset="1.000" stop-color="#7fff80"/></linearGradient>
<linearGradient id="cs17" x1="0" y1="0" x2="0" y2="1"><stop offset="0.000" stop-color="#80ff80"/><stop offset="0.017" stop-color="#b6ff49"/><stop offset="0.033" stop-color="#ebff14"/><stop offset="0.050" stop-color="#ffe400"/><stop offset="0.067" stop-color="#ffbd00"/><stop offset="0.083" stop-color="#ff9f00"/><stop offset="0.100" stop-color="#ff8900"/><stop offset="0.117" stop-color="#ff7900"/><stop offset="0.133" stop-color="#ff6f00"/><stop offset="0.150" stop-color="#ff6700"/><stop offset="0.167" stop-color="#ff6200"/><stop offset="0.183" stop-color="#ff5f00"/><stop offset="0.200" stop-color="#ff5c00"/><stop offset="0.217" stop-color="#ff5b00"/><stop offset="0.233" stop-color="#ff5a00"/><stop offset="0.250" stop-color="#ff5900"/><stop offset="0.267" stop-color="#ff5a00"/><stop offset="0.283" stop-color="#ff5b00"/><stop offset="0.300" stop-color="#ff5c00"/><stop offset="0.317" stop-color="#ff5f00"/><stop offset="0.333" stop-color="#ff6200"/><stop offset="0.350" stop-color="#ff6700"/><stop offset="0.367" stop-color="#ff6f00"/><stop offset="0.383" stop-color="#ff7900"/><stop offset="0.400" stop-color="#ff8900"/><stop offset="0.417" stop-color="#ff9f00"/><stop offset="0.433" stop-color="#ffbd00"/><stop offset="0.450" stop-color="#ffe400"/><stop offset="0.467" stop-color="#ebff14"/><stop offset="0.483" stop-color="#b6ff49"/><stop offset="0.500" stop-color="#80ff7f"/><stop offset="0.517" stop-color="#49ffb6"/><stop offset="0.533" stop-color="#14ffeb"/><stop offset="0.550" stop-color="#00e4ff"/><stop offset="0.567" stop-color="#00bdff"/><stop offset="0.583" stop-color="#009fff"/><stop offset="0.600" stop-color="#0089ff"/><stop offset="0.617" stop-color="#0079ff"/><stop offset="0.633" stop-color="#006fff"/><stop offset="0.650" stop-color="#0067ff"/><stop offset="0.667" stop-color="#0062ff"/><stop offset="0.683" stop-color="#005fff"/><stop offset="0.700" stop-color="#005cff"/><stop offset="0.717" stop-color="#005bff"/><stop offset="0.733" stop-color="#005aff"/><stop offset="0.750" stop-color="#0059ff"/><stop offset="0.767" stop-color="#005aff"/><stop offset="0.783" stop-color="#005bff"/><stop offset="0.800" stop-color="#005cff"/><stop offset="0.817" stop-color="#005fff"/><stop offset="0.833" stop-color="#0062ff"/><stop offset="0.850" stop-color="#0067ff"/><stop offset="0.867" stop-color="#006fff"/><stop offset="0.883" stop-color="#0079ff"/><stop offset="0.900" stop-color="#0089ff"/><stop offset="0.917" stop-color="#009fff"/><stop offset="0.933" stop-color="#00bdff"/><stop offset="0.950" stop-color="#00e4ff"/><stop offset="0.967" stop-color="#14ffeb"/><stop offset="0.983" stop-color="#49ffb6"/><stop offset="1.000" stop-color="#7fff80"/></linearGradient>
<linearGradient id="cs18" x1="0" y1="0" x2="0" y2="1"><stop offset="0.000" stop-color="#80ff80"/><stop offset="0.017" stop-color="#c0ff3f"/><stop offset="0.033" stop-color="#feff01"/><stop offset="0.050" stop-color="#ffc900"/><stop offset="0.067" stop-color="#ff9e00"/><stop offset="0.083" stop-color="#ff7f00"/><stop offset="0.100" stop-color="#ff6900"/><stop offset="0.117" stop-color="#ff5b00"/><stop offset="0.133" stop-color="#ff5100"/><stop offset="0.150" stop-color="#ff4a00"/><stop offset="0.167" stop-color="#ff4600"/><stop offset="0.183" stop-color="#ff4300"/><stop offset="0.200" stop-color="#ff4100"/><stop offset="0.217" stop-color="#ff3f00"/><stop offset="0.233" stop-color="#ff3f00"/><stop offset="0.250" stop-color="#ff3e00"/><stop offset="0.267" stop-color="#ff3f00"/><stop offset="0.283" stop-color="#ff3f00"/><stop offset="0.300" stop-color="#ff4100"/><stop offset="0.317" stop-color="#ff4300"/><stop offset="0.333" stop-color="#ff4600"/><stop offset="0.350" stop-color="#ff4a00"/><stop offset="0.367" stop-color="#ff5100"/><stop offset="0.383" stop-color="#ff5b00"/><stop offset="0.400" stop-color="#ff6900"/><stop offset="0.417" stop-color="#ff7f00"/><stop offset="0.433" stop-color="#ff9e00"/><stop offset="0.450" stop-color="#ffc900"/><stop offset="0.467" stop-color="#feff01"/><stop offset="0.483" stop-color="#c0ff3f"/><stop offset="0.500" stop-color="#80ff7f"/><stop offset="0.517" stop-color="#3fffc0"/><stop offset="0.533" stop-color="#01fffe"/><stop offset="0.550" stop-color="#00c9ff"/><stop offset="0.567" stop-color="#009eff"/><stop offset="0.583" stop-color="#007fff"/><stop offset="0.600" stop-color="#0069ff"/><stop offset="0.617" stop-color="#005bff"/><stop offset="0.633" stop-color="#0051ff"/><stop offset="0.650" stop-color="#004aff"/><stop offset="0.667" stop-color="#0046ff"/><stop offset="0.683" stop-color="#0043ff"/><stop offset="0.700" stop-color="#0041ff"/><stop offset="0.717" stop-color="#003fff"/><stop offset="0.733" stop-color="#003fff"/><stop offset="0.750" stop-color="#003eff"/><stop offset="0.767" stop-color="#003fff"/><stop offset="0.783" stop-color="#003fff"/><stop offset="0.800" stop-color="#0041ff"/><stop offset="0.817" stop-color="#0043ff"/><stop offset="0.833" stop-color="#0046ff"/><stop offset="0.850" stop-color="#004aff"/><stop offset="0.867" stop-color="#0051ff"/><stop offset="0.883" stop-color="#005bff"/><stop offset="0.900" stop-color="#0069ff"/><stop offset="0.917" stop-color="#007fff"/><stop offset="0.933" stop-color="#009eff"/><stop offset="0.950" stop-color="#00c9ff"/><stop offset="0.967" stop-color="#01fffe"/><stop offset="0.983" stop-color="#3fffc0"/><stop offset="1.000" stop-color="#7fff80"/></linearGradient>
<linearGradient id="cs19" x1="0" y1="0" x2="0" y2="1"><stop offset="0.000" stop-color="#80ff80"/><stop offset="0.017" stop-color="#cdff32"/><stop offset="0.033" stop-color="#ffe800"/><stop offset="0.050" stop-color="#ffaa00"/><stop offset="0.067" stop-color="#ff7b00"/><stop offset="0.083" stop-color="#ff5b00"/><stop offset="0.100" stop-color="#ff4700"/><stop offset="0.117" stop-color="#ff3900"/><stop offset="0.133" stop-color="#ff3100"/><stop offset="0.150" stop-color="#ff2b00"/><stop offset="0.167" stop-color="#ff2700"/><stop offset="0.183" stop-color="#ff2400"/><stop offset="0.200" stop-color="#ff2300"/><stop offset="0.217" stop-color="#ff2200"/><stop offset="0.233" stop-color="#ff2100"/><stop offset="0.250" stop-color="#ff2100"/><stop offset="0.267" stop-color="#ff2100"/><stop offset="0.283" stop-color="#ff2200"/><stop offset="0.300" stop-color="#ff2300"/><stop offset="0.317" stop-color="#ff2400"/><stop offset="0.333" stop-color="#ff2700"/><stop offset="0.350" stop-color="#ff2b00"/><stop offset="0.367" stop-color="#ff3100"/><stop offset="0.383" stop-color="#ff3900"/><stop offset="0.400" stop-color="#ff4700"/><stop offset="0.417" stop-color="#ff5b00"/><stop offset="0.433" stop-color="#ff7b00"/><stop offset="0.450" stop-color="#ffaa00"/><stop offset="0.467" stop-color="#ffe800"/><stop offset="0.483" stop-color="#cdff32"/><stop offset="0.500" stop-color="#80ff7f"/><stop offset="0.517" stop-color="#32ffcd"/><stop offset="0.533" stop-color="#00e8ff"/><stop offset="0.550" stop-color="#00aaff"/><stop offset="0.567" stop-color="#007bff"/><stop offset="0.583" stop-color="#005bff"/><stop offset="0.600" stop-color="#0047ff"/><stop offset="0.617" stop-color="#0039ff"/><stop offset="0.633" stop-color="#0031ff"/><stop offset="0.650" stop-color="#002bff"/><stop offset="0.667" stop-color="#0027ff"/><stop offset="0.683" stop-color="#0024ff"/><stop offset="0.700" stop-color="#0023ff"/><stop offset="0.717" stop-color="#0022ff"/><stop offset="0.733" stop-color="#0021ff"/><stop offset="0.750" stop-color="#0021ff"/><stop offset="0.767" stop-color="#0021ff"/><stop offset="0.783" stop-color="#0022ff"/><stop offset="0.800" stop-color="#0023ff"/><stop offset="0.817" stop-color="#0024ff"/><stop offset="0.833" stop-color="#0027ff"/><stop offset="0.850" stop-color="#002bff"/><stop offset="0.867" stop-color="#0031ff"/><stop offset="0.883" stop-color="#0039ff"/><stop offset="0.900" stop-color="#0047ff"/><stop offset="0.917" stop-color="#005bff"/><stop offset="0.933" stop-color="#007bff"/><stop offset="0.950" stop-color="#00aaff"/><stop offset="0.967" stop-color="#00e8ff"/><stop offset="0.983" stop-color="#32ffcd"/><stop offset="1.000" stop-color="#7fff80"/></linearGradient>
<pattern id="cpat" patternUnits="userSpaceOnUse" width="20" height="50.0" x="0" y="0"><rect x="0" y="0" width="1" height="50.0" fill="url(#cs0)"/><rect x="1" y="0" width="1" height="50.0" fill="url(#cs1)"/><rect x="2" y="0" width="1" height="50.0" fill="url(#cs2)"/><rect x="3" y="0" width="1" height="50.0" fill="url(#cs3)"/><rect x="4" y="0" width="1" height="50.0" fill="url(#cs4)"/><rect x="5" y="0" width="1" height="50.0" fill="url(#cs5)"/><rect x="6" y="0" width="1" height="50.0" fill="url(#cs6)"/><rect x="7" y="0" width="1" height="50.0" fill="url(#cs7)"/><rect x="8" y="0" width="1" height="50.0" fill="url(#cs8)"/><rect x="9" y="0" width="1" height="50.0" fill="url(#cs9)"/><rect x="10" y="0" width="1" height="50.0" fill="url(#cs10)"/><rect x="11" y="0" width="1" height="50.0" fill="url(#cs11)"/><rect x="12" y="0" width="1" height="50.0" fill="url(#cs12)"/><rect x="13" y="0" width="1" height="50.0" fill="url(#cs13)"/><rect x="14" y="0" width="1" height="50.0" fill="url(#cs14)"/><rect x="15" y="0" width="1" height="50.0" fill="url(#cs15)"/><rect x="16" y="0" width="1" height="50.0" fill="url(#cs16)"/><rect x="17" y="0" width="1" height="50.0" fill="url(#cs17)"/><rect x="18" y="0" width="1" height="50.0" fill="url(#cs18)"/><rect x="19" y="0" width="1" height="50.0" fill="url(#cs19)"/></pattern>
</defs>
<linearGradient id="cbg" x1="0" y1="0" x2="0" y2="1"><stop offset="0.0000" stop-color="#85ff7a"/><stop offset="0.0167" stop-color="#81ff7e"/><stop offset="0.0333" stop-color="#7cff83"/><stop offset="0.0500" stop-color="#78ff87"/><stop offset="0.0667" stop-color="#76ff89"/><stop offset="0.0833" stop-color="#75ff8a"/><stop offset="0.1000" stop-color="#77ff88"/><stop offset="0.1167" stop-color="#7bff84"/><stop offset="0.1333" stop-color="#80ff7f"/><stop offset="0.1500" stop-color="#84ff7b"/><stop offset="0.1667" stop-color="#88ff77"/><stop offset="0.1833" stop-color="#8aff75"/><stop offset="0.2000" stop-color="#89ff76"/><stop offset="0.2167" stop-color="#87ff78"/><stop offset="0.2333" stop-color="#83ff7c"/><stop offset="0.2500" stop-color="#7eff81"/><stop offset="0.2667" stop-color="#7aff85"/><stop offset="0.2833" stop-color="#77ff88"/><stop offset="0.3000" stop-color="#75ff8a"/><stop offset="0.3167" stop-color="#76ff89"/><stop offset="0.3333" stop-color="#79ff86"/><stop offset="0.3500" stop-color="#7dff82"/><stop offset="0.3667" stop-color="#82ff7d"/><stop offset="0.3833" stop-color="#86ff79"/><stop offset="0.4000" stop-color="#89ff76"/><stop offset="0.4167" stop-color="#8aff75"/><stop offset="0.4333" stop-color="#88ff77"/><stop offset="0.4500" stop-color="#85ff7a"/><stop offset="0.4667" stop-color="#80ff7f"/><stop offset="0.4833" stop-color="#7cff83"/><stop offset="0.5000" stop-color="#78ff87"/><stop offset="0.5167" stop-color="#76ff89"/><stop offset="0.5333" stop-color="#75ff8a"/><stop offset="0.5500" stop-color="#77ff88"/><stop offset="0.5667" stop-color="#7bff84"/><stop offset="0.5833" stop-color="#80ff7f"/><stop offset="0.6000" stop-color="#84ff7b"/><stop offset="0.6167" stop-color="#88ff77"/><stop offset="0.6333" stop-color="#8aff75"/><stop offset="0.6500" stop-color="#89ff76"/><stop offset="0.6667" stop-color="#87ff78"/><stop offset="0.6833" stop-color="#83ff7c"/><stop offset="0.7000" stop-color="#7eff81"/><stop offset="0.7167" stop-color="#7aff85"/><stop offset="0.7333" stop-color="#77ff88"/><stop offset="0.7500" stop-color="#75ff8a"/><stop offset="0.7667" stop-color="#76ff89"/><stop offset="0.7833" stop-color="#79ff86"/><stop offset="0.8000" stop-color="#7dff82"/><stop offset="0.8167" stop-color="#82ff7d"/><stop offset="0.8333" stop-color="#86ff79"/><stop offset="0.8500" stop-color="#89ff76"/><stop offset="0.8667" stop-color="#8aff75"/><stop offset="0.8833" stop-color="#88ff77"/><stop offset="0.9000" stop-color="#85ff7a"/><stop offset="0.9167" stop-color="#80ff7f"/><stop offset="0.9333" stop-color="#7cff83"/><stop offset="0.9500" stop-color="#78ff87"/><stop offset="0.9667" stop-color="#76ff89"/><stop offset="0.9833" stop-color="#76ff89"/><stop offset="1.0000" stop-color="#77ff88"/></linearGradient>
<rect x="53.0" y="260.0" width="214.7" height="222.3" fill="url(#cbg)"/>
<g transform="translate(97,292.0)"><rect x="0" y="-32.0" width="20" height="222.3" fill="url(#cpat)"/></g>
<g transform="translate(204,292.0)"><rect x="0" y="-32.0" width="20" height="222.3" fill="url(#cpat)"/></g>
<path d="M53.0 260.0 V482.3 H267.7 V260.0" fill="none" stroke="#222" stroke-width="1.1"/>
<rect x="283.3" y="260.2" width="20" height="223.3" fill="url(#cb)"/>
<path d="M283.3 260.2 V483.5 H303.3" fill="none" stroke="#111" stroke-width="1"/>
<path d="M283.3 316.0 h2 M303.3 316.0 h-2 M283.3 344.0 h2 M303.3 344.0 h-2 M283.3 371.9 h2 M303.3 371.9 h-2 M283.3 399.8 h2 M303.3 399.8 h-2 M283.3 427.7 h2 M303.3 427.7 h-2 " stroke="#222" stroke-width="1"/>
<rect x="397.6" y="260.0" width="212.19999999999993" height="222.39999999999998" fill="url(#dband)"/>
<rect x="445" y="260.0" width="1" height="222.40" fill="url(#ds0)"/>
<rect x="446" y="260.0" width="1" height="222.40" fill="url(#ds1)"/>
<rect x="447" y="260.0" width="1" height="222.40" fill="url(#ds2)"/>
<rect x="448" y="260.0" width="1" height="222.40" fill="url(#ds3)"/>
<rect x="449" y="260.0" width="1" height="222.40" fill="url(#ds4)"/>
<rect x="450" y="260.0" width="1" height="222.40" fill="url(#ds5)"/>
<rect x="451" y="260.0" width="1" height="222.40" fill="url(#ds6)"/>
<rect x="452" y="260.0" width="1" height="222.40" fill="url(#ds7)"/>
<rect x="453" y="260.0" width="1" height="222.40" fill="url(#ds8)"/>
<rect x="454" y="260.0" width="1" height="222.40" fill="url(#ds9)"/>
<rect x="455" y="260.0" width="1" height="222.40" fill="url(#ds10)"/>
<rect x="456" y="260.0" width="1" height="222.40" fill="url(#ds11)"/>
<rect x="457" y="260.0" width="1" height="222.40" fill="url(#ds12)"/>
<rect x="458" y="260.0" width="1" height="222.40" fill="url(#ds13)"/>
<rect x="459" y="260.0" width="1" height="222.40" fill="url(#ds14)"/>
<rect x="460" y="260.0" width="1" height="222.40" fill="url(#ds15)"/>
<rect x="461" y="260.0" width="1" height="222.40" fill="url(#ds16)"/>
<rect x="551" y="260.0" width="1" height="222.40" fill="url(#ds0)"/>
<rect x="552" y="260.0" width="1" height="222.40" fill="url(#ds1)"/>
<rect x="553" y="260.0" width="1" height="222.40" fill="url(#ds2)"/>
<rect x="554" y="260.0" width="1" height="222.40" fill="url(#ds3)"/>
<rect x="555" y="260.0" width="1" height="222.40" fill="url(#ds4)"/>
<rect x="556" y="260.0" width="1" height="222.40" fill="url(#ds5)"/>
<rect x="557" y="260.0" width="1" height="222.40" fill="url(#ds6)"/>
<rect x="558" y="260.0" width="1" height="222.40" fill="url(#ds7)"/>
<rect x="559" y="260.0" width="1" height="222.40" fill="url(#ds8)"/>
<rect x="560" y="260.0" width="1" height="222.40" fill="url(#ds9)"/>
<rect x="561" y="260.0" width="1" height="222.40" fill="url(#ds10)"/>
<rect x="562" y="260.0" width="1" height="222.40" fill="url(#ds11)"/>
<rect x="563" y="260.0" width="1" height="222.40" fill="url(#ds12)"/>
<rect x="564" y="260.0" width="1" height="222.40" fill="url(#ds13)"/>
<rect x="565" y="260.0" width="1" height="222.40" fill="url(#ds14)"/>
<rect x="566" y="260.0" width="1" height="222.40" fill="url(#ds15)"/>
<rect x="567" y="260.0" width="1" height="222.40" fill="url(#ds16)"/>
<path d="M397.6 260.0 V482.4 H609.8" fill="none" stroke="#222" stroke-width="1.1"/>
<rect x="625.3" y="260.1" width="19.8" height="223.4" fill="url(#cb)"/>
<path d="M625.3 260.1 V483.5 H645.1" fill="none" stroke="#111" stroke-width="1"/>
<path d="M625.3 315.9 h2 M645.1 315.9 h-2 M625.3 371.8 h2 M645.1 371.8 h-2 M625.3 427.6 h2 M645.1 427.6 h-2 " stroke="#222" stroke-width="1"/>
<path d="M391.00 207.7 V202.7 M416.25 207.7 V204.2 M441.50 207.7 V202.7 M466.75 207.7 V204.2 M492.00 207.7 V202.7 M517.25 207.7 V204.2 M542.50 207.7 V202.7 M567.75 207.7 V204.2 M593.00 207.7 V202.7 M618.25 207.7 V204.2 M643.50 207.7 V202.7 M391.0 207.70 H396.0 M391.0 173.68 H394.5 M391.0 139.67 H396.0 M391.0 105.65 H394.5 M391.0 71.63 H396.0 M391.0 37.62 H394.5 M391.0 3.60 H396.0 " stroke="#000" stroke-width="1.4" fill="none"/>
<polyline points="427.0,207.6 430.7,197.2 434.5,186.5 437.8,176.2 441.1,165.8 445.2,154.5 449.2,144.0 453.1,134.7 456.8,125.9 461.2,117.1 466.3,107.5 471.2,99.3 477.4,89.4 484.0,79.8 490.7,72.4 498.1,65.8 504.7,60.8 511.8,55.4 521.8,48.8 530.0,44.1 540.9,38.6 553.6,34.6 566.4,31.0 580.9,28.6 595.5,26.5 610.0,24.5 628.2,23.7 643.0,23.5" fill="none" stroke="#f00" stroke-width="2.4" stroke-linejoin="round"/>
<line x1="414.1" y1="207.7" x2="449.4" y2="3.6" stroke="#00f" stroke-width="2.4"/>
<line x1="411.8" y1="207.7" x2="442.7" y2="3.6" stroke="#000" stroke-width="1.5" stroke-dasharray="6 3.4"/>
<rect x="391.0" y="3.6" width="252.5" height="204.1" fill="none" stroke="#000" stroke-width="1.5"/>
<line x1="500" y1="118.3" x2="531" y2="118.3" stroke="#00f" stroke-width="2"/>
<line x1="500" y1="132.5" x2="531" y2="132.5" stroke="#f00" stroke-width="2"/>
<polygon points="64.7,74.3 214.7,35.5 311.0,66.5 154.5,142.0" fill="#c4edf0"/>
<polygon points="154.5,142.0 311.0,66.5 303.7,105.4 156.2,189.1" fill="#c8f0f3"/>
<polygon points="64.7,74.3 154.5,142.0 156.2,189.1 70.9,115.5" fill="#c1eaed"/>
<polygon points="70.4,77.4 216.5,38.9 216.5,68.0 77.0,117.3" fill="#78997f"/>
<polygon points="70.4,77.4 103.0,103.0 74.3,110.6" fill="#8fb29a"/>
<polygon points="74.2,110.5 110.0,102.5 216.5,66.5 216.5,68.0 77.0,117.3" fill="#8ec596"/>
<polygon points="211.5,37.2 216.5,36.3 216.5,67.5 211.5,69.0" fill="#88ab98"/>
<polygon points="64.7,74.0 215.5,35.3 216.5,38.9 70.4,77.4" fill="#4cb84c"/>
<polygon points="64.7,74.0 70.4,77.4 77.0,117.3 72.5,116.2" fill="#52ac52"/>
<polygon points="102.1,84.3 148.2,72.6 148.2,75.7 107.3,87.2" fill="#8fa276"/>
<polygon points="155.0,57.8 166.8,55.0 166.8,72.5 155.0,76.5" fill="#c6ca66"/>
<polygon points="147.6,55.8 155.0,57.8 155.0,76.5 147.6,78.5" fill="#dde25c"/>
<polygon points="147.6,55.8 160.5,52.6 166.8,55.0 155.0,57.8" fill="#eef062"/>
<polygon points="114.0,91.3 201.2,63.5 201.2,81.8 114.5,110.4" fill="#c9cc66"/>
<polygon points="107.3,87.2 114.0,91.3 114.5,110.4 108.5,107.0" fill="#e9ed5a"/>
<polygon points="107.3,87.2 147.6,75.6 155.0,76.5 166.8,69.8 197.5,60.4 201.2,63.5 114.0,91.3" fill="#f2f262"/>
<line x1="61.0" y1="57.0" x2="64.7" y2="74.3" stroke="#000" stroke-width="1.4"/>
<line x1="206.3" y1="18.7" x2="210.0" y2="35.0" stroke="#000" stroke-width="1.4"/>
<line x1="71.2" y1="65.1" x2="203.2" y2="30.2" stroke="#000" stroke-width="1.5"/><polygon points="208.6,28.8 202.6,33.7 201.0,27.5" fill="#000"/><polygon points="65.8,66.5 71.8,61.6 73.4,67.8" fill="#000"/>
<line x1="51.5" y1="79.8" x2="64.7" y2="75.0" stroke="#000" stroke-width="1.4"/>
<line x1="60.0" y1="119.0" x2="74.5" y2="115.5" stroke="#000" stroke-width="1.4"/>
<line x1="57.3" y1="85.1" x2="62.3" y2="111.0" stroke="#000" stroke-width="1.5"/><polygon points="63.4,116.5 58.9,110.2 65.2,109.0" fill="#000"/><polygon points="56.2,79.6 60.7,85.9 54.4,87.1" fill="#000"/>
<line x1="64.2" y1="82.6" x2="143.4" y2="139.1" stroke="#000" stroke-width="1.5"/><polygon points="148.0,142.3 140.4,140.8 144.2,135.6" fill="#000"/><polygon points="59.6,79.4 67.2,80.9 63.4,86.1" fill="#000"/>
<line x1="140.4" y1="147.5" x2="153.2" y2="141.0" stroke="#000" stroke-width="1.4"/>
<line x1="124.0" y1="112.3" x2="198.3" y2="85.2" stroke="#000" stroke-width="1.5"/><polygon points="203.6,83.3 198.1,88.7 195.9,82.7" fill="#000"/><polygon points="118.7,114.2 124.2,108.8 126.4,114.8" fill="#000"/>
<line x1="113.5" y1="112.0" x2="121.0" y2="117.0" stroke="#000" stroke-width="1.0"/>
<line x1="200.3" y1="80.0" x2="208.0" y2="84.4" stroke="#000" stroke-width="1.0"/>
<line x1="204.4" y1="68.7" x2="204.8" y2="77.8" stroke="#000" stroke-width="1"/><polygon points="205.0,81.0 202.8,77.1 206.8,76.9" fill="#000"/><polygon points="204.2,65.5 206.4,69.4 202.4,69.6" fill="#000"/>
<line x1="200.8" y1="64.2" x2="208.3" y2="68.3" stroke="#000" stroke-width="1.0"/>
<line x1="134.2" y1="67.8" x2="147.3" y2="64.8" stroke="#000" stroke-width="1.5"/><polygon points="152.8,63.6 146.7,68.3 145.3,62.0" fill="#000"/>
<line x1="185.7" y1="55.1" x2="173.0" y2="58.4" stroke="#000" stroke-width="1.5"/><polygon points="167.6,59.8 173.6,54.9 175.2,61.1" fill="#000"/>
<text transform="translate(138.70,35.00) rotate(-14.8)" x="-14.29" y="4.31" style='font-family:"Liberation Sans";font-size:26px;' fill="#000" stroke="#000">ay</text>
<text x="154.07" y="73.60" style='font-family:"Liberation Sans";font-size:26px;' fill="#000" stroke="#000" >v</text>
<text x="211.00" y="85.00" style='font-family:"Liberation Sans";font-size:25.5px;' fill="#000" stroke="#000" >w</text>
<text x="25.57" y="108.05" style='font-family:"Liberation Sans";font-size:26px;letter-spacing:2.11px;' fill="#000" stroke="#000" >az</text>
<text transform="translate(92.50,118.50) rotate(35.4)" x="-14.17" y="6.88" style='font-family:"Liberation Sans";font-size:26px;' fill="#000" stroke="#000">ax</text>
<text transform="translate(169.00,111.00) rotate(-14)" x="-7.06" y="9.06" style='font-family:"Liberation Sans";font-size:25px;' fill="#000" stroke="#000">h</text>
<text transform="translate(273.50,108.00) rotate(-20)" x="-14.23" y="8.94" style='font-family:"Liberation Sans";font-size:25px;' fill="#000" stroke="#000">air</text>
<line x1="29.8" y1="171.2" x2="23.9" y2="132.6" stroke="#000" stroke-width="2.0"/>
<polygon points="22.4,123.0 31.1,134.8 17.7,136.9" fill="#000"/>
<line x1="29.8" y1="171.2" x2="65.8" y2="155.8" stroke="#000" stroke-width="2.0"/>
<polygon points="74.8,152.0 65.5,163.4 60.2,150.8" fill="#000"/>
<line x1="29.8" y1="171.2" x2="56.5" y2="193.3" stroke="#000" stroke-width="2.0"/>
<polygon points="63.2,198.8 48.8,195.8 57.5,185.3" fill="#000"/>
<text x="33.80" y="134.50" style='font-family:"Liberation Sans";font-size:24px;' fill="#10e040" stroke="#10e040" >z</text>
<text x="76.10" y="154.60" style='font-family:"Liberation Sans";font-size:24px;' fill="#f00" stroke="#f00" >y</text>
<text x="65.95" y="199.30" style='font-family:"Liberation Sans";font-size:24px;' fill="#00f" stroke="#00f" >x</text>
<rect x="222.9" y="163.9" width="27.8" height="8.1" fill="#4cb84c"/>
<rect x="222.9" y="189.4" width="27.8" height="7.9" fill="#f8f860"/>
<text x="253.95" y="177.10" style='font-family:"Liberation Sans";font-size:21.5px;letter-spacing:2.26px;' fill="#000" stroke="#000" >FR4</text>
<text x="253.80" y="203.15" style='font-family:"Liberation Sans";font-size:21.5px;letter-spacing:2.67px;' fill="#000" stroke="#000" >Cu</text>
<text x="-1.38" y="16.15" style='font-family:"Liberation Sans";font-size:23px;letter-spacing:1.44px;' fill="#000" stroke="#000" >(a)</text>
<text x="330.52" y="16.95" style='font-family:"Liberation Sans";font-size:23px;letter-spacing:1.49px;' fill="#000" stroke="#000" >(b)</text>
<text x="-0.88" y="271.15" style='font-family:"Liberation Sans";font-size:23px;letter-spacing:-0.02px;' fill="#000" stroke="#000" >(c)</text>
<text x="338.62" y="269.25" style='font-family:"Liberation Sans";font-size:23px;letter-spacing:0.69px;' fill="#000" stroke="#000" >(d)</text>
<text x="368.68" y="13.97" style='font-family:"Liberation Sans";font-size:16px;letter-spacing:0.38px;' fill="#000" stroke="#000" >10</text><rect x="369.16" y="12.13" width="3.41" height="3.84" fill="#fff"/><rect x="374.23" y="12.13" width="3.41" height="3.84" fill="#fff"/>
<text x="378.38" y="79.17" style='font-family:"Liberation Sans";font-size:16px;' fill="#000" stroke="#000" >8</text>
<text x="377.85" y="148.47" style='font-family:"Liberation Sans";font-size:16px;' fill="#000" stroke="#000" >6</text>
<text x="378.12" y="214.50" style='font-family:"Liberation Sans";font-size:16px;' fill="#000" stroke="#000" >4</text>
<text x="384.18" y="226.47" style='font-family:"Liberation Sans";font-size:16px;' fill="#000" stroke="#000" >0</text>
<text x="425.48" y="226.57" style='font-family:"Liberation Sans";font-size:16px;letter-spacing:1.53px;' fill="#000" stroke="#000" >0.2</text>
<text x="475.77" y="226.47" style='font-family:"Liberation Sans";font-size:16px;letter-spacing:1.19px;' fill="#000" stroke="#000" >0.4</text>
<text x="524.38" y="226.28" style='font-family:"Liberation Sans";font-size:16px;letter-spacing:1.39px;' fill="#000" stroke="#000" >0.6</text>
<text x="576.88" y="226.28" style='font-family:"Liberation Sans";font-size:16px;letter-spacing:1.39px;' fill="#000" stroke="#000" >0.8</text>
<text x="638.88" y="226.20" style='font-family:"Liberation Sans";font-size:16px;' fill="#000" stroke="#000" >1</text><rect x="639.36" y="224.36" width="3.41" height="3.84" fill="#fff"/><rect x="644.43" y="224.36" width="3.41" height="3.84" fill="#fff"/>
<text x="535.67" y="122.50" style='font-family:"Liberation Sans";font-size:15px;letter-spacing:0.64px;' fill="#000" stroke="#000" >x-polarized</text>
<text x="535.80" y="136.60" style='font-family:"Liberation Sans";font-size:15px;letter-spacing:0.63px;' fill="#000" stroke="#000" >y-polarized</text>
<text x="462.98" y="247.30" style='font-family:"Liberation Serif";font-size:22px;font-style:italic;' fill="#000" stroke="#000" >k</text>
<text x="472.23" y="247.30" style='font-family:"Liberation Sans";font-size:22px;letter-spacing:1.78px;' fill="#000" stroke="#000" >(rad/mm)</text>
<text transform="translate(366.10,145.18) rotate(-90)" x="0" y="0" style='font-family:"Liberation Sans";font-size:22px;letter-spacing:1.86px;' fill="#000" stroke="#000">(GHz)</text>
<text transform="translate(366.6,154.3) rotate(-90) skewX(-21)" x="0" y="0" style='font-family:"Liberation Serif";font-style:italic;font-size:22px;' fill="#000" stroke="#000">f</text>
<text x="30.15" y="268.07" style='font-family:"Liberation Sans";font-size:16px;letter-spacing:1.80px;' fill="#000" stroke="#000" >60</text>
<text x="28.93" y="340.07" style='font-family:"Liberation Sans";font-size:16px;letter-spacing:2.43px;' fill="#000" stroke="#000" >40</text>
<text x="29.55" y="410.38" style='font-family:"Liberation Sans";font-size:16px;letter-spacing:2.20px;' fill="#000" stroke="#000" >20</text>
<text x="38.77" y="485.38" style='font-family:"Liberation Sans";font-size:16px;' fill="#000" stroke="#000" >0</text>
<text x="37.98" y="501.70" style='font-family:"Liberation Sans";font-size:16px;letter-spacing:1.89px;' fill="#000" stroke="#000" >-12</text><rect x="45.67" y="499.86" width="3.41" height="3.84" fill="#fff"/><rect x="50.74" y="499.86" width="3.41" height="3.84" fill="#fff"/>
<text x="95.58" y="501.57" style='font-family:"Liberation Sans";font-size:16px;letter-spacing:1.85px;' fill="#000" stroke="#000" >-6</text>
<text x="152.07" y="501.88" style='font-family:"Liberation Sans";font-size:16px;' fill="#000" stroke="#000" >0</text>
<text x="207.15" y="501.68" style='font-family:"Liberation Sans";font-size:16px;' fill="#000" stroke="#000" >6</text>
<text x="253.47" y="501.60" style='font-family:"Liberation Sans";font-size:16px;letter-spacing:2.10px;' fill="#000" stroke="#000" >12</text><rect x="253.95" y="499.76" width="3.41" height="3.84" fill="#fff"/><rect x="259.03" y="499.76" width="3.41" height="3.84" fill="#fff"/>
<text x="126.55" y="539.17" style='font-family:"Liberation Sans";font-size:22px;letter-spacing:1.09px;' fill="#000" stroke="#000" >x (mm)</text>
<text transform="translate(20.60,409.77) rotate(-90)" x="0" y="0" style='font-family:"Liberation Sans";font-size:22px;letter-spacing:2.15px;' fill="#000" stroke="#000">z(mm)</text>
<text x="309.95" y="267.57" style='font-family:"Liberation Sans";font-size:16px;letter-spacing:1.90px;' fill="#000" stroke="#000" >20</text>
<text x="309.18" y="323.77" style='font-family:"Liberation Sans";font-size:16px;letter-spacing:1.98px;' fill="#000" stroke="#000" >10</text><rect x="309.66" y="321.94" width="3.41" height="3.84" fill="#fff"/><rect x="314.73" y="321.94" width="3.41" height="3.84" fill="#fff"/>
<text x="315.38" y="378.38" style='font-family:"Liberation Sans";font-size:16px;' fill="#000" stroke="#000" >0</text>
<text x="304.48" y="433.18" style='font-family:"Liberation Sans";font-size:16px;letter-spacing:1.72px;' fill="#000" stroke="#000" >-10</text><rect x="312.01" y="431.34" width="3.41" height="3.84" fill="#fff"/><rect x="317.08" y="431.34" width="3.41" height="3.84" fill="#fff"/>
<text x="304.68" y="487.88" style='font-family:"Liberation Sans";font-size:16px;letter-spacing:1.42px;' fill="#000" stroke="#000" >-20</text>
<text x="374.45" y="267.48" style='font-family:"Liberation Sans";font-size:16px;letter-spacing:1.70px;' fill="#000" stroke="#000" >60</text>
<text x="373.73" y="344.18" style='font-family:"Liberation Sans";font-size:16px;letter-spacing:2.23px;' fill="#000" stroke="#000" >40</text>
<text x="374.25" y="415.27" style='font-family:"Liberation Sans";font-size:16px;letter-spacing:2.10px;' fill="#000" stroke="#000" >20</text>
<text x="380.18" y="486.88" style='font-family:"Liberation Sans";font-size:16px;' fill="#000" stroke="#000" >0</text>
<text x="386.68" y="501.40" style='font-family:"Liberation Sans";font-size:16px;letter-spacing:1.84px;' fill="#000" stroke="#000" >-12</text><rect x="394.32" y="499.56" width="3.41" height="3.84" fill="#fff"/><rect x="399.39" y="499.56" width="3.41" height="3.84" fill="#fff"/>
<text x="446.07" y="500.68" style='font-family:"Liberation Sans";font-size:16px;letter-spacing:2.15px;' fill="#000" stroke="#000" >-6</text>
<text x="504.88" y="500.88" style='font-family:"Liberation Sans";font-size:16px;' fill="#000" stroke="#000" >0</text>
<text x="552.85" y="500.98" style='font-family:"Liberation Sans";font-size:16px;' fill="#000" stroke="#000" >6</text>
<text x="598.17" y="501.10" style='font-family:"Liberation Sans";font-size:16px;letter-spacing:2.30px;' fill="#000" stroke="#000" >12</text><rect x="598.65" y="499.26" width="3.41" height="3.84" fill="#fff"/><rect x="603.73" y="499.26" width="3.41" height="3.84" fill="#fff"/>
<text x="474.50" y="533.08" style='font-family:"Liberation Sans";font-size:22px;letter-spacing:1.06px;' fill="#000" stroke="#000" >y (mm)</text>
<text transform="translate(367.60,417.57) rotate(-90)" x="0" y="0" style='font-family:"Liberation Sans";font-size:22px;letter-spacing:2.07px;' fill="#000" stroke="#000">z(mm)</text>
<text x="650.88" y="271.70" style='font-family:"Liberation Sans";font-size:16px;' fill="#000" stroke="#000" >1</text><rect x="651.36" y="269.86" width="3.41" height="3.84" fill="#fff"/><rect x="656.43" y="269.86" width="3.41" height="3.84" fill="#fff"/>
<text x="650.08" y="379.68" style='font-family:"Liberation Sans";font-size:16px;' fill="#000" stroke="#000" >0</text>
<text x="646.58" y="483.50" style='font-family:"Liberation Sans";font-size:16px;letter-spacing:1.97px;' fill="#000" stroke="#000" >-1</text><rect x="654.36" y="481.66" width="3.41" height="3.84" fill="#fff"/><rect x="659.43" y="481.66" width="3.41" height="3.84" fill="#fff"/>
</svg></body></html>
